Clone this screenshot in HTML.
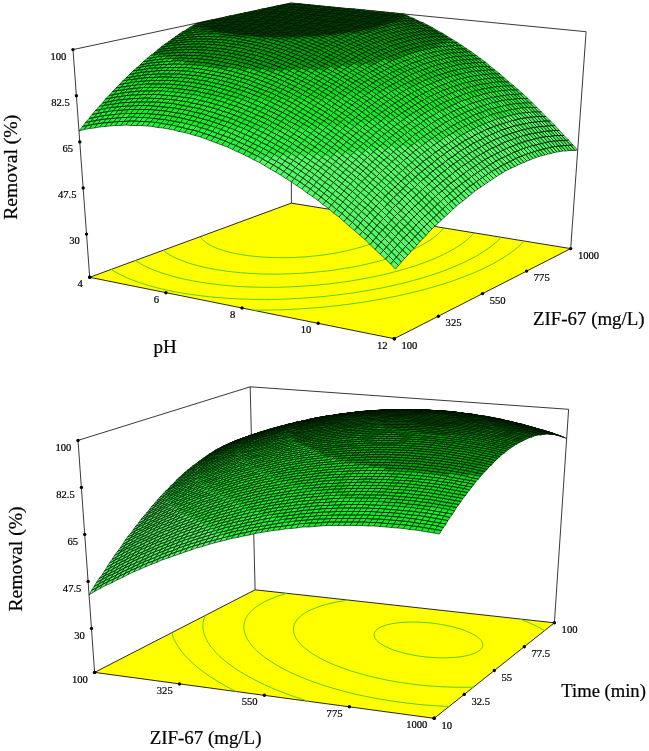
<!DOCTYPE html>
<html><head><meta charset="utf-8"><style>
html,body{margin:0;padding:0;background:#fff}
body{width:649px;height:751px;overflow:hidden;font-family:"Liberation Serif",serif}
svg{display:block}
text{font-family:"Liberation Serif",serif;fill:#000;stroke:#000;stroke-width:0.22px}
</style></head><body>
<svg width="649" height="751" viewBox="0 0 649 751">
<rect width="649" height="751" fill="#fff"/>
<path d="M89.7,277.3 L394.3,338.7 L570.7,248.6 L291.4,203.1 Z" fill="#ff0" stroke="#111" stroke-width="0.9"/>
<path d="M90.8,277.5L90.1,277.1M252.4,310.1L259.3,310.1L264.9,310.1L270.9,310L277.6,309.9L284.1,309.7L290.4,309.4L296.5,309.1L302.3,308.7L308,308.4L313.6,307.9L320,307.4L326.7,306.8L331.9,306.2L337.1,305.7L344.1,304.8L348.8,304.2L355.4,303.3L360.1,302.6L366.7,301.6L371,300.9L377.2,299.8L383.3,298.7L387.8,297.9L393.1,296.8L398.8,295.6L404.4,294.4L409.8,293.1L415.1,291.8L420.3,290.5L425.3,289.2L430.2,287.8L435,286.5L440.2,284.9L445.8,283.2L450.2,281.7L455.5,279.9L460.1,278.2L465.5,276.2L469.4,274.6L474.4,272.5L479.3,270.4L484,268.2L488.5,266L492.8,263.8L496.9,261.5L500.9,259.2L503.7,257.5L507.3,255.1L510.1,253.2L513.2,250.9L515.5,249.1L518,247L520.5,244.8L522.4,242.9L524.2,241L524.2,241M111,269.4L114.3,271.4L116.6,272.7L120.2,274.6L123.4,276.1L126.7,277.7L130.8,279.4L135.2,281L139.7,282.6L144.3,284.2L149.3,285.7L155.9,287.5L161.2,288.8L168.5,290.5L176.1,292L184,293.4L190.1,294.3L198.1,295.4L205.2,296.3L211.9,297L218.8,297.6L225.9,298.2L232.2,298.6L238.2,298.9L245.8,299.1L251.1,299.3L258.9,299.4L264.5,299.4L270.2,299.4L277.2,299.3L283.8,299.1L290.2,298.8L296.3,298.5L302.2,298.2L308,297.8L313.5,297.4L318.9,296.9L325.6,296.3L331.6,295.6L336.5,295.1L343.4,294.2L348.3,293.6L354.7,292.6L359.3,291.9L365.7,290.9L370.9,290L375.9,289L381.8,287.9L387.5,286.7L393.1,285.5L398.5,284.2L403.8,283L408.9,281.7L413.8,280.3L418.7,279L423.4,277.6L428.8,275.9L433.9,274.3L438.2,272.8L443.8,270.8L447.8,269.3L452.9,267.2L457.9,265.1L462.7,263L467.2,260.8L471.5,258.6L475.7,256.4L479.6,254.1L482.4,252.4L486,250.1L488.5,248.3L491.2,246.3L493.9,244.1L496.1,242.2L498.1,240.4L499.9,238.5L501.1,237.3M135.4,260.5L137.4,261.8L140.7,263.8L143,265.1L146.6,266.9L150.2,268.5L153.4,269.9L157.4,271.4L161.8,273L167.3,274.7L172.9,276.4L178,277.7L185.1,279.3L192.6,280.8L200.4,282.2L206.4,283.1L214.9,284.2L221.4,285L228.2,285.6L235.1,286.2L242.3,286.6L248.1,286.9L254.8,287.1L261.3,287.2L268,287.3L273.5,287.3L280,287.2L286.7,287L293.1,286.7L299.2,286.4L305,286L310.6,285.6L316,285.2L322.6,284.5L328.8,283.9L333.6,283.3L340.5,282.4L345.1,281.8L351.7,280.8L356.2,280L362.1,279L368.1,277.9L373.8,276.7L378.6,275.7L383.7,274.6L389,273.3L394.7,271.8L400.1,270.4L404.8,269L409.4,267.6L415.3,265.8L419.6,264.3L425.1,262.3L429,260.8L434,258.8L438.8,256.7L443.4,254.5L447.7,252.3L451.8,250.1L454.7,248.4L458.4,246.1L461,244.4L463.9,242.3L466.5,240.3L468.6,238.4L470.6,236.6L472.4,234.7L474.1,232.9L474.1,232.9M163,250.3L164.8,251.7L167.2,253.3L169.9,255L172.6,256.5L175.8,258L179.7,259.7L183.8,261.3L188.2,262.9L192.8,264.3L197.6,265.6L204.5,267.3L211.7,268.8L219.4,270.1L227.5,271.3L233.8,272L240.4,272.7L247.3,273.2L254.4,273.6L260.5,273.9L267,274L273.2,274.1L280.3,274.1L286,273.9L291.7,273.7L297.7,273.5L303.9,273.1L310.3,272.6L316.7,272L321.8,271.5L327.5,270.9L333.7,270.1L338.8,269.3L344.7,268.4L350.9,267.4L355.7,266.5L360.6,265.5L366.1,264.3L371.4,263L376.5,261.8L382.8,260.1L387.7,258.6L392.2,257.3L397.9,255.3L401.9,253.9L407.1,251.9L412,249.8L416.6,247.7L420.9,245.6L423.9,243.9L427.7,241.7L430.3,240L433.6,237.6L435.8,235.9L437.9,234.1L439.8,232.3L441.5,230.4L443,228.5L443.5,227.9M200.2,236.7L201.3,238.2L202.7,239.8L204.4,241.3L206.9,243.2L209,244.5L212.4,246.3L215.1,247.5L218.9,249L223.2,250.4L229.5,252.2L234.6,253.4L241.9,254.7L247.8,255.6L256.1,256.5L262.8,257.1L269,257.4L274.7,257.6L282.3,257.7L287.9,257.6L293.6,257.5L299.5,257.2L305.7,256.8L312.3,256.2L318,255.6L323.1,255L329.4,254L335.3,253.1L339.8,252.2L345.2,251.1L350.5,249.9L356.5,248.4L361.8,246.9L366.2,245.5L371.7,243.6L376.8,241.6L381.4,239.5L385.6,237.4L388.6,235.8L392.1,233.5L394.4,231.8L396.5,230L398.4,228.2L400,226.4L401.3,224.5L402.2,222.7L402.7,221.2L402.7,221.2" fill="none" stroke="#5fcc10" stroke-width="1"/>
<path d="M73,49.6L291,3" stroke="#222" stroke-width="0.9" fill="none"/>
<path d="M291,3L586.1,31.7" stroke="#222" stroke-width="0.9" fill="none"/>
<path d="M291.4,203.1L291,3" stroke="#222" stroke-width="0.9" fill="none"/>
<path d="M570.7,248.6L586.1,31.7" stroke="#222" stroke-width="0.9" fill="none"/>
<path d="M89.7,277.3L73,49.6" stroke="#222" stroke-width="0.9" fill="none"/>
<g stroke="#001000" stroke-width="1.2" stroke-linejoin="round" transform="scale(0.5)"><path fill="#008a02" d="M575,8l10,1 7-2 -10-1zM567,9l10,1 8-1 -10-1zM560,11l10,1 7-2 -10-1zM553,12l10,1 7-1 -10-1zM546,14l10,1 7-2 -10-1zM538,15l10,1 8-1 -10-1zM531,17l10,1 7-2 -10-1zM524,18l10,1 7-1 -10-1zM517,20l10,1 7-2 -10-1zM509,22l10,1 8-2 -10-1zM502,23l10,1 7-1 -10-1zM495,25l10,1 7-2 -10-1zM488,26l10,1 7-1 -10-1zM480,28l10,1 8-2 -10-1zM473,29l10,1 7-1 -10-1zM466,31l10,1 7-2 -10-1zM458,32l11,2 7-2 -10-1zM451,34l10,1 8-1 -11-2zM444,36l10,1 7-2 -10-1zM437,37l10,1 7-1 -10-1zM429,39l11,1 7-2 -10-1zM422,40l10,1 8-1 -11-1zM415,42l10,1 7-2 -10-1zM408,43l10,1 7-1 -10-1zM400,45l11,1 7-2 -10-1zM393,47l10,1 8-2 -11-1zM386,51l10-1 7-2 -10-1zM379,55l10-1 7-4 -10,1z"/><path fill="#00a406" d="M372,60l10-2 7-4 -10,1zM364,64l11-1 7-5 -10,2zM357,69l11-2 7-4 -11,1zM350,74l10-2 8-5 -11,2zM343,79l10-2 7-5 -10,2zM336,84l10-2 7-5 -10,2zM329,89l10-2 7-5 -10,2zM322,94l10-1 7-6 -10,2zM315,100l10-2 7-5 -10,1zM308,106l10-2 7-6 -10,2zM301,111l10-1 7-6 -10,2z"/><path fill="#0ce01e" d="M294,117l10-1 7-6 -10,1zM287,123l10-1 7-6 -10,1zM280,130l10-2 7-6 -10,1zM273,136l10-2 7-6 -10,2zM266,142l10-2 7-6 -10,2zM259,149l10-2 7-7 -10,2zM252,156l11-2 6-7 -10,2zM245,162l11-2 7-6 -11,2z"/><path fill="#14ec28" d="M239,169l10-2 7-7 -11,2zM232,176l10-2 7-7 -10,2zM225,183l10-2 7-7 -10,2zM218,191l10-2 7-8 -10,2zM211,198l11-2 6-7 -10,2zM205,206l10-2 7-8 -11,2zM198,213l10-2 7-7 -10,2z"/><path fill="#26f43c" d="M191,221l10-2 7-8 -10,2zM184,229l11-2 6-8 -10,2zM178,237l10-2 7-8 -11,2zM171,245l10-2 7-8 -10,2zM165,253l10-2 6-8 -10,2zM158,262l10-3 7-8 -10,2z"/><path fill="#008a02" d="M585,9l9,0 8-1 -10-1zM577,10l10,1 7-2 -9,0zM570,12l10,1 7-2 -10-1zM563,13l10,1 7-1 -10-1zM556,15l10,1 7-2 -10-1zM548,16l10,1 8-1 -10-1zM541,18l10,1 7-2 -10-1zM534,19l10,1 7-1 -10-1zM527,21l10,1 7-2 -10-1zM519,23l10,1 8-2 -10-1zM512,24l10,1 7-1 -10-1zM505,26l10,1 7-2 -10-1zM498,27l10,1 7-1 -10-1zM490,29l10,1 8-2 -10-1zM483,30l10,1 7-1 -10-1zM476,32l10,1 7-2 -10-1zM469,34l10,1 7-2 -10-1zM461,35l10,1 8-1 -10-1zM454,37l10,1 7-2 -10-1zM447,38l10,1 7-1 -10-1zM440,40l10,1 7-2 -10-1zM432,41l11,1 7-1 -10-1zM425,43l10,1 8-2 -11-1zM418,44l10,2 7-2 -10-1zM411,46l10,1 7-1 -10-2zM403,48l11,1 7-2 -10-1zM396,50l10,0 8-1 -11-1zM389,54l10-1 7-3 -10,0zM382,58l10-1 7-4 -10,1z"/><path fill="#00a406" d="M375,63l10-2 7-4 -10,1zM368,67l10-1 7-5 -10,2zM360,72l11-1 7-5 -10,1zM353,77l11-1 7-5 -11,1zM346,82l11-1 7-5 -11,1zM339,87l11-1 7-5 -11,1zM332,93l10-2 8-5 -11,1zM325,98l10-1 7-6 -10,2zM318,104l10-2 7-5 -10,1zM311,110l10-2 7-6 -10,2z"/><path fill="#0ce01e" d="M304,116l10-2 7-6 -10,2zM297,122l11-2 6-6 -10,2zM290,128l11-2 7-6 -11,2zM283,134l11-2 7-6 -11,2zM276,140l11-1 7-7 -11,2zM269,147l11-2 7-6 -11,1zM263,154l10-2 7-7 -11,2zM256,160l10-1 7-7 -10,2z"/><path fill="#14ec28" d="M249,167l10-1 7-7 -10,1zM242,174l10-1 7-7 -10,1zM235,181l11-1 6-7 -10,1zM228,189l11-2 7-7 -11,1zM222,196l10-2 7-7 -11,2zM215,204l10-2 7-8 -10,2zM208,211l11-2 6-7 -10,2zM201,219l11-2 7-8 -11,2z"/><path fill="#26f43c" d="M195,227l10-2 7-8 -11,2zM188,235l10-2 7-8 -10,2zM181,243l11-2 6-8 -10,2zM175,251l10-2 7-8 -11,2zM168,259l11-2 6-8 -10,2z"/><path fill="#008a02" d="M594,9l10,1 8-1 -10-1zM587,11l10,1 7-2 -10-1zM580,13l10,1 7-2 -10-1zM573,14l10,1 7-1 -10-1zM566,16l9,1 8-2 -10-1zM558,17l10,1 7-1 -9-1zM551,19l10,1 7-2 -10-1zM544,20l10,2 7-2 -10-1zM537,22l10,1 7-1 -10-2zM529,24l10,1 8-2 -10-1zM522,25l10,1 7-1 -10-1zM515,27l10,1 7-2 -10-1zM508,28l10,1 7-1 -10-1zM500,30l10,1 8-2 -10-1zM493,31l10,2 7-2 -10-1zM486,33l10,1 7-1 -10-2zM479,35l10,1 7-2 -10-1zM471,36l11,1 7-1 -10-1zM464,38l10,1 8-2 -11-1zM457,39l10,1 7-1 -10-1zM450,41l10,1 7-2 -10-1zM443,42l10,2 7-2 -10-1zM435,44l11,1 7-1 -10-2zM428,46l10,1 8-2 -11-1zM421,47l10,1 7-1 -10-1zM414,49l10,1 7-2 -10-1zM406,50l11,2 7-2 -10-1zM399,53l10,0 8-1 -11-2zM392,57l10-1 7-3 -10,0z"/><path fill="#00a406" d="M385,61l10-1 7-4 -10,1zM378,66l10-1 7-5 -10,1zM371,71l10-1 7-5 -10,1zM364,76l10-1 7-5 -10,1zM357,81l10-1 7-5 -10,1zM350,86l10-1 7-5 -10,1zM342,91l11-1 7-5 -10,1zM335,97l11-1 7-6 -11,1zM328,102l11-1 7-5 -11,1zM321,108l11-1 7-6 -11,1zM314,114l11-1 7-6 -11,1z"/><path fill="#0ce01e" d="M308,120l10-1 7-6 -11,1zM301,126l10-1 7-6 -10,1zM294,132l10-1 7-6 -10,1zM287,139l10-2 7-6 -10,1zM280,145l10-1 7-7 -10,2zM273,152l10-1 7-7 -10,1zM266,159l10-2 7-6 -10,1zM259,166l11-2 6-7 -10,2z"/><path fill="#14ec28" d="M252,173l11-2 7-7 -11,2zM246,180l10-2 7-7 -11,2zM239,187l10-2 7-7 -10,2zM232,194l10-1 7-8 -10,2zM225,202l11-2 6-7 -10,1zM219,209l10-1 7-8 -11,2zM212,217l10-2 7-7 -10,1z"/><path fill="#26f43c" d="M205,225l11-2 6-8 -10,2zM198,233l11-2 7-8 -11,2zM192,241l10-2 7-8 -11,2zM185,249l11-2 6-8 -10,2zM179,257l10-1 7-9 -11,2z"/><path fill="#008a02" d="M604,10l10,1 7-1 -9-1zM597,12l10,1 7-2 -10-1zM590,14l10,1 7-2 -10-1zM583,15l10,1 7-1 -10-1zM575,17l10,1 8-2 -10-1zM568,18l10,1 7-1 -10-1zM561,20l10,1 7-2 -10-1zM554,22l10,1 7-2 -10-1zM547,23l10,1 7-1 -10-1zM539,25l10,1 8-2 -10-1zM532,26l10,1 7-1 -10-1zM525,28l10,1 7-2 -10-1zM518,29l10,1 7-1 -10-1zM510,31l11,1 7-2 -10-1zM503,33l10,1 8-2 -11-1zM496,34l10,1 7-1 -10-1zM489,36l10,1 7-2 -10-1zM482,37l10,1 7-1 -10-1zM474,39l11,1 7-2 -10-1zM467,40l10,2 8-2 -11-1zM460,42l10,1 7-1 -10-2zM453,44l10,1 7-2 -10-1zM446,45l10,1 7-1 -10-1zM438,47l11,1 7-2 -10-1zM431,48l10,2 8-2 -11-1zM424,50l10,1 7-1 -10-2zM417,52l10,1 7-2 -10-1zM409,53l11,1 7-1 -10-1zM402,56l11,0 7-2 -11-1zM395,60l10,0 8-4 -11,0z"/><path fill="#00a406" d="M388,65l10-1 7-4 -10,0zM381,70l10-1 7-5 -10,1zM374,75l10-1 7-5 -10,1zM367,80l10-1 7-5 -10,1zM360,85l10-1 7-5 -10,1zM353,90l10-1 7-5 -10,1zM346,96l10-1 7-6 -10,1zM339,101l10-1 7-5 -10,1zM332,107l10-1 7-6 -10,1zM325,113l10-1 7-6 -10,1z"/><path fill="#0ce01e" d="M318,119l10-1 7-6 -10,1zM311,125l10-1 7-6 -10,1zM304,131l10-1 7-6 -10,1zM297,137l10-1 7-6 -10,1zM290,144l11-1 6-7 -10,1zM283,151l11-2 7-6 -11,1zM276,157l11-1 7-7 -11,2zM270,164l10-1 7-7 -11,1z"/><path fill="#14ec28" d="M263,171l10-1 7-7 -10,1zM256,178l10-1 7-7 -10,1zM249,185l11-1 6-7 -10,1zM242,193l11-2 7-7 -11,1zM236,200l10-1 7-8 -11,2zM229,208l10-2 7-7 -10,1zM222,215l11-1 6-8 -10,2zM216,223l10-1 7-8 -11,1z"/><path fill="#26f43c" d="M209,231l10-1 7-8 -10,1zM202,239l11-1 6-8 -10,1zM196,247l10-1 7-8 -11,1zM189,256l10-2 7-8 -10,1z"/><path fill="#008a02" d="M614,11l10,1 7-1 -10-1zM607,13l10,1 7-2 -10-1zM600,15l10,1 7-2 -10-1zM593,16l9,1 8-1 -10-1zM585,18l10,1 7-2 -9-1zM578,19l10,1 7-1 -10-1zM571,21l10,1 7-2 -10-1zM564,23l10,1 7-2 -10-1zM557,24l10,1 7-1 -10-1zM549,26l10,1 8-2 -10-1zM542,27l10,1 7-1 -10-1zM535,29l10,1 7-2 -10-1zM528,30l10,2 7-2 -10-1zM521,32l10,1 7-1 -10-2zM513,34l10,1 8-2 -10-1zM506,35l10,1 7-1 -10-1zM499,37l10,1 7-2 -10-1zM492,38l10,2 7-2 -10-1zM485,40l10,1 7-1 -10-2zM477,42l11,1 7-2 -10-1zM470,43l10,1 8-1 -11-1zM463,45l10,1 7-2 -10-1zM456,46l10,1 7-1 -10-1zM449,48l10,1 7-2 -10-1zM441,50l11,1 7-2 -10-1zM434,51l10,1 8-1 -11-1zM427,53l10,1 7-2 -10-1zM420,54l10,1 7-1 -10-1zM413,56l10,1 7-2 -10-1zM405,60l11-1 7-2 -10-1zM398,64l11,0 7-5 -11,1z"/><path fill="#00a406" d="M391,69l11-1 7-4 -11,0zM384,74l11-1 7-5 -11,1zM377,79l11-1 7-5 -11,1zM370,84l10-1 8-5 -11,1zM363,89l10,0 7-6 -10,1zM356,95l10-1 7-5 -10,0zM349,100l10,0 7-6 -10,1zM342,106l11-1 6-5 -10,0zM335,112l11-1 7-6 -11,1zM328,118l11-1 7-6 -11,1z"/><path fill="#0ce01e" d="M321,124l11-1 7-6 -11,1zM314,130l11-1 7-6 -11,1zM307,136l11,0 7-7 -11,1zM301,143l10-1 7-6 -11,0zM294,149l10,0 7-7 -10,1zM287,156l10-1 7-6 -10,0zM280,163l10-1 7-7 -10,1zM273,170l11-1 6-7 -10,1z"/><path fill="#14ec28" d="M266,177l11-1 7-7 -11,1zM260,184l10-1 7-7 -11,1zM253,191l10-1 7-7 -10,1zM246,199l11-1 6-8 -10,1zM239,206l11-1 7-7 -11,1zM233,214l10-1 7-8 -11,1zM226,222l10-1 7-8 -10,1z"/><path fill="#26f43c" d="M219,230l11-1 6-8 -10,1zM213,238l10-1 7-8 -11,1zM206,246l10-1 7-8 -10,1zM199,254l11-1 6-8 -10,1z"/><path fill="#008a02" d="M624,12l10,1 7-1 -10-1zM617,14l10,1 7-2 -10-1zM610,16l10,1 7-2 -10-1zM602,17l10,1 8-1 -10-1zM595,19l10,1 7-2 -10-1zM588,20l10,1 7-1 -10-1zM581,22l10,1 7-2 -10-1zM574,24l10,1 7-2 -10-1zM567,25l10,1 7-1 -10-1zM559,27l10,1 8-2 -10-1zM552,28l10,1 7-1 -10-1zM545,30l10,1 7-2 -10-1zM538,32l10,1 7-2 -10-1zM531,33l10,1 7-1 -10-1zM523,35l11,1 7-2 -10-1zM516,36l10,1 8-1 -11-1zM509,38l10,1 7-2 -10-1zM502,40l10,1 7-2 -10-1zM495,41l10,1 7-1 -10-1zM488,43l10,1 7-2 -10-1zM480,44l11,1 7-1 -10-1zM473,46l10,1 8-2 -11-1zM466,47l10,2 7-2 -10-1zM459,49l10,1 7-1 -10-2zM452,51l10,1 7-2 -10-1zM444,52l11,1 7-1 -10-1zM437,54l11,1 7-2 -11-1zM430,55l10,2 8-2 -11-1zM423,57l10,1 7-1 -10-2zM416,59l10,1 7-2 -10-1zM409,64l10,0 7-4 -10-1z"/><path fill="#00a406" d="M402,68l10,0 7-4 -10,0zM395,73l10,0 7-5 -10,0zM388,78l10,0 7-5 -10,0zM380,83l11,0 7-5 -10,0zM373,89l11-1 7-5 -11,0zM366,94l11,0 7-6 -11,1zM359,100l11-1 7-5 -11,0zM353,105l10,0 7-6 -11,1zM346,111l10,0 7-6 -10,0zM339,117l10,0 7-6 -10,0z"/><path fill="#0ce01e" d="M332,123l10,0 7-6 -10,0zM325,129l10,0 7-6 -10,0zM318,136l10-1 7-6 -10,0zM311,142l10-1 7-6 -10,1zM304,149l11-1 6-7 -10,1zM297,155l11,0 7-7 -11,1zM290,162l11-1 7-6 -11,0zM284,169l10-1 7-7 -11,1z"/><path fill="#14ec28" d="M277,176l10-1 7-7 -10,1zM270,183l10-1 7-7 -10,1zM263,190l11,0 6-8 -10,1zM257,198l10-1 7-7 -11,0zM250,205l10,0 7-8 -10,1zM243,213l11-1 6-7 -10,0zM236,221l11-1 7-8 -11,1zM230,229l10-1 7-8 -11,1z"/><path fill="#26f43c" d="M223,237l11-1 6-8 -10,1zM216,245l11-1 7-8 -11,1zM210,253l10-1 7-8 -11,1z"/><path fill="#008a02" d="M634,13l10,1 7-1 -10-1zM627,15l10,1 7-2 -10-1zM620,17l9,1 8-2 -10-1zM612,18l10,1 7-1 -9-1zM605,20l10,1 7-2 -10-1zM598,21l10,1 7-1 -10-1zM591,23l10,1 7-2 -10-1zM584,25l10,1 7-2 -10-1zM577,26l10,1 7-1 -10-1zM569,28l10,1 8-2 -10-1zM562,29l10,1 7-1 -10-1zM555,31l10,1 7-2 -10-1zM548,33l10,1 7-2 -10-1zM541,34l10,1 7-1 -10-1zM534,36l10,1 7-2 -10-1zM526,37l11,2 7-2 -10-1zM519,39l10,1 8-1 -11-2zM512,41l10,1 7-2 -10-1zM505,42l10,1 7-1 -10-1zM498,44l10,1 7-2 -10-1zM491,45l10,2 7-2 -10-1zM483,47l11,1 7-1 -10-2zM476,49l10,1 8-2 -11-1zM469,50l10,1 7-1 -10-1zM462,52l10,1 7-2 -10-1zM455,53l10,2 7-2 -10-1zM448,55l10,1 7-1 -10-2zM440,57l11,1 7-2 -10-1zM433,58l11,1 7-1 -11-1zM426,60l10,1 8-2 -11-1zM419,64l10-1 7-2 -10-1zM412,68l10,0 7-5 -10,1z"/><path fill="#00a406" d="M405,73l10,0 7-5 -10,0zM398,78l10,0 7-5 -10,0zM391,83l10,0 7-5 -10,0zM384,88l10,0 7-5 -10,0zM377,94l10,0 7-6 -10,0zM370,99l10,0 7-5 -10,0zM363,105l10,0 7-6 -10,0zM356,111l10-1 7-5 -10,0zM349,117l10-1 7-6 -10,1zM342,123l10-1 7-6 -10,1z"/><path fill="#0ce01e" d="M335,129l11-1 6-6 -10,1zM328,135l11,0 7-7 -11,1zM321,141l11,0 7-6 -11,0zM315,148l10,0 7-7 -11,0zM308,155l10-1 7-6 -10,0zM301,161l10,0 7-7 -10,1zM294,168l11,0 6-7 -10,0zM287,175l11,0 7-7 -11,0z"/><path fill="#14ec28" d="M280,182l11,0 7-7 -11,0zM274,190l10-1 7-7 -11,0zM267,197l10,0 7-8 -10,1zM260,205l11-1 6-7 -10,0zM254,212l10,0 7-8 -11,1zM247,220l10-1 7-7 -10,0zM240,228l11-1 6-8 -10,1z"/><path fill="#26f43c" d="M234,236l10-1 7-8 -11,1zM227,244l10-1 7-8 -10,1zM220,252l11-1 6-8 -10,1z"/><path fill="#008a02" d="M644,14l10,1 7-1 -10-1zM637,16l9,1 8-2 -10-1zM629,18l10,1 7-2 -9-1zM622,19l10,1 7-1 -10-1zM615,21l10,1 7-2 -10-1zM608,22l10,1 7-1 -10-1zM601,24l10,1 7-2 -10-1zM594,26l10,1 7-2 -10-1zM587,27l10,1 7-1 -10-1zM579,29l10,1 8-2 -10-1zM572,30l10,1 7-1 -10-1zM565,32l10,1 7-2 -10-1zM558,34l10,1 7-2 -10-1zM551,35l10,1 7-1 -10-1zM544,37l10,1 7-2 -10-1zM537,39l10,1 7-2 -10-1zM529,40l10,1 8-1 -10-1zM522,42l10,1 7-2 -10-1zM515,43l10,1 7-1 -10-1zM508,45l10,1 7-2 -10-1zM501,47l10,1 7-2 -10-1zM494,48l10,1 7-1 -10-1zM486,50l11,1 7-2 -10-1zM479,51l11,2 7-2 -11-1zM472,53l10,1 8-1 -11-2zM465,55l10,1 7-2 -10-1zM458,56l10,1 7-1 -10-1zM451,58l10,1 7-2 -10-1zM444,59l10,2 7-2 -10-1zM436,61l11,1 7-1 -10-2zM429,63l11,1 7-2 -11-1zM422,68l11,0 7-4 -11-1z"/><path fill="#00a406" d="M415,73l11,0 7-5 -11,0zM408,78l11,0 7-5 -11,0zM401,83l11,0 7-5 -11,0zM394,88l11,0 7-5 -11,0zM387,94l11,0 7-6 -11,0zM380,99l11,0 7-5 -11,0zM373,105l11,0 7-6 -11,0zM366,110l11,1 7-6 -11,0zM359,116l11,0 7-5 -11-1zM352,122l11,0 7-6 -11,0z"/><path fill="#0ce01e" d="M346,128l10,0 7-6 -11,0zM339,135l10,0 7-7 -10,0zM332,141l10,0 7-6 -10,0zM325,148l10,0 7-7 -10,0zM318,154l11,0 6-6 -10,0zM311,161l11,0 7-7 -11,0zM305,168l10,0 7-7 -11,0zM298,175l10,0 7-7 -10,0z"/><path fill="#14ec28" d="M291,182l10,0 7-7 -10,0zM284,189l11,0 6-7 -10,0zM277,197l11-1 7-7 -11,0zM271,204l10,0 7-8 -11,1zM264,212l11-1 6-7 -10,0zM257,219l11,0 7-8 -11,1zM251,227l10,0 7-8 -11,0z"/><path fill="#26f43c" d="M244,235l11,0 6-8 -10,0zM237,243l11,0 7-8 -11,0zM231,251l10,0 7-8 -11,0z"/><path fill="#008a02" d="M654,15l9,1 8-1 -10-1zM646,17l10,1 7-2 -9-1zM639,19l10,1 7-2 -10-1zM632,20l10,1 7-1 -10-1zM625,22l10,1 7-2 -10-1zM618,23l10,1 7-1 -10-1zM611,25l10,1 7-2 -10-1zM604,27l10,1 7-2 -10-1zM597,28l10,1 7-1 -10-1zM589,30l10,1 8-2 -10-1zM582,31l10,2 7-2 -10-1zM575,33l10,1 7-1 -10-2zM568,35l10,1 7-2 -10-1zM561,36l10,1 7-1 -10-1zM554,38l10,1 7-2 -10-1zM547,40l10,1 7-2 -10-1zM539,41l11,1 7-1 -10-1zM532,43l11,1 7-2 -11-1zM525,44l10,2 8-2 -11-1zM518,46l10,1 7-1 -10-2zM511,48l10,1 7-2 -10-1zM504,49l10,1 7-1 -10-1zM497,51l10,1 7-2 -10-1zM490,53l10,1 7-2 -10-1zM482,54l11,1 7-1 -10-1zM475,56l11,1 7-2 -11-1zM468,57l10,2 8-2 -11-1zM461,59l10,1 7-1 -10-2zM454,61l10,1 7-2 -10-1zM447,62l10,2 7-2 -10-1zM440,64l10,1 7-1 -10-2zM433,68l10,1 7-4 -10-1z"/><path fill="#00a406" d="M426,73l10,1 7-5 -10-1zM419,78l10,1 7-5 -10-1zM412,83l10,1 7-5 -10-1zM405,88l10,1 7-5 -10-1zM398,94l10,0 7-5 -10-1zM391,99l10,1 7-6 -10,0zM384,105l10,0 7-5 -10-1zM377,111l10,0 7-6 -10,0zM370,116l10,1 7-6 -10,0zM363,122l10,1 7-6 -10-1z"/><path fill="#0ce01e" d="M356,128l10,1 7-6 -10-1zM349,135l11,0 6-6 -10-1zM342,141l11,0 7-6 -11,0zM335,148l11,0 7-7 -11,0zM329,154l10,0 7-6 -11,0zM322,161l10,0 7-7 -10,0zM315,168l10,0 7-7 -10,0zM308,175l11,0 6-7 -10,0z"/><path fill="#14ec28" d="M301,182l11,0 7-7 -11,0zM295,189l10,0 7-7 -11,0zM288,196l10,0 7-7 -10,0zM281,204l11,0 6-8 -10,0zM275,211l10,0 7-7 -11,0zM268,219l10,0 7-8 -10,0zM261,227l11,0 6-8 -10,0zM255,235l10-1 7-7 -11,0z"/><path fill="#26f43c" d="M248,243l10-1 7-8 -10,1zM241,251l11-1 6-8 -10,1z"/><path fill="#008a02" d="M663,16l10,1 7-1 -9-1zM656,18l10,1 7-2 -10-1zM649,20l10,0 7-1 -10-1zM642,21l10,1 7-2 -10,0zM635,23l10,1 7-2 -10-1zM628,24l10,1 7-1 -10-1zM621,26l10,1 7-2 -10-1zM614,28l10,1 7-2 -10-1zM607,29l10,1 7-1 -10-1zM599,31l10,1 8-2 -10-1zM592,33l10,1 7-2 -10-1zM585,34l10,1 7-1 -10-1zM578,36l10,1 7-2 -10-1zM571,37l10,2 7-2 -10-1zM564,39l10,1 7-1 -10-2zM557,41l10,1 7-2 -10-1zM550,42l10,1 7-1 -10-1zM543,44l10,1 7-2 -10-1zM535,46l11,1 7-2 -10-1zM528,47l10,1 8-1 -11-1zM521,49l10,1 7-2 -10-1zM514,50l10,2 7-2 -10-1zM507,52l10,1 7-1 -10-2zM500,54l10,1 7-2 -10-1zM493,55l10,2 7-2 -10-1zM486,57l10,1 7-1 -10-2zM478,59l11,1 7-2 -10-1zM471,60l11,1 7-1 -11-1zM464,62l11,1 7-2 -11-1zM457,64l11,1 7-2 -11-1zM450,65l10,1 8-1 -11-1zM443,69l10,1 7-4 -10-1zM436,74l10,0 7-4 -10-1z"/><path fill="#00a406" d="M429,79l10,0 7-5 -10,0zM422,84l10,0 7-5 -10,0zM415,89l10,0 7-5 -10,0zM408,94l10,1 7-6 -10,0zM401,100l10,0 7-5 -10-1zM394,105l11,1 6-6 -10,0zM387,111l11,0 7-5 -11-1zM380,117l11,0 7-6 -11,0zM373,123l11,0 7-6 -11,0zM366,129l11,0 7-6 -11,0z"/><path fill="#0ce01e" d="M360,135l10,0 7-6 -11,0zM353,141l10,1 7-7 -10,0zM346,148l10,0 7-6 -10-1zM339,154l11,1 6-7 -10,0zM332,161l11,0 7-6 -11-1zM325,168l11,0 7-7 -11,0zM319,175l10,0 7-7 -11,0zM312,182l10,0 7-7 -10,0z"/><path fill="#14ec28" d="M305,189l11,0 6-7 -10,0zM298,196l11,1 7-8 -11,0zM292,204l10,0 7-7 -11-1zM285,211l11,0 6-7 -10,0zM278,219l11,0 7-8 -11,0zM272,227l10,0 7-8 -11,0zM265,234l11,1 6-8 -10,0z"/><path fill="#26f43c" d="M258,242l11,0 7-7 -11-1zM252,250l10,1 7-9 -11,0z"/><path fill="#008a02" d="M673,17l10,1 7-1 -10-1zM666,19l10,1 7-2 -10-1zM659,20l10,1 7-1 -10-1zM652,22l10,1 7-2 -10-1zM645,24l10,1 7-2 -10-1zM638,25l10,1 7-1 -10-1zM631,27l10,1 7-2 -10-1zM624,29l10,1 7-2 -10-1zM617,30l9,1 8-1 -10-1zM609,32l10,1 7-2 -9-1zM602,34l10,1 7-2 -10-1zM595,35l10,1 7-1 -10-1zM588,37l10,1 7-2 -10-1zM581,39l10,1 7-2 -10-1zM574,40l10,1 7-1 -10-1zM567,42l10,1 7-2 -10-1zM560,43l10,2 7-2 -10-1zM553,45l10,1 7-1 -10-2zM546,47l10,1 7-2 -10-1zM538,48l11,1 7-1 -10-1zM531,50l11,1 7-2 -11-1zM524,52l10,1 8-2 -11-1zM517,53l10,1 7-1 -10-1zM510,55l10,1 7-2 -10-1zM503,57l10,1 7-2 -10-1zM496,58l10,1 7-1 -10-1zM489,60l10,1 7-2 -10-1zM482,61l10,2 7-2 -10-1zM475,63l10,1 7-1 -10-2zM468,65l10,1 7-2 -10-1zM460,66l11,2 7-2 -10-1zM453,70l11,1 7-3 -11-2zM446,74l11,1 7-4 -11-1z"/><path fill="#00a406" d="M439,79l11,1 7-5 -11-1zM432,84l11,1 7-5 -11-1zM425,89l11,1 7-5 -11-1zM418,95l11,1 7-6 -11-1zM411,100l11,1 7-5 -11-1zM405,106l10,1 7-6 -11-1zM398,111l10,1 7-5 -10-1zM391,117l10,1 7-6 -10-1zM384,123l10,1 7-6 -10-1zM377,129l10,1 7-6 -10-1z"/><path fill="#0ce01e" d="M370,135l11,1 6-6 -10-1zM363,142l11,0 7-6 -11-1zM356,148l11,1 7-7 -11,0zM350,155l10,0 7-6 -11-1zM343,161l10,1 7-7 -10,0zM336,168l11,1 6-7 -10-1zM329,175l11,1 7-7 -11-1zM322,182l11,1 7-7 -11-1z"/><path fill="#14ec28" d="M316,189l10,1 7-7 -11-1zM309,197l11,0 6-7 -10-1zM302,204l11,0 7-7 -11,0zM296,211l10,1 7-8 -11,0zM289,219l11,0 6-7 -10-1zM282,227l11,0 7-8 -11,0zM276,235l10,0 7-8 -11,0z"/><path fill="#26f43c" d="M269,242l11,1 6-8 -10,0zM262,251l11,0 7-8 -11-1z"/><path fill="#008a02" d="M683,18l10,1 7-2 -10,0zM676,20l10,1 7-2 -10-1zM669,21l10,1 7-1 -10-1zM662,23l10,1 7-2 -10-1zM655,25l10,1 7-2 -10-1zM648,26l10,1 7-1 -10-1zM641,28l10,1 7-2 -10-1zM634,30l10,1 7-2 -10-1zM626,31l10,1 8-1 -10-1zM619,33l10,1 7-2 -10-1zM612,35l10,1 7-2 -10-1zM605,36l10,1 7-1 -10-1zM598,38l10,1 7-2 -10-1zM591,40l10,1 7-2 -10-1zM584,41l10,1 7-1 -10-1zM577,43l10,1 7-2 -10-1zM570,45l10,1 7-2 -10-1zM563,46l10,1 7-1 -10-1zM556,48l10,1 7-2 -10-1zM549,49l10,2 7-2 -10-1zM542,51l10,1 7-1 -10-2zM534,53l11,1 7-2 -10-1zM527,54l11,2 7-2 -11-1zM520,56l11,1 7-1 -11-2zM513,58l11,1 7-2 -11-1zM506,59l10,2 8-2 -11-1zM499,61l10,1 7-1 -10-2zM492,63l10,1 7-2 -10-1zM485,64l10,2 7-2 -10-1zM478,66l10,1 7-1 -10-2zM471,68l10,1 7-2 -10-1zM464,71l10,1 7-3 -10-1zM457,75l10,1 7-4 -10-1z"/><path fill="#00a406" d="M450,80l10,1 7-5 -10-1zM443,85l10,1 7-5 -10-1zM436,90l10,1 7-5 -10-1zM429,96l10,1 7-6 -10-1zM422,101l10,1 7-5 -10-1zM415,107l10,1 7-6 -10-1zM408,112l11,1 6-5 -10-1zM401,118l11,1 7-6 -11-1zM394,124l11,1 7-6 -11-1zM387,130l11,1 7-6 -11-1z"/><path fill="#0ce01e" d="M381,136l10,1 7-6 -11-1zM374,142l10,1 7-6 -10-1zM367,149l10,1 7-7 -10-1zM360,155l11,1 6-6 -10-1zM353,162l11,1 7-7 -11-1zM347,169l10,1 7-7 -11-1zM340,176l10,1 7-7 -10-1zM333,183l11,1 6-7 -10-1z"/><path fill="#14ec28" d="M326,190l11,1 7-7 -11-1zM320,197l10,1 7-7 -11-1zM313,204l10,1 7-7 -10-1zM306,212l11,1 6-8 -10-1zM300,219l10,1 7-7 -11-1zM293,227l10,1 7-8 -10-1zM286,235l11,1 6-8 -10-1z"/><path fill="#26f43c" d="M280,243l10,0 7-7 -11-1zM273,251l11,0 6-8 -10,0z"/><path fill="#008a02" d="M693,19l10,1 7-2 -10-1zM686,21l10,1 7-2 -10-1zM679,22l10,1 7-1 -10-1zM672,24l10,1 7-2 -10-1zM665,26l10,1 7-2 -10-1zM658,27l10,1 7-1 -10-1zM651,29l10,1 7-2 -10-1zM644,31l10,1 7-2 -10-1zM636,32l10,1 8-1 -10-1zM629,34l10,1 7-2 -10-1zM622,36l10,1 7-2 -10-1zM615,37l10,1 7-1 -10-1zM608,39l10,1 7-2 -10-1zM601,41l10,1 7-2 -10-1zM594,42l10,1 7-1 -10-1zM587,44l10,1 7-2 -10-1zM580,46l10,1 7-2 -10-1zM573,47l10,1 7-1 -10-1zM566,49l10,1 7-2 -10-1zM559,51l10,1 7-2 -10-1zM552,52l10,1 7-1 -10-1zM545,54l10,1 7-2 -10-1zM538,56l10,1 7-2 -10-1zM531,57l10,1 7-1 -10-1zM524,59l10,1 7-2 -10-1zM516,61l11,1 7-2 -10-1zM509,62l11,1 7-1 -11-1zM502,64l11,1 7-2 -11-1zM495,66l11,1 7-2 -11-1zM488,67l11,1 7-1 -11-1zM481,69l11,1 7-2 -11-1zM474,72l10,1 8-3 -11-1zM467,76l11,2 6-5 -10-1z"/><path fill="#00a406" d="M460,81l11,2 7-5 -11-2zM453,86l11,2 7-5 -11-2zM446,91l11,2 7-5 -11-2zM439,97l11,1 7-5 -11-2zM432,102l11,1 7-5 -11-1zM425,108l11,1 7-6 -11-1zM419,113l10,2 7-6 -11-1zM412,119l10,1 7-5 -10-2zM405,125l10,1 7-6 -10-1zM398,131l10,1 7-6 -10-1z"/><path fill="#0ce01e" d="M391,137l11,1 6-6 -10-1zM384,143l11,2 7-7 -11-1zM377,150l11,1 7-6 -11-2zM371,156l10,1 7-6 -11-1zM364,163l10,1 7-7 -10-1zM357,170l11,1 6-7 -10-1zM350,177l11,1 7-7 -11-1zM344,184l10,1 7-7 -11-1z"/><path fill="#14ec28" d="M337,191l10,1 7-7 -10-1zM330,198l11,1 6-7 -10-1zM323,205l11,1 7-7 -11-1zM317,213l10,1 7-8 -11-1zM310,220l11,1 6-7 -10-1zM303,228l11,1 7-8 -11-1zM297,236l10,1 7-8 -11-1z"/><path fill="#26f43c" d="M290,243l11,1 6-7 -10-1zM284,251l10,1 7-8 -11-1z"/><path fill="#008a02" d="M703,20l10,1 7-2 -10-1zM696,22l10,1 7-2 -10-1zM689,23l10,1 7-1 -10-1zM682,25l10,1 7-2 -10-1zM675,27l10,1 7-2 -10-1zM668,28l10,1 7-1 -10-1zM661,30l10,1 7-2 -10-1zM654,32l9,1 8-2 -10-1zM646,33l10,1 7-1 -9-1zM639,35l10,1 7-2 -10-1zM632,37l10,1 7-2 -10-1zM625,38l10,1 7-1 -10-1zM618,40l10,1 7-2 -10-1zM611,42l10,1 7-2 -10-1zM604,43l10,1 7-1 -10-1zM597,45l10,1 7-2 -10-1zM590,47l10,1 7-2 -10-1zM583,48l10,2 7-2 -10-1zM576,50l10,1 7-1 -10-2zM569,52l10,1 7-2 -10-1zM562,53l10,2 7-2 -10-1zM555,55l10,1 7-1 -10-2zM548,57l10,1 7-2 -10-1zM541,58l10,2 7-2 -10-1zM534,60l10,1 7-1 -10-2zM527,62l10,1 7-2 -10-1zM520,63l10,2 7-2 -10-1zM513,65l10,1 7-1 -10-2zM506,67l10,1 7-2 -10-1zM499,68l10,2 7-2 -10-1zM492,70l10,1 7-1 -10-2zM484,73l11,2 7-4 -10-1zM478,78l10,2 7-5 -11-2z"/><path fill="#00a406" d="M471,83l10,1 7-4 -10-2zM464,88l10,1 7-5 -10-1zM457,93l10,1 7-5 -10-1zM450,98l10,2 7-6 -10-1zM443,103l10,2 7-5 -10-2zM436,109l10,2 7-6 -10-2zM429,115l11,1 6-5 -10-2zM422,120l11,2 7-6 -11-1zM415,126l11,2 7-6 -11-2zM408,132l11,2 7-6 -11-2z"/><path fill="#0ce01e" d="M402,138l10,2 7-6 -11-2zM395,145l10,1 7-6 -10-2zM388,151l11,1 6-6 -10-1zM381,157l11,2 7-7 -11-1zM374,164l11,1 7-6 -11-2zM368,171l10,1 7-7 -11-1zM361,178l10,1 7-7 -10-1zM354,185l11,1 6-7 -10-1z"/><path fill="#14ec28" d="M347,192l11,1 7-7 -11-1zM341,199l10,1 7-7 -11-1zM334,206l11,1 6-7 -10-1zM327,214l11,1 7-8 -11-1zM321,221l10,1 7-7 -11-1zM314,229l11,1 6-8 -10-1zM307,237l11,1 7-8 -11-1zM301,244l10,1 7-7 -11-1z"/><path fill="#26f43c" d="M294,252l11,1 6-8 -10-1z"/><path fill="#008a02" d="M713,21l10,1 7-2 -10-1zM706,23l10,1 7-2 -10-1zM699,24l10,1 7-1 -10-1zM692,26l10,1 7-2 -10-1zM685,28l9,1 8-2 -10-1zM678,29l9,1 7-1 -9-1zM671,31l9,1 7-2 -9-1zM663,33l10,1 7-2 -9-1zM656,34l10,1 7-1 -10-1zM649,36l10,1 7-2 -10-1zM642,38l10,1 7-2 -10-1zM635,39l10,2 7-2 -10-1zM628,41l10,1 7-1 -10-2zM621,43l10,1 7-2 -10-1zM614,44l10,2 7-2 -10-1zM607,46l10,1 7-1 -10-2zM600,48l10,1 7-2 -10-1zM593,50l10,1 7-2 -10-1zM586,51l10,1 7-1 -10-1zM579,53l10,1 7-2 -10-1zM572,55l10,1 7-2 -10-1zM565,56l10,1 7-1 -10-1zM558,58l10,1 7-2 -10-1zM551,60l10,1 7-2 -10-1zM544,61l10,1 7-1 -10-1zM537,63l10,1 7-2 -10-1zM530,65l10,1 7-2 -10-1zM523,66l10,1 7-1 -10-1zM516,68l10,1 7-2 -10-1zM509,70l10,1 7-2 -10-1zM502,71l10,1 7-1 -10-1zM495,75l10,2 7-5 -10-1z"/><path fill="#00a406" d="M488,80l10,2 7-5 -10-2zM481,84l10,2 7-4 -10-2zM474,89l10,2 7-5 -10-2zM467,94l11,2 6-5 -10-2zM460,100l11,2 7-6 -11-2zM453,105l11,2 7-5 -11-2zM446,111l11,1 7-5 -11-2zM440,116l10,2 7-6 -11-1zM433,122l10,2 7-6 -10-2zM426,128l10,2 7-6 -10-2zM419,134l10,1 7-5 -10-2z"/><path fill="#0ce01e" d="M412,140l11,2 6-7 -10-1zM405,146l11,2 7-6 -11-2zM399,152l10,2 7-6 -11-2zM392,159l10,2 7-7 -10-2zM385,165l11,2 6-6 -10-2zM378,172l11,2 7-7 -11-2zM371,179l11,2 7-7 -11-2zM365,186l10,2 7-7 -11-2z"/><path fill="#14ec28" d="M358,193l11,2 6-7 -10-2zM351,200l11,2 7-7 -11-2zM345,207l10,2 7-7 -11-2zM338,215l11,1 6-7 -10-2zM331,222l11,2 7-8 -11-1zM325,230l10,1 7-7 -11-2zM318,238l11,1 6-8 -10-1zM311,245l11,2 7-8 -11-1z"/><path fill="#26f43c" d="M305,253l10,2 7-8 -11-2z"/><path fill="#008a02" d="M723,22l9,1 7-2 -9-1zM716,24l9,1 7-2 -9-1zM709,25l9,1 7-1 -9-1zM702,27l9,1 7-2 -9-1zM694,29l10,1 7-2 -9-1zM687,30l10,1 7-1 -10-1zM680,32l10,1 7-2 -10-1zM673,34l10,1 7-2 -10-1zM666,35l10,2 7-2 -10-1zM659,37l10,1 7-1 -10-2zM652,39l10,1 7-2 -10-1zM645,41l10,1 7-2 -10-1zM638,42l10,1 7-1 -10-1zM631,44l10,1 7-2 -10-1zM624,46l10,1 7-2 -10-1zM617,47l11,1 6-1 -10-1zM610,49l11,1 7-2 -11-1zM603,51l11,1 7-2 -11-1zM596,52l11,1 7-1 -11-1zM589,54l11,1 7-2 -11-1zM582,56l11,1 7-2 -11-1zM575,57l11,1 7-1 -11-1zM568,59l11,1 7-2 -11-1zM561,61l11,1 7-2 -11-1zM554,62l11,2 7-2 -11-1zM547,64l11,1 7-1 -11-2zM540,66l11,1 7-2 -11-1zM533,67l11,2 7-2 -11-1zM526,69l11,1 7-1 -11-2zM519,71l11,1 7-2 -11-1zM512,72l11,2 7-2 -11-1zM505,77l11,2 7-5 -11-2z"/><path fill="#00a406" d="M498,82l11,2 7-5 -11-2zM491,86l11,2 7-4 -11-2zM484,91l11,2 7-5 -11-2zM478,96l10,2 7-5 -11-2zM471,102l10,2 7-6 -10-2zM464,107l10,2 7-5 -10-2zM457,112l10,2 7-5 -10-2zM450,118l11,2 6-6 -10-2zM443,124l11,2 7-6 -11-2zM436,130l11,2 7-6 -11-2zM429,135l11,2 7-5 -11-2z"/><path fill="#0ce01e" d="M423,142l10,2 7-7 -11-2zM416,148l10,2 7-6 -10-2zM409,154l11,2 6-6 -10-2zM402,161l11,1 7-6 -11-2zM396,167l10,2 7-7 -11-1zM389,174l10,2 7-7 -10-2zM382,181l11,1 6-6 -10-2zM375,188l11,1 7-7 -11-1z"/><path fill="#14ec28" d="M369,195l10,1 7-7 -11-1zM362,202l11,1 6-7 -10-1zM355,209l11,2 7-8 -11-1zM349,216l10,2 7-7 -11-2zM342,224l11,2 6-8 -10-2zM335,231l11,2 7-7 -11-2zM329,239l10,2 7-8 -11-2zM322,247l11,2 6-8 -10-2z"/><path fill="#26f43c" d="M315,255l11,1 7-7 -11-2z"/><path fill="#008a02" d="M732,23l10,1 7-2 -10-1zM725,25l10,1 7-2 -10-1zM718,26l10,1 7-1 -10-1zM711,28l10,1 7-2 -10-1zM704,30l10,1 7-2 -10-1zM697,31l10,1 7-1 -10-1zM690,33l10,1 7-2 -10-1zM683,35l10,1 7-2 -10-1zM676,37l10,1 7-2 -10-1zM669,38l10,1 7-1 -10-1zM662,40l10,1 7-2 -10-1zM655,42l11,1 6-2 -10-1zM648,43l11,1 7-1 -11-1zM641,45l11,1 7-2 -11-1zM634,47l11,1 7-2 -11-1zM628,48l10,1 7-1 -11-1zM621,50l10,1 7-2 -10-1zM614,52l10,1 7-2 -10-1zM607,53l10,2 7-2 -10-1zM600,55l10,1 7-1 -10-2zM593,57l10,1 7-2 -10-1zM586,58l10,2 7-2 -10-1zM579,60l10,1 7-1 -10-2zM572,62l10,1 7-2 -10-1zM565,64l10,1 7-2 -10-1zM558,65l10,1 7-1 -10-1zM551,67l10,1 7-2 -10-1zM544,69l10,1 7-2 -10-1zM537,70l10,2 7-2 -10-1zM530,72l10,1 7-1 -10-2zM523,74l10,3 7-4 -10-1zM516,79l10,2 7-4 -10-3z"/><path fill="#00a406" d="M509,84l10,2 7-5 -10-2zM502,88l10,3 7-5 -10-2zM495,93l10,3 7-5 -10-3zM488,98l10,3 7-5 -10-3zM481,104l11,2 6-5 -10-3zM474,109l11,2 7-5 -11-2zM467,114l11,3 7-6 -11-2zM461,120l10,2 7-5 -11-3zM454,126l10,2 7-6 -10-2zM447,132l10,2 7-6 -10-2zM440,137l11,3 6-6 -10-2z"/><path fill="#0ce01e" d="M433,144l11,2 7-6 -11-3zM426,150l11,2 7-6 -11-2zM420,156l10,2 7-6 -11-2zM413,162l10,3 7-7 -10-2zM406,169l11,2 6-6 -10-3zM399,176l11,2 7-7 -11-2zM393,182l10,3 7-7 -11-2zM386,189l11,2 6-6 -10-3z"/><path fill="#14ec28" d="M379,196l11,2 7-7 -11-2zM373,203l10,3 7-8 -11-2zM366,211l10,2 7-7 -10-3zM359,218l11,2 6-7 -10-2zM353,226l10,1 7-7 -11-2zM346,233l11,2 6-8 -10-1zM339,241l11,2 7-8 -11-2zM333,249l10,1 7-7 -11-2z"/><path fill="#26f43c" d="M326,256l11,2 6-8 -10-1z"/><path fill="#008a02" d="M742,24l10,1 7-2 -10-1zM735,26l10,1 7-2 -10-1zM728,27l10,1 7-1 -10-1zM721,29l10,1 7-2 -10-1zM714,31l10,1 7-2 -10-1zM707,32l10,1 7-1 -10-1zM700,34l10,1 7-2 -10-1zM693,36l10,1 7-2 -10-1zM686,38l10,1 7-2 -10-1zM679,39l10,1 7-1 -10-1zM672,41l11,1 6-2 -10-1zM666,43l10,1 7-2 -11-1zM659,44l10,1 7-1 -10-1zM652,46l10,1 7-2 -10-1zM645,48l10,1 7-2 -10-1zM638,49l10,2 7-2 -10-1zM631,51l10,1 7-1 -10-2zM624,53l10,1 7-2 -10-1zM617,55l10,1 7-2 -10-1zM610,56l10,1 7-1 -10-1zM603,58l10,1 7-2 -10-1zM596,60l10,1 7-2 -10-1zM589,61l10,1 7-1 -10-1zM582,63l10,1 7-2 -10-1zM575,65l10,1 7-2 -10-1zM568,66l10,2 7-2 -10-1zM561,68l10,1 7-1 -10-2zM554,70l10,1 7-2 -10-1zM547,72l10,1 7-2 -10-1zM540,73l10,2 7-2 -10-1zM533,77l10,3 7-5 -10-2z"/><path fill="#00a406" d="M526,81l10,3 7-4 -10-3zM519,86l11,3 6-5 -10-3zM512,91l11,2 7-4 -11-3zM505,96l11,2 7-5 -11-2zM498,101l11,2 7-5 -11-2zM492,106l10,3 7-6 -11-2zM485,111l10,3 7-5 -10-3zM478,117l10,2 7-5 -10-3zM471,122l11,3 6-6 -10-2zM464,128l11,2 7-5 -11-3zM457,134l11,2 7-6 -11-2z"/><path fill="#0ce01e" d="M451,140l10,2 7-6 -11-2zM444,146l10,2 7-6 -10-2zM437,152l11,2 6-6 -10-2zM430,158l11,3 7-7 -11-2zM423,165l11,2 7-6 -11-3zM417,171l10,2 7-6 -11-2zM410,178l11,2 6-7 -10-2zM403,185l11,2 7-7 -11-2zM397,191l10,3 7-7 -11-2z"/><path fill="#14ec28" d="M390,198l10,3 7-7 -10-3zM383,206l11,2 6-7 -10-3zM376,213l11,2 7-7 -11-2zM370,220l10,2 7-7 -11-2zM363,227l11,3 6-8 -10-2zM357,235l10,2 7-7 -11-3zM350,243l11,2 6-8 -10-2zM343,250l11,3 7-8 -11-2z"/><path fill="#26f43c" d="M337,258l11,2 6-7 -11-3z"/><path fill="#008a02" d="M752,25l10,1 7-2 -10-1zM745,27l10,1 7-2 -10-1zM738,28l10,1 7-1 -10-1zM731,30l10,1 7-2 -10-1zM724,32l10,1 7-2 -10-1zM717,33l10,1 7-1 -10-1zM710,35l10,1 7-2 -10-1zM703,37l10,1 7-2 -10-1zM696,39l10,1 7-2 -10-1zM689,40l10,1 7-1 -10-1zM683,42l10,1 6-2 -10-1zM676,44l10,1 7-2 -10-1zM669,45l10,1 7-1 -10-1zM662,47l10,1 7-2 -10-1zM655,49l10,1 7-2 -10-1zM648,51l10,1 7-2 -10-1zM641,52l10,1 7-1 -10-1zM634,54l10,1 7-2 -10-1zM627,56l10,1 7-2 -10-1zM620,57l10,1 7-1 -10-1zM613,59l10,1 7-2 -10-1zM606,61l10,1 7-2 -10-1zM599,62l10,2 7-2 -10-1zM592,64l10,1 7-1 -10-2zM585,66l10,1 7-2 -10-1zM578,68l10,1 7-2 -10-1zM571,69l10,2 7-2 -10-1zM564,71l11,1 6-1 -10-2zM557,73l11,1 7-2 -11-1zM550,75l11,3 7-4 -11-1zM543,80l11,2 7-4 -11-3z"/><path fill="#00a406" d="M536,84l11,3 7-5 -11-2zM530,89l10,2 7-4 -11-3zM523,93l10,3 7-5 -10-2zM516,98l10,3 7-5 -10-3zM509,103l10,3 7-5 -10-3zM502,109l11,2 6-5 -10-3zM495,114l11,3 7-6 -11-2zM488,119l11,3 7-5 -11-3zM482,125l10,2 7-5 -11-3zM475,130l10,3 7-6 -10-2zM468,136l10,3 7-6 -10-3z"/><path fill="#0ce01e" d="M461,142l11,3 6-6 -10-3zM454,148l11,3 7-6 -11-3zM448,154l10,3 7-6 -11-3zM441,161l10,2 7-6 -10-3zM434,167l11,3 6-7 -10-2zM427,173l11,3 7-6 -11-3zM421,180l10,3 7-7 -11-3zM414,187l10,2 7-6 -10-3zM407,194l11,2 6-7 -10-2z"/><path fill="#14ec28" d="M400,201l11,2 7-7 -11-2zM394,208l10,2 7-7 -11-2zM387,215l11,2 6-7 -10-2zM380,222l11,3 7-8 -11-2zM374,230l11,2 6-7 -11-3zM367,237l11,3 7-8 -11-2zM361,245l10,2 7-7 -11-3z"/><path fill="#26f43c" d="M354,253l11,2 6-8 -10-2zM348,260l10,3 7-8 -11-2z"/><path fill="#008a02" d="M762,26l10,1 7-2 -10-1zM755,28l10,1 7-2 -10-1zM748,29l10,1 7-1 -10-1zM741,31l10,1 7-2 -10-1zM734,33l10,1 7-2 -10-1zM727,34l10,1 7-1 -10-1zM720,36l10,1 7-2 -10-1zM713,38l10,1 7-2 -10-1zM706,40l10,1 7-2 -10-1zM699,41l10,1 7-1 -10-1zM693,43l10,1 6-2 -10-1zM686,45l10,1 7-2 -10-1zM679,46l10,2 7-2 -10-1zM672,48l10,1 7-1 -10-2zM665,50l10,1 7-2 -10-1zM658,52l10,1 7-2 -10-1zM651,53l10,1 7-1 -10-1zM644,55l10,1 7-2 -10-1zM637,57l10,1 7-2 -10-1zM630,58l10,2 7-2 -10-1zM623,60l10,1 7-1 -10-2zM616,62l10,1 7-2 -10-1zM609,64l10,1 7-2 -10-1zM602,65l11,2 6-2 -10-1zM595,67l11,1 7-1 -11-2zM588,69l11,1 7-2 -11-1zM581,71l11,1 7-2 -11-1zM575,72l10,1 7-1 -11-1zM568,74l10,3 7-4 -10-1zM561,78l10,3 7-4 -10-3z"/><path fill="#00a406" d="M554,82l10,3 7-4 -10-3zM547,87l10,3 7-5 -10-3zM540,91l10,4 7-5 -10-3zM533,96l11,3 6-4 -10-4zM526,101l11,3 7-5 -11-3zM519,106l11,3 7-5 -11-3zM513,111l10,3 7-5 -11-3zM506,117l10,3 7-6 -10-3zM499,122l10,3 7-5 -10-3zM492,127l11,3 6-5 -10-3zM485,133l11,3 7-6 -11-3zM478,139l11,3 7-6 -11-3z"/><path fill="#0ce01e" d="M472,145l10,3 7-6 -11-3zM465,151l10,3 7-6 -10-3zM458,157l11,3 6-6 -10-3zM451,163l11,3 7-6 -11-3zM445,170l10,2 7-6 -11-3zM438,176l10,3 7-7 -10-2zM431,183l11,3 6-7 -10-3zM424,189l11,3 7-6 -11-3zM418,196l10,3 7-7 -11-3z"/><path fill="#14ec28" d="M411,203l11,3 6-7 -10-3zM404,210l11,3 7-7 -11-3zM398,217l10,3 7-7 -11-3zM391,225l11,2 6-7 -10-3zM385,232l10,3 7-8 -11-2zM378,240l11,2 6-7 -10-3zM371,247l11,3 7-8 -11-2z"/><path fill="#26f43c" d="M365,255l10,3 7-8 -11-3zM358,263l11,2 6-7 -10-3z"/><path fill="#008a02" d="M772,27l10,1 7-2 -10-1zM765,29l10,1 7-2 -10-1zM758,30l10,1 7-1 -10-1zM751,32l10,1 7-2 -10-1zM744,34l10,1 7-2 -10-1zM737,35l10,1 7-1 -10-1zM730,37l10,1 7-2 -10-1zM723,39l10,1 7-2 -10-1zM716,41l10,1 7-2 -10-1zM709,42l10,1 7-1 -10-1zM703,44l10,1 6-2 -10-1zM696,46l10,1 7-2 -10-1zM689,48l10,1 7-2 -10-1zM682,49l10,1 7-1 -10-1zM675,51l10,1 7-2 -10-1zM668,53l10,1 7-2 -10-1zM661,54l10,2 7-2 -10-1zM654,56l10,1 7-1 -10-2zM647,58l10,1 7-2 -10-1zM640,60l10,1 7-2 -10-1zM633,61l11,1 6-1 -10-1zM626,63l11,1 7-2 -11-1zM619,65l11,1 7-2 -11-1zM613,67l10,1 7-2 -11-1zM606,68l10,1 7-1 -10-1zM599,70l10,1 7-2 -10-1zM592,72l10,1 7-2 -10-1zM585,73l10,3 7-3 -10-1zM578,77l10,3 7-4 -10-3z"/><path fill="#00a406" d="M571,81l10,3 7-4 -10-3zM564,85l11,4 6-5 -10-3zM557,90l11,3 7-4 -11-4zM550,95l11,3 7-5 -11-3zM544,99l10,4 7-5 -11-3zM537,104l10,3 7-4 -10-4zM530,109l10,3 7-5 -10-3zM523,114l10,4 7-6 -10-3zM516,120l11,3 6-5 -10-4zM509,125l11,3 7-5 -11-3zM503,130l10,4 7-6 -11-3zM496,136l10,3 7-5 -10-4z"/><path fill="#0ce01e" d="M489,142l10,3 7-6 -10-3zM482,148l11,3 6-6 -10-3zM475,154l11,3 7-6 -11-3zM469,160l10,3 7-6 -11-3zM462,166l10,3 7-6 -10-3zM455,172l11,4 6-7 -10-3zM448,179l11,3 7-6 -11-4zM442,186l10,3 7-7 -11-3zM435,192l11,3 6-6 -10-3z"/><path fill="#14ec28" d="M428,199l11,3 7-7 -11-3zM422,206l10,3 7-7 -11-3zM415,213l11,3 6-7 -10-3zM408,220l11,3 7-7 -11-3zM402,227l10,3 7-7 -11-3zM395,235l11,3 6-8 -10-3zM389,242l10,3 7-7 -11-3zM382,250l11,3 6-8 -10-3z"/><path fill="#26f43c" d="M375,258l11,2 7-7 -11-3zM369,265l11,3 6-8 -11-2z"/><path fill="#008a02" d="M782,28l10,1 6-2 -9-1zM775,30l10,1 7-2 -10-1zM768,31l10,1 7-1 -10-1zM761,33l10,1 7-2 -10-1zM754,35l10,1 7-2 -10-1zM747,36l10,1 7-1 -10-1zM740,38l10,1 7-2 -10-1zM733,40l10,1 7-2 -10-1zM726,42l10,1 7-2 -10-1zM719,43l11,1 6-1 -10-1zM713,45l10,1 7-2 -11-1zM706,47l10,1 7-2 -10-1zM699,49l10,1 7-2 -10-1zM692,50l10,1 7-1 -10-1zM685,52l10,1 7-2 -10-1zM678,54l10,1 7-2 -10-1zM671,56l10,1 7-2 -10-1zM664,57l10,1 7-1 -10-1zM657,59l10,1 7-2 -10-1zM650,61l11,1 6-2 -10-1zM644,62l10,2 7-2 -11-1zM637,64l10,1 7-1 -10-2zM630,66l10,1 7-2 -10-1zM623,68l10,1 7-2 -10-1zM616,69l10,2 7-2 -10-1zM609,71l10,1 7-1 -10-2zM602,73l10,3 7-4 -10-1zM595,76l11,4 6-4 -10-3z"/><path fill="#00a406" d="M588,80l11,4 7-4 -11-4zM581,84l11,4 7-4 -11-4zM575,89l10,3 7-4 -11-4zM568,93l10,4 7-5 -10-3zM561,98l10,3 7-4 -10-4zM554,103l10,3 7-5 -10-3zM547,107l11,4 6-5 -10-3zM540,112l11,4 7-5 -11-4zM533,118l11,3 7-5 -11-4zM527,123l10,3 7-5 -11-3zM520,128l10,4 7-6 -10-3zM513,134l11,3 6-5 -10-4zM506,139l11,4 7-6 -11-3z"/><path fill="#0ce01e" d="M499,145l11,3 7-5 -11-4zM493,151l10,3 7-6 -11-3zM486,157l11,3 6-6 -10-3zM479,163l11,3 7-6 -11-3zM472,169l11,4 7-7 -11-3zM466,176l10,3 7-6 -11-4zM459,182l11,3 6-6 -10-3zM452,189l11,3 7-7 -11-3zM446,195l10,4 7-7 -11-3z"/><path fill="#14ec28" d="M439,202l11,3 6-6 -10-4zM432,209l11,3 7-7 -11-3zM426,216l10,3 7-7 -11-3zM419,223l11,3 6-7 -10-3zM412,230l11,4 7-8 -11-3zM406,238l11,3 6-7 -11-4zM399,245l11,3 7-7 -11-3zM393,253l10,3 7-8 -11-3z"/><path fill="#26f43c" d="M386,260l11,3 6-7 -10-3zM380,268l10,3 7-8 -11-3z"/><path fill="#008a02" d="M792,29l9,1 7-2 -10-1zM785,31l9,1 7-2 -9-1zM778,32l10,1 6-1 -9-1zM771,34l10,1 7-2 -10-1zM764,36l10,1 7-2 -10-1zM757,37l10,2 7-2 -10-1zM750,39l10,1 7-1 -10-2zM743,41l10,1 7-2 -10-1zM736,43l10,1 7-2 -10-1zM730,44l10,2 6-2 -10-1zM723,46l10,1 7-1 -10-2zM716,48l10,1 7-2 -10-1zM709,50l10,1 7-2 -10-1zM702,51l10,2 7-2 -10-1zM695,53l10,1 7-1 -10-2zM688,55l10,1 7-2 -10-1zM681,57l10,1 7-2 -10-1zM674,58l11,2 6-2 -10-1zM667,60l11,1 7-1 -11-2zM661,62l10,1 7-2 -11-1zM654,64l10,1 7-2 -10-1zM647,65l10,2 7-2 -10-1zM640,67l10,1 7-1 -10-2zM633,69l10,1 7-2 -10-1zM626,71l10,1 7-2 -10-1zM619,72l11,4 6-4 -10-1zM612,76l11,4 7-4 -11-4z"/><path fill="#00a406" d="M606,80l10,4 7-4 -11-4zM599,84l10,4 7-4 -10-4zM592,88l10,4 7-4 -10-4zM585,92l10,4 7-4 -10-4zM578,97l10,4 7-5 -10-4zM571,101l11,4 6-4 -10-4zM564,106l11,4 7-5 -11-4zM558,111l10,4 7-5 -11-4zM551,116l10,4 7-5 -10-4zM544,121l10,4 7-5 -10-4zM537,126l11,4 6-5 -10-4zM530,132l11,3 7-5 -11-4zM524,137l10,4 7-6 -11-3z"/><path fill="#0ce01e" d="M517,143l10,3 7-5 -10-4zM510,148l11,4 6-6 -10-3zM503,154l11,4 7-6 -11-4zM497,160l10,4 7-6 -11-4zM490,166l10,4 7-6 -10-4zM483,173l11,3 6-6 -10-4zM476,179l11,3 7-6 -11-3zM470,185l10,4 7-7 -11-3zM463,192l11,3 6-6 -10-4zM456,199l11,3 7-7 -11-3z"/><path fill="#14ec28" d="M450,205l10,4 7-7 -11-3zM443,212l11,4 6-7 -10-4zM436,219l11,4 7-7 -11-4zM430,226l10,4 7-7 -11-4zM423,234l11,3 6-7 -10-4zM417,241l10,3 7-7 -11-3zM410,248l11,4 6-8 -10-3zM403,256l11,3 7-7 -11-4z"/><path fill="#26f43c" d="M397,263l11,4 6-8 -11-3zM390,271l11,3 7-7 -11-4z"/><path fill="#008a02" d="M801,30l10,2 7,1 -10-5zM794,32l10,1 7-1 -10-2zM788,33l10,1 6-1 -10-1zM781,35l10,1 7-2 -10-1zM774,37l10,1 7-2 -10-1zM767,39l10,1 7-2 -10-1zM760,40l10,1 7-1 -10-1zM753,42l10,1 7-2 -10-1zM746,44l10,1 7-2 -10-1zM740,46l10,1 6-2 -10-1zM733,47l10,1 7-1 -10-1zM726,49l10,1 7-2 -10-1zM719,51l10,1 7-2 -10-1zM712,53l10,1 7-2 -10-1zM705,54l10,1 7-1 -10-1zM698,56l10,1 7-2 -10-1zM691,58l11,1 6-2 -10-1zM685,60l10,1 7-2 -11-1zM678,61l10,1 7-1 -10-1zM671,63l10,1 7-2 -10-1zM664,65l10,1 7-2 -10-1zM657,67l10,1 7-2 -10-1zM650,68l10,1 7-1 -10-1zM643,70l11,3 6-4 -10-1zM636,72l11,4 7-3 -11-3zM630,76l10,4 7-4 -11-4z"/><path fill="#00a406" d="M623,80l10,4 7-4 -10-4zM616,84l10,4 7-4 -10-4zM609,88l10,4 7-4 -10-4zM602,92l10,4 7-4 -10-4zM595,96l11,4 6-4 -10-4zM588,101l11,3 7-4 -11-4zM582,105l10,4 7-5 -11-3zM575,110l10,4 7-5 -10-4zM568,115l10,4 7-5 -10-4zM561,120l11,4 6-5 -10-4zM554,125l11,4 7-5 -11-4zM548,130l10,4 7-5 -11-4zM541,135l10,4 7-5 -10-4zM534,141l11,4 6-6 -10-4z"/><path fill="#0ce01e" d="M527,146l11,4 7-5 -11-4zM521,152l10,4 7-6 -11-4zM514,158l10,4 7-6 -10-4zM507,164l11,4 6-6 -10-4zM500,170l11,4 7-6 -11-4zM494,176l10,4 7-6 -11-4zM487,182l11,4 6-6 -10-4zM480,189l11,4 7-7 -11-4zM474,195l10,4 7-6 -11-4z"/><path fill="#14ec28" d="M467,202l11,4 6-7 -10-4zM460,209l11,3 7-6 -11-4zM454,216l10,3 7-7 -11-3zM447,223l11,3 6-7 -10-3zM440,230l11,3 7-7 -11-3zM434,237l10,4 7-8 -11-3zM427,244l11,4 6-7 -10-4zM421,252l10,3 7-7 -11-4z"/><path fill="#26f43c" d="M414,259l11,4 6-8 -10-3zM408,267l10,3 7-7 -11-4zM401,274l11,4 6-8 -10-3z"/><path fill="#00a406" d="M811,32l10,5 7,0 -10-4z"/><path fill="#008a02" d="M804,33l10,4 7,0 -10-5zM798,34l9,3 7,0 -10-4zM791,36l10,2 6-1 -9-3zM784,38l10,1 7-1 -10-2zM777,40l10,1 7-2 -10-1zM770,41l10,1 7-1 -10-1zM763,43l10,1 7-2 -10-1zM756,45l10,1 7-2 -10-1zM750,47l10,1 6-2 -10-1zM743,48l10,1 7-1 -10-1zM736,50l10,1 7-2 -10-1zM729,52l10,1 7-2 -10-1zM722,54l10,1 7-2 -10-1zM715,55l10,1 7-1 -10-1zM708,57l10,1 7-2 -10-1zM702,59l10,1 6-2 -10-1zM695,61l10,1 7-2 -10-1zM688,62l10,1 7-1 -10-1zM681,64l10,1 7-2 -10-1zM674,66l10,1 7-2 -10-1zM667,68l10,3 7-4 -10-1zM660,69l11,5 6-3 -10-3zM654,73l10,4 7-3 -11-5z"/><path fill="#00a406" d="M647,76l10,5 7-4 -10-4zM640,80l10,4 7-3 -10-5zM633,84l10,4 7-4 -10-4zM626,88l10,4 7-4 -10-4zM619,92l11,4 6-4 -10-4zM612,96l11,4 7-4 -11-4zM606,100l10,4 7-4 -11-4zM599,104l10,5 7-5 -10-4zM592,109l10,4 7-4 -10-5zM585,114l11,4 6-5 -10-4zM578,119l11,4 7-5 -11-4zM572,124l10,4 7-5 -11-4zM565,129l10,4 7-5 -10-4zM558,134l11,4 6-5 -10-4zM551,139l11,4 7-5 -11-4z"/><path fill="#0ce01e" d="M545,145l10,4 7-6 -11-4zM538,150l10,4 7-5 -10-4zM531,156l11,4 6-6 -10-4zM524,162l11,4 7-6 -11-4zM518,168l10,4 7-6 -11-4zM511,174l10,4 7-6 -10-4zM504,180l11,4 6-6 -10-4zM498,186l10,4 7-6 -11-4zM491,193l10,4 7-7 -10-4zM484,199l11,4 6-6 -10-4z"/><path fill="#14ec28" d="M478,206l10,4 7-7 -11-4zM471,212l11,4 6-6 -10-4zM464,219l11,4 7-7 -11-4zM458,226l10,4 7-7 -11-4zM451,233l11,4 6-7 -10-4zM444,241l11,3 7-7 -11-4zM438,248l11,4 6-8 -11-3zM431,255l11,4 7-7 -11-4z"/><path fill="#26f43c" d="M425,263l10,4 7-8 -11-4zM418,270l11,4 6-7 -10-4zM412,278l10,4 7-8 -11-4z"/><path fill="#00a406" d="M821,37l10,4 6,1 -9-5zM814,37l10,5 7-1 -10-4zM807,37l10,5 7,0 -10-5z"/><path fill="#008a02" d="M801,38l9,4 7,0 -10-5zM794,39l10,4 6-1 -9-4zM787,41l10,2 7,0 -10-4zM780,42l10,2 7-1 -10-2zM773,44l10,1 7-1 -10-2zM766,46l10,1 7-2 -10-1zM760,48l10,1 6-2 -10-1zM753,49l10,1 7-1 -10-1zM746,51l10,1 7-2 -10-1zM739,53l10,1 7-2 -10-1zM732,55l10,1 7-2 -10-1zM725,56l10,2 7-2 -10-1zM718,58l11,1 6-1 -10-2zM712,60l10,1 7-2 -11-1zM705,62l10,2 7-3 -10-1zM698,63l10,3 7-2 -10-2zM691,65l10,4 7-3 -10-3zM684,67l10,5 7-3 -10-4zM677,71l11,4 6-3 -10-5z"/><path fill="#00a406" d="M671,74l10,4 7-3 -11-4zM664,77l10,5 7-4 -10-4zM657,81l10,4 7-3 -10-5zM650,84l10,5 7-4 -10-4zM643,88l11,4 6-3 -10-5zM636,92l11,4 7-4 -11-4zM630,96l10,4 7-4 -11-4zM623,100l10,4 7-4 -10-4zM616,104l10,5 7-5 -10-4zM609,109l11,4 6-4 -10-5zM602,113l11,5 7-5 -11-4zM596,118l10,4 7-4 -11-5zM589,123l10,4 7-5 -10-4zM582,128l10,4 7-5 -10-4zM575,133l11,4 6-5 -10-4zM569,138l10,4 7-5 -11-4z"/><path fill="#0ce01e" d="M562,143l10,5 7-6 -10-4zM555,149l11,4 6-5 -10-5zM548,154l11,5 7-6 -11-4zM542,160l10,4 7-5 -11-5zM535,166l10,4 7-6 -10-4zM528,172l11,4 6-6 -10-4zM521,178l11,4 7-6 -11-4zM515,184l10,4 7-6 -11-4zM508,190l11,4 6-6 -10-4zM501,197l11,4 7-7 -11-4z"/><path fill="#14ec28" d="M495,203l10,4 7-6 -11-4zM488,210l11,4 6-7 -10-4zM482,216l10,5 7-7 -11-4zM475,223l11,4 6-6 -10-5zM468,230l11,4 7-7 -11-4zM462,237l10,4 7-7 -11-4zM455,244l11,4 6-7 -10-4zM449,252l10,4 7-8 -11-4z"/><path fill="#26f43c" d="M442,259l11,4 6-7 -10-4zM435,267l11,4 7-8 -11-4zM429,274l11,4 6-7 -11-4zM422,282l11,4 7-8 -11-4z"/><path fill="#00a406" d="M831,41l9,5 7,0 -10-4zM824,42l10,4 6,0 -9-5zM817,42l10,5 7-1 -10-4zM810,42l10,5 7,0 -10-5zM804,43l9,5 7-1 -10-5zM797,43l10,5 6,0 -9-5z"/><path fill="#008a02" d="M790,44l10,5 7-1 -10-5zM783,45l10,5 7-1 -10-5zM776,47l10,4 7-1 -10-5zM770,49l9,4 7-2 -10-4zM763,50l10,4 6-1 -9-4zM756,52l10,4 7-2 -10-4zM749,54l10,3 7-1 -10-4zM742,56l10,3 7-2 -10-3zM735,58l10,3 7-2 -10-3zM729,59l10,5 6-3 -10-3zM722,61l10,5 7-2 -10-5zM715,64l10,4 7-2 -10-5zM708,66l10,5 7-3 -10-4z"/><path fill="#00a406" d="M701,69l10,5 7-3 -10-5zM694,72l11,5 6-3 -10-5zM688,75l10,5 7-3 -11-5zM681,78l10,5 7-3 -10-5zM674,82l10,4 7-3 -10-5zM667,85l10,5 7-4 -10-4zM660,89l11,4 6-3 -10-5zM654,92l10,5 7-4 -11-4zM647,96l10,5 7-4 -10-5zM640,100l10,5 7-4 -10-5zM633,104l10,5 7-4 -10-5zM626,109l11,4 6-4 -10-5zM620,113l10,5 7-5 -11-4zM613,118l10,4 7-4 -10-5zM606,122l10,5 7-5 -10-4zM599,127l11,5 6-5 -10-5zM592,132l11,5 7-5 -11-5zM586,137l10,5 7-5 -11-5z"/><path fill="#0ce01e" d="M579,142l10,5 7-5 -10-5zM572,148l11,4 6-5 -10-5zM566,153l10,5 7-6 -11-4zM559,159l10,4 7-5 -10-5zM552,164l11,5 6-6 -10-4zM545,170l11,5 7-6 -11-5zM539,176l10,4 7-5 -11-5zM532,182l11,4 6-6 -10-4zM525,188l11,5 7-7 -11-4zM519,194l10,5 7-6 -11-5z"/><path fill="#14ec28" d="M512,201l11,4 6-6 -10-5zM505,207l11,5 7-7 -11-4zM499,214l10,4 7-6 -11-5zM492,221l11,4 6-7 -10-4zM486,227l10,5 7-7 -11-4zM479,234l11,5 6-7 -10-5zM472,241l11,5 7-7 -11-5zM466,248l10,5 7-7 -11-5zM459,256l11,4 6-7 -10-5z"/><path fill="#26f43c" d="M453,263l10,4 7-7 -11-4zM446,271l11,4 6-8 -10-4zM440,278l10,4 7-7 -11-4zM433,286l11,4 6-8 -10-4z"/><path fill="#00a406" d="M840,46l10,5 7,0 -10-5zM834,46l9,5 7,0 -10-5zM827,47l10,5 6-1 -9-5zM820,47l10,5 7,0 -10-5zM813,48l10,4 7,0 -10-5zM807,48l9,5 7-1 -10-4zM800,49l10,5 6-1 -9-5zM793,50l10,5 7-1 -10-5zM786,51l10,5 7-1 -10-5zM779,53l10,5 7-2 -10-5zM773,54l10,5 6-1 -10-5zM766,56l10,5 7-2 -10-5zM759,57l10,5 7-1 -10-5zM752,59l10,5 7-2 -10-5zM745,61l11,5 6-2 -10-5zM739,64l10,4 7-2 -11-5zM732,66l10,5 7-3 -10-4zM725,68l10,5 7-2 -10-5zM718,71l10,5 7-3 -10-5zM711,74l11,5 6-3 -10-5zM705,77l10,5 7-3 -11-5zM698,80l10,5 7-3 -10-5zM691,83l10,5 7-3 -10-5zM684,86l10,5 7-3 -10-5zM677,90l11,5 6-4 -10-5zM671,93l10,5 7-3 -11-5zM664,97l10,5 7-4 -10-5zM657,101l10,5 7-4 -10-5zM650,105l11,5 6-4 -10-5zM643,109l11,5 7-4 -11-5zM637,113l10,5 7-4 -11-5zM630,118l10,5 7-5 -10-5zM623,122l11,5 6-4 -10-5zM616,127l11,5 7-5 -11-5zM610,132l10,4 7-4 -11-5zM603,137l10,4 7-5 -10-4z"/><path fill="#0ce01e" d="M596,142l11,4 6-5 -10-4zM589,147l11,5 7-6 -11-4zM583,152l10,5 7-5 -11-5zM576,158l10,4 7-5 -10-5zM569,163l11,5 6-6 -10-4zM563,169l10,4 7-5 -11-5zM556,175l10,4 7-6 -10-4zM549,180l11,5 6-6 -10-4zM543,186l10,5 7-6 -11-5zM536,193l10,4 7-6 -10-5zM529,199l11,4 6-6 -10-4z"/><path fill="#14ec28" d="M523,205l10,5 7-7 -11-4zM516,212l11,4 6-6 -10-5zM509,218l11,5 7-7 -11-4zM503,225l10,5 7-7 -11-5zM496,232l11,4 6-6 -10-5zM490,239l10,4 7-7 -11-4zM483,246l11,4 6-7 -10-4zM476,253l11,4 7-7 -11-4z"/><path fill="#26f43c" d="M470,260l11,5 6-8 -11-4zM463,267l11,5 7-7 -11-5zM457,275l11,4 6-7 -11-5zM450,282l11,5 7-8 -11-4zM444,290l11,4 6-7 -11-5z"/><path fill="#00a406" d="M850,51l10,5 6,0 -9-5zM843,51l10,5 7,0 -10-5zM837,52l9,5 7-1 -10-5zM830,52l10,5 6,0 -9-5zM823,52l10,6 7-1 -10-5zM816,53l10,5 7,0 -10-6zM810,54l10,5 6-1 -10-5zM803,55l10,5 7-1 -10-5zM796,56l10,5 7-1 -10-5zM789,58l10,5 7-2 -10-5zM783,59l10,5 6-1 -10-5zM776,61l10,5 7-2 -10-5zM769,62l10,5 7-1 -10-5zM762,64l10,5 7-2 -10-5zM756,66l10,5 6-2 -10-5zM749,68l10,6 7-3 -10-5zM742,71l10,5 7-2 -10-6zM735,73l10,5 7-2 -10-5zM728,76l10,5 7-3 -10-5zM722,79l10,5 6-3 -10-5zM715,82l10,5 7-3 -10-5zM708,85l10,5 7-3 -10-5zM701,88l10,5 7-3 -10-5zM694,91l11,5 6-3 -10-5zM688,95l10,5 7-4 -11-5zM681,98l10,5 7-3 -10-5zM674,102l10,5 7-4 -10-5zM667,106l11,5 6-4 -10-5zM661,110l10,5 7-4 -11-5zM654,114l10,5 7-4 -10-5zM647,118l10,5 7-4 -10-5zM640,123l11,5 6-5 -10-5zM634,127l10,5 7-4 -11-5zM627,132l10,5 7-5 -10-5zM620,136l10,5 7-4 -10-5z"/><path fill="#0ce01e" d="M613,141l11,5 6-5 -10-5zM607,146l10,5 7-5 -11-5zM600,152l10,5 7-6 -10-5zM593,157l11,5 6-5 -10-5zM586,162l11,5 7-5 -11-5zM580,168l10,5 7-6 -11-5zM573,173l11,5 6-5 -10-5zM566,179l11,5 7-6 -11-5zM560,185l10,5 7-6 -11-5zM553,191l11,5 6-6 -10-5zM546,197l11,5 7-6 -11-5z"/><path fill="#14ec28" d="M540,203l10,5 7-6 -11-5zM533,210l11,5 6-7 -10-5zM527,216l10,5 7-6 -11-5zM520,223l11,5 6-7 -10-5zM513,230l11,4 7-6 -11-5zM507,236l10,5 7-7 -11-4zM500,243l11,5 6-7 -10-5zM494,250l10,5 7-7 -11-5zM487,257l11,5 6-7 -10-5z"/><path fill="#26f43c" d="M481,265l10,4 7-7 -11-5zM474,272l11,5 6-8 -10-4zM468,279l10,5 7-7 -11-5zM461,287l11,4 6-7 -10-5zM455,294l10,5 7-8 -11-4z"/><path fill="#00a406" d="M860,56l9,6 7,0 -10-6zM853,56l10,6 6,0 -9-6zM846,57l10,5 7,0 -10-6zM840,57l9,5 7,0 -10-5zM833,58l10,5 6-1 -9-5zM826,58l10,6 7-1 -10-5zM820,59l9,6 7-1 -10-6zM813,60l10,6 6-1 -9-6zM806,61l10,6 7-1 -10-6zM799,63l10,5 7-1 -10-6zM793,64l9,5 7-1 -10-5zM786,66l10,5 6-2 -9-5zM779,67l10,6 7-2 -10-5zM772,69l10,6 7-2 -10-6zM766,71l10,6 6-2 -10-6zM759,74l10,5 7-2 -10-6zM752,76l10,5 7-2 -10-5zM745,78l10,6 7-3 -10-5zM738,81l11,5 6-2 -10-6zM732,84l10,5 7-3 -11-5zM725,87l10,5 7-3 -10-5zM718,90l10,5 7-3 -10-5zM711,93l11,5 6-3 -10-5zM705,96l10,5 7-3 -11-5zM698,100l10,5 7-4 -10-5zM691,103l10,5 7-3 -10-5zM684,107l11,5 6-4 -10-5zM678,111l10,5 7-4 -11-5zM671,115l10,5 7-4 -10-5zM664,119l10,5 7-4 -10-5zM657,123l11,5 6-4 -10-5zM651,128l10,5 7-5 -11-5zM644,132l10,5 7-4 -10-5zM637,137l11,5 6-5 -10-5z"/><path fill="#0ce01e" d="M630,141l11,6 7-5 -11-5zM624,146l10,6 7-5 -11-6zM617,151l10,6 7-5 -10-6zM610,157l11,5 6-5 -10-6zM604,162l10,5 7-5 -11-5zM597,167l10,5 7-5 -10-5zM590,173l11,5 6-6 -10-5zM584,178l10,5 7-5 -11-5zM577,184l10,5 7-6 -10-5zM570,190l11,5 6-6 -10-5zM564,196l10,5 7-6 -11-5z"/><path fill="#14ec28" d="M557,202l11,5 6-6 -10-5zM550,208l11,5 7-6 -11-5zM544,215l10,5 7-7 -11-5zM537,221l11,5 6-6 -10-5zM531,228l10,5 7-7 -11-5zM524,234l11,5 6-6 -10-5zM517,241l11,5 7-7 -11-5zM511,248l11,5 6-7 -11-5zM504,255l11,5 7-7 -11-5z"/><path fill="#26f43c" d="M498,262l10,5 7-7 -11-5zM491,269l11,5 6-7 -10-5zM485,277l10,4 7-7 -11-5zM478,284l11,5 6-8 -10-4zM472,291l10,5 7-7 -11-5zM465,299l11,5 6-8 -10-5z"/><path fill="#00a406" d="M869,62l10,5 7,0 -10-5zM863,62l9,5 7,0 -10-5zM856,62l10,6 6-1 -9-5zM849,62l10,6 7,0 -10-6zM843,63l10,6 6-1 -10-6zM836,64l10,5 7,0 -10-6zM829,65l10,5 7-1 -10-5zM823,66l9,5 7-1 -10-5zM816,67l10,5 6-1 -9-5zM809,68l10,6 7-2 -10-5zM802,69l10,6 7-1 -10-6zM796,71l10,6 6-2 -10-6zM789,73l10,5 7-1 -10-6zM782,75l10,5 7-2 -10-5zM776,77l9,5 7-2 -10-5zM769,79l10,5 6-2 -9-5zM762,81l10,6 7-3 -10-5zM755,84l10,5 7-2 -10-6zM749,86l10,6 6-3 -10-5zM742,89l10,6 7-3 -10-6zM735,92l10,5 7-2 -10-6zM728,95l10,5 7-3 -10-5zM722,98l10,6 6-4 -10-5zM715,101l10,6 7-3 -10-6zM708,105l10,5 7-3 -10-6zM701,108l11,6 6-4 -10-5zM695,112l10,6 7-4 -11-6zM688,116l10,6 7-4 -10-6zM681,120l10,5 7-3 -10-6zM674,124l11,6 6-5 -10-5zM668,128l10,6 7-4 -11-6zM661,133l10,5 7-4 -10-6z"/><path fill="#0ce01e" d="M654,137l11,6 6-5 -10-5zM648,142l10,5 7-4 -11-6zM641,147l10,5 7-5 -10-5zM634,152l11,5 6-5 -10-5zM627,157l11,5 7-5 -11-5zM621,162l10,5 7-5 -11-5zM614,167l11,5 6-5 -10-5zM607,172l11,6 7-6 -11-5zM601,178l10,5 7-5 -11-6zM594,183l11,6 6-6 -10-5zM587,189l11,6 7-6 -11-6zM581,195l10,5 7-5 -11-6z"/><path fill="#14ec28" d="M574,201l11,5 6-6 -10-5zM568,207l10,5 7-6 -11-5zM561,213l11,6 6-7 -10-5zM554,220l11,5 7-6 -11-6zM548,226l10,5 7-6 -11-5zM541,233l11,5 6-7 -10-5zM535,239l10,6 7-7 -11-5zM528,246l11,5 6-6 -10-6zM522,253l10,5 7-7 -11-5z"/><path fill="#26f43c" d="M515,260l11,5 6-7 -10-5zM508,267l11,5 7-7 -11-5zM502,274l11,5 6-7 -11-5zM495,281l11,6 7-8 -11-5zM489,289l11,5 6-7 -11-6zM482,296l11,5 7-7 -11-5zM476,304l11,5 6-8 -11-5z"/><path fill="#00a406" d="M879,67l10,6 6,0 -9-6zM872,67l10,6 7,0 -10-6zM866,68l10,5 6,0 -10-6zM859,68l10,6 7-1 -10-5zM853,69l9,5 7,0 -10-6zM846,69l10,6 6-1 -9-5zM839,70l10,6 7-1 -10-6zM832,71l10,6 7-1 -10-6zM826,72l10,6 6-1 -10-6zM819,74l10,5 7-1 -10-6zM812,75l10,6 7-2 -10-5zM806,77l10,5 6-1 -10-6zM799,78l10,6 7-2 -10-5zM792,80l10,6 7-2 -10-6zM785,82l10,6 7-2 -10-6zM779,84l10,6 6-2 -10-6zM772,87l10,5 7-2 -10-6zM765,89l10,6 7-3 -10-5zM759,92l10,6 6-3 -10-6zM752,95l10,5 7-2 -10-6zM745,97l10,6 7-3 -10-5zM738,100l11,6 6-3 -10-6zM732,104l10,5 7-3 -11-6zM725,107l10,6 7-4 -10-5zM718,110l10,6 7-3 -10-6zM712,114l10,6 6-4 -10-6zM705,118l10,5 7-3 -10-6zM698,122l10,5 7-4 -10-5zM691,125l11,6 6-4 -10-5zM685,130l10,5 7-4 -11-6z"/><path fill="#0ce01e" d="M678,134l10,5 7-4 -10-5zM671,138l11,6 6-5 -10-5zM665,143l10,5 7-4 -11-6zM658,147l10,6 7-5 -10-5zM651,152l11,6 6-5 -10-6zM645,157l10,6 7-5 -11-6zM638,162l10,6 7-5 -10-6zM631,167l11,6 6-5 -10-6zM625,172l10,6 7-5 -11-6zM618,178l10,5 7-5 -10-6zM611,183l11,6 6-6 -10-5zM605,189l10,5 7-5 -11-6zM598,195l10,5 7-6 -10-5z"/><path fill="#14ec28" d="M591,200l11,6 6-6 -10-5zM585,206l10,6 7-6 -11-6zM578,212l11,6 6-6 -10-6zM572,219l10,5 7-6 -11-6zM565,225l10,5 7-6 -10-5zM558,231l11,6 6-7 -10-5zM552,238l10,5 7-6 -11-6zM545,245l11,5 6-7 -10-5zM539,251l10,6 7-7 -11-5zM532,258l11,6 6-7 -10-6z"/><path fill="#26f43c" d="M526,265l10,5 7-6 -11-6zM519,272l11,6 6-8 -10-5zM513,279l10,6 7-7 -11-6zM506,287l11,5 6-7 -10-6zM500,294l10,5 7-7 -11-5zM493,301l11,6 6-8 -10-5zM487,309l10,5 7-7 -11-6z"/><path fill="#00a406" d="M889,73l9,6 7,0 -10-6zM882,73l10,6 6,0 -9-6zM876,73l9,6 7,0 -10-6zM869,74l10,6 6-1 -9-6zM862,74l10,6 7,0 -10-6zM856,75l9,6 7-1 -10-6zM849,76l10,6 6-1 -9-6zM842,77l10,6 7-1 -10-6zM836,78l9,6 7-1 -10-6zM829,79l10,6 6-1 -9-6zM822,81l10,6 7-2 -10-6zM816,82l9,6 7-1 -10-6zM809,84l10,6 6-2 -9-6zM802,86l10,6 7-2 -10-6zM795,88l10,6 7-2 -10-6zM789,90l10,6 6-2 -10-6zM782,92l10,6 7-2 -10-6zM775,95l10,6 7-3 -10-6zM769,98l10,5 6-2 -10-6zM762,100l10,6 7-3 -10-5zM755,103l10,6 7-3 -10-6zM749,106l10,6 6-3 -10-6zM742,109l10,6 7-3 -10-6zM735,113l10,6 7-4 -10-6zM728,116l11,6 6-3 -10-6zM722,120l10,6 7-4 -11-6zM715,123l10,6 7-3 -10-6zM708,127l11,6 6-4 -10-6z"/><path fill="#0ce01e" d="M702,131l10,6 7-4 -11-6zM695,135l10,6 7-4 -10-6zM688,139l11,6 6-4 -10-6zM682,144l10,6 7-5 -11-6zM675,148l10,6 7-4 -10-6zM668,153l11,6 6-5 -10-6zM662,158l10,6 7-5 -11-6zM655,163l10,5 7-4 -10-6zM648,168l11,5 6-5 -10-5zM642,173l10,5 7-5 -11-5zM635,178l10,6 7-6 -10-5zM628,183l11,6 6-5 -10-6zM622,189l10,6 7-6 -11-6zM615,194l11,6 6-5 -10-6z"/><path fill="#14ec28" d="M608,200l11,6 7-6 -11-6zM602,206l10,6 7-6 -11-6zM595,212l11,6 6-6 -10-6zM589,218l10,6 7-6 -11-6zM582,224l11,6 6-6 -10-6zM575,230l11,6 7-6 -11-6zM569,237l10,6 7-7 -11-6zM562,243l11,6 6-6 -10-6zM556,250l10,6 7-7 -11-6zM549,257l11,5 6-6 -10-6z"/><path fill="#26f43c" d="M543,264l10,5 7-7 -11-5zM536,270l11,6 6-7 -10-5zM530,278l10,5 7-7 -11-6zM523,285l11,5 6-7 -10-5zM517,292l10,5 7-7 -11-5zM510,299l11,6 6-8 -10-5zM504,307l11,5 6-7 -11-6zM497,314l11,6 7-8 -11-5z"/><path fill="#0ce01e" d="M898,79l10,6 7,0 -10-6zM892,79l9,6 7,0 -10-6z"/><path fill="#00a406" d="M885,79l10,6 6,0 -9-6zM879,80l9,6 7-1 -10-6zM872,80l10,6 6,0 -9-6zM865,81l10,6 7-1 -10-6zM859,82l9,6 7-1 -10-6zM852,83l10,6 6-1 -9-6zM845,84l10,6 7-1 -10-6zM839,85l10,6 6-1 -10-6zM832,87l10,6 7-2 -10-6zM825,88l10,6 7-1 -10-6zM819,90l10,6 6-2 -10-6zM812,92l10,6 7-2 -10-6zM805,94l10,6 7-2 -10-6zM799,96l10,6 6-2 -10-6zM792,98l10,6 7-2 -10-6zM785,101l10,6 7-3 -10-6zM779,103l10,7 6-3 -10-6zM772,106l10,6 7-2 -10-7zM765,109l10,6 7-3 -10-6zM759,112l10,6 6-3 -10-6zM752,115l10,6 7-3 -10-6zM745,119l10,6 7-4 -10-6zM739,122l10,6 6-3 -10-6zM732,126l10,6 7-4 -10-6z"/><path fill="#0ce01e" d="M725,129l10,6 7-3 -10-6zM719,133l10,6 6-4 -10-6zM712,137l10,6 7-4 -10-6zM705,141l10,6 7-4 -10-6zM699,145l10,6 6-4 -10-6zM692,150l10,6 7-5 -10-6zM685,154l10,6 7-4 -10-6zM679,159l10,6 6-5 -10-6zM672,164l10,6 7-5 -10-6zM665,168l11,6 6-4 -10-6zM659,173l10,6 7-5 -11-6zM652,178l10,6 7-5 -10-6zM645,184l11,6 6-6 -10-6zM639,189l10,6 7-5 -11-6zM632,195l11,5 6-5 -10-6z"/><path fill="#14ec28" d="M626,200l10,6 7-6 -11-5zM619,206l10,6 7-6 -10-6zM612,212l11,6 6-6 -10-6zM606,218l10,6 7-6 -11-6zM599,224l11,6 6-6 -10-6zM593,230l10,6 7-6 -11-6zM586,236l11,6 6-6 -10-6zM579,243l11,5 7-6 -11-6zM573,249l10,6 7-7 -11-5zM566,256l11,5 6-6 -10-6z"/><path fill="#26f43c" d="M560,262l10,6 7-7 -11-5zM553,269l11,6 6-7 -10-6zM547,276l10,6 7-7 -11-6zM540,283l11,6 6-7 -10-6zM534,290l11,6 6-7 -11-6zM527,297l11,6 7-7 -11-6zM521,305l11,6 6-8 -11-6zM515,312l10,6 7-7 -11-6z"/><path fill="#52fa66" d="M508,320l11,5 6-7 -10-6z"/><path fill="#0ce01e" d="M908,85l10,6 6,0 -9-6zM901,85l10,6 7,0 -10-6zM895,85l9,7 7-1 -10-6zM888,86l10,6 6,0 -9-7zM882,86l9,7 7-1 -10-6zM875,87l10,6 6,0 -9-7z"/><path fill="#00a406" d="M868,88l10,6 7-1 -10-6zM862,89l10,6 6-1 -10-6zM855,90l10,6 7-1 -10-6zM849,91l9,7 7-2 -10-6zM842,93l10,6 6-1 -9-7zM835,94l10,7 7-2 -10-6zM829,96l10,6 6-1 -10-7zM822,98l10,6 7-2 -10-6zM815,100l10,6 7-2 -10-6zM809,102l10,6 6-2 -10-6zM802,104l10,7 7-3 -10-6zM795,107l10,6 7-2 -10-7zM789,110l10,6 6-3 -10-6zM782,112l10,7 7-3 -10-6zM775,115l10,6 7-2 -10-7zM769,118l10,6 6-3 -10-6z"/><path fill="#0ce01e" d="M762,121l10,7 7-4 -10-6zM755,125l10,6 7-3 -10-7zM749,128l10,6 6-3 -10-6zM742,132l10,6 7-4 -10-6zM735,135l11,7 6-4 -10-6zM729,139l10,6 7-3 -11-7zM722,143l10,6 7-4 -10-6zM715,147l11,6 6-4 -10-6zM709,151l10,7 7-5 -11-6zM702,156l10,6 7-4 -10-7zM695,160l11,6 6-4 -10-6zM689,165l10,6 7-5 -11-6zM682,170l11,6 6-5 -10-6zM676,174l10,7 7-5 -11-6zM669,179l10,7 7-5 -10-7zM662,184l11,7 6-5 -10-7zM656,190l10,6 7-5 -11-7z"/><path fill="#14ec28" d="M649,195l11,6 6-5 -10-6zM643,200l10,7 7-6 -11-6zM636,206l10,6 7-5 -10-7zM629,212l11,6 6-6 -10-6zM623,218l10,6 7-6 -11-6zM616,224l11,6 6-6 -10-6zM610,230l10,6 7-6 -11-6zM603,236l11,6 6-6 -10-6zM597,242l10,6 7-6 -11-6zM590,248l11,6 6-6 -10-6zM583,255l11,6 7-7 -11-6z"/><path fill="#26f43c" d="M577,261l11,7 6-7 -11-6zM570,268l11,6 7-6 -11-7zM564,275l11,6 6-7 -11-6zM557,282l11,6 7-7 -11-6zM551,289l11,6 6-7 -11-6zM545,296l10,6 7-7 -11-6zM538,303l11,6 6-7 -10-6zM532,311l10,6 7-8 -11-6z"/><path fill="#52fa66" d="M525,318l11,6 6-7 -10-6zM519,325l10,6 7-7 -11-6z"/><path fill="#0ce01e" d="M918,91l9,7 7,0 -10-7zM911,91l10,7 6,0 -9-7zM904,92l10,6 7,0 -10-7zM898,92l10,7 6-1 -10-6zM891,93l10,6 7,0 -10-7zM885,93l9,7 7-1 -10-6zM878,94l10,7 6-1 -9-7zM872,95l9,7 7-1 -10-7zM865,96l10,7 6-1 -9-7zM858,98l10,6 7-1 -10-7zM852,99l10,7 6-2 -10-6zM845,101l10,6 7-1 -10-7zM839,102l9,7 7-2 -10-6zM832,104l10,7 6-2 -9-7zM825,106l10,7 7-2 -10-7zM819,108l10,7 6-2 -10-7zM812,111l10,6 7-2 -10-7zM805,113l10,7 7-3 -10-6zM799,116l10,6 6-2 -10-7zM792,119l10,6 7-3 -10-6zM785,121l10,7 7-3 -10-6zM779,124l10,7 6-3 -10-7zM772,128l10,6 7-3 -10-7zM765,131l11,6 6-3 -10-6zM759,134l10,7 7-4 -11-6zM752,138l10,6 7-3 -10-7zM746,142l10,6 6-4 -10-6zM739,145l10,7 7-4 -10-6zM732,149l10,7 7-4 -10-7zM726,153l10,7 6-4 -10-7zM719,158l10,6 7-4 -10-7zM712,162l11,6 6-4 -10-6zM706,166l10,7 7-5 -11-6zM699,171l10,6 7-4 -10-7zM693,176l10,6 6-5 -10-6zM686,181l10,6 7-5 -10-6zM679,186l11,6 6-5 -10-6zM673,191l10,6 7-5 -11-6z"/><path fill="#14ec28" d="M666,196l10,6 7-5 -10-6zM660,201l10,7 6-6 -10-6zM653,207l10,6 7-5 -10-7zM646,212l11,7 6-6 -10-6zM640,218l10,6 7-5 -11-7zM633,224l11,6 6-6 -10-6zM627,230l10,6 7-6 -11-6zM620,236l11,6 6-6 -10-6zM614,242l10,6 7-6 -11-6zM607,248l11,6 6-6 -10-6zM601,254l10,7 7-7 -11-6z"/><path fill="#26f43c" d="M594,261l11,6 6-6 -10-7zM588,268l10,6 7-7 -11-6zM581,274l11,6 6-6 -10-6zM575,281l10,6 7-7 -11-6zM568,288l11,6 6-7 -10-6zM562,295l10,6 7-7 -11-6zM555,302l11,6 6-7 -10-6zM549,309l10,6 7-7 -11-6z"/><path fill="#52fa66" d="M542,317l11,6 6-8 -10-6zM536,324l11,6 6-7 -11-6zM529,331l11,7 7-8 -11-6z"/><path fill="#0ce01e" d="M927,98l10,6 6,0 -9-6zM921,98l9,6 7,0 -10-6zM914,98l10,7 6-1 -9-6zM908,99l9,6 7,0 -10-7zM901,99l10,7 6-1 -9-6zM894,100l10,6 7,0 -10-7zM888,101l10,6 6-1 -10-6zM881,102l10,6 7-1 -10-6zM875,103l9,6 7-1 -10-6zM868,104l10,7 6-2 -9-6zM862,106l9,6 7-1 -10-7zM855,107l10,7 6-2 -9-6zM848,109l10,6 7-1 -10-7zM842,111l10,6 6-2 -10-6zM835,113l10,6 7-2 -10-6zM829,115l9,7 7-3 -10-6zM822,117l10,7 6-2 -9-7zM815,120l10,6 7-2 -10-7zM809,122l10,7 6-3 -10-6zM802,125l10,7 7-3 -10-7zM795,128l10,7 7-3 -10-7zM789,131l10,7 6-3 -10-7zM782,134l10,7 7-3 -10-7zM776,137l10,7 6-3 -10-7zM769,141l10,6 7-3 -10-7zM762,144l10,7 7-4 -10-6zM756,148l10,7 6-4 -10-7zM749,152l10,6 7-3 -10-7zM742,156l11,6 6-4 -10-6zM736,160l10,6 7-4 -11-6zM729,164l10,7 7-5 -10-6zM723,168l10,7 6-4 -10-7zM716,173l10,6 7-4 -10-7zM709,177l11,7 6-5 -10-6zM703,182l10,7 7-5 -11-7zM696,187l11,7 6-5 -10-7z"/><path fill="#14ec28" d="M690,192l10,7 7-5 -11-7zM683,197l10,7 7-5 -10-7zM676,202l11,7 6-5 -10-7zM670,208l10,6 7-5 -11-7zM663,213l11,7 6-6 -10-6zM657,219l10,6 7-5 -11-7zM650,224l11,7 6-6 -10-6zM644,230l10,7 7-6 -11-7zM637,236l11,6 6-5 -10-7zM631,242l10,6 7-6 -11-6zM624,248l11,7 6-7 -10-6zM618,254l10,7 7-6 -11-7z"/><path fill="#26f43c" d="M611,261l11,6 6-6 -10-7zM605,267l10,7 7-7 -11-6zM598,274l11,6 6-6 -10-7zM592,280l10,7 7-7 -11-6zM585,287l11,7 6-7 -10-7zM579,294l10,7 7-7 -11-7zM572,301l11,6 6-6 -10-7zM566,308l10,7 7-8 -11-6z"/><path fill="#52fa66" d="M559,315l11,7 6-7 -10-7zM553,323l11,6 6-7 -11-7zM547,330l10,6 7-7 -11-6zM540,338l11,6 6-8 -10-6z"/><path fill="#0ce01e" d="M937,104l9,7 7,0 -10-7zM930,104l10,7 6,0 -9-7zM924,105l9,7 7-1 -10-7zM917,105l10,7 6,0 -9-7zM911,106l9,7 7-1 -10-7zM904,106l10,7 6,0 -9-7zM898,107l9,7 7-1 -10-7zM891,108l10,7 6-1 -9-7zM884,109l10,7 7-1 -10-7zM878,111l10,7 6-2 -10-7zM871,112l10,7 7-1 -10-7zM865,114l10,7 6-2 -10-7zM858,115l10,7 7-1 -10-7zM852,117l9,7 7-2 -10-7zM845,119l10,7 6-2 -9-7zM838,122l10,6 7-2 -10-7zM832,124l10,7 6-3 -10-6zM825,126l10,7 7-2 -10-7zM819,129l10,7 6-3 -10-7zM812,132l10,6 7-2 -10-7zM805,135l10,6 7-3 -10-6zM799,138l10,6 6-3 -10-6zM792,141l10,6 7-3 -10-6zM786,144l10,7 6-4 -10-6zM779,147l10,7 7-3 -10-7zM772,151l11,7 6-4 -10-7zM766,155l10,6 7-3 -11-7zM759,158l10,7 7-4 -10-6zM753,162l10,7 6-4 -10-7zM746,166l10,7 7-4 -10-7zM739,171l11,6 6-4 -10-7zM733,175l10,7 7-5 -11-6zM726,179l11,7 6-4 -10-7zM720,184l10,7 7-5 -11-7z"/><path fill="#14ec28" d="M713,189l10,6 7-4 -10-7zM707,194l10,6 6-5 -10-6zM700,199l10,6 7-5 -10-6zM693,204l11,6 6-5 -10-6zM687,209l10,7 7-6 -11-6zM680,214l11,7 6-5 -10-7zM674,220l10,6 7-5 -11-7zM667,225l11,7 6-6 -10-6zM661,231l10,7 7-6 -11-7zM654,237l11,6 6-5 -10-7zM648,242l10,7 7-6 -11-6zM641,248l11,7 6-6 -10-7z"/><path fill="#26f43c" d="M635,255l10,6 7-6 -11-7zM628,261l11,7 6-7 -10-6zM622,267l10,7 7-6 -11-7zM615,274l11,6 6-6 -10-7zM609,280l10,7 7-7 -11-6zM602,287l11,7 6-7 -10-7zM596,294l10,6 7-6 -11-7zM589,301l11,6 6-7 -10-6zM583,307l10,7 7-7 -11-6z"/><path fill="#52fa66" d="M576,315l11,6 6-7 -10-7zM570,322l11,6 6-7 -11-6zM564,329l10,7 7-8 -11-6zM557,336l11,7 6-7 -10-7zM551,344l10,6 7-7 -11-7z"/><path fill="#0ce01e" d="M946,111l10,7 6,0 -9-7zM940,111l9,7 7,0 -10-7zM933,112l10,7 6-1 -9-7zM927,112l9,7 7,0 -10-7zM920,113l10,7 6-1 -9-7zM914,113l9,7 7,0 -10-7zM907,114l10,7 6-1 -9-7zM901,115l9,7 7-1 -10-7zM894,116l10,7 6-1 -9-7zM888,118l9,7 7-2 -10-7zM881,119l10,7 6-1 -9-7zM875,121l9,7 7-2 -10-7zM868,122l10,7 6-1 -9-7zM861,124l10,7 7-2 -10-7zM855,126l10,7 6-2 -10-7zM848,128l10,7 7-2 -10-7zM842,131l10,7 6-3 -10-7zM835,133l10,7 7-2 -10-7zM829,136l10,7 6-3 -10-7zM822,138l10,7 7-2 -10-7zM815,141l10,7 7-3 -10-7zM809,144l10,7 6-3 -10-7zM802,147l10,7 7-3 -10-7zM796,151l10,7 6-4 -10-7zM789,154l10,7 7-3 -10-7zM783,158l10,7 6-4 -10-7zM776,161l10,7 7-3 -10-7zM769,165l11,7 6-4 -10-7zM763,169l10,7 7-4 -11-7zM756,173l10,7 7-4 -10-7zM750,177l10,7 6-4 -10-7zM743,182l10,7 7-5 -10-7z"/><path fill="#14ec28" d="M737,186l10,7 6-4 -10-7zM730,191l10,7 7-5 -10-7zM723,195l11,7 6-4 -10-7zM717,200l10,7 7-5 -11-7zM710,205l11,7 6-5 -10-7zM704,210l10,7 7-5 -11-7zM697,216l11,6 6-5 -10-7zM691,221l10,7 7-6 -11-6zM684,226l10,7 7-5 -10-7zM678,232l10,7 6-6 -10-7zM671,238l10,6 7-5 -10-7zM665,243l10,7 6-6 -10-6zM658,249l10,7 7-6 -10-7z"/><path fill="#26f43c" d="M652,255l10,7 6-6 -10-7zM645,261l11,7 6-6 -10-7zM639,268l10,6 7-6 -11-7zM632,274l11,7 6-7 -10-6zM626,280l10,7 7-6 -11-7zM619,287l11,7 6-7 -10-7zM613,294l10,6 7-6 -11-7zM606,300l11,7 6-7 -10-6zM600,307l10,7 7-7 -11-7z"/><path fill="#52fa66" d="M593,314l11,7 6-7 -10-7zM587,321l11,7 6-7 -11-7zM581,328l10,7 7-7 -11-7zM574,336l11,6 6-7 -10-7zM568,343l10,7 7-8 -11-6zM561,350l11,7 6-7 -10-7z"/><path fill="#14ec28" d="M956,118l9,7 7,0 -10-7z"/><path fill="#0ce01e" d="M949,118l10,7 6,0 -9-7zM943,119l9,7 7-1 -10-7zM936,119l10,7 6,0 -9-7zM930,120l9,7 7-1 -10-7zM923,120l10,7 6,0 -9-7zM917,121l10,7 6-1 -10-7zM910,122l10,7 7-1 -10-7zM904,123l10,7 6-1 -10-7zM897,125l10,7 7-2 -10-7zM891,126l10,7 6-1 -10-7zM884,128l10,7 7-2 -10-7zM878,129l10,8 6-2 -10-7zM871,131l10,7 7-1 -10-8zM865,133l10,7 6-2 -10-7zM858,135l10,8 7-3 -10-7zM852,138l10,7 6-2 -10-8zM845,140l10,7 7-2 -10-7zM839,143l9,7 7-3 -10-7zM832,145l10,8 6-3 -9-7zM825,148l10,8 7-3 -10-8zM819,151l10,8 6-3 -10-8zM812,154l10,8 7-3 -10-8zM806,158l10,7 6-3 -10-8zM799,161l10,7 7-3 -10-7zM793,165l10,7 6-4 -10-7zM786,168l10,8 7-4 -10-7zM780,172l10,7 6-3 -10-8zM773,176l10,7 7-4 -10-7z"/><path fill="#14ec28" d="M766,180l11,7 6-4 -10-7zM760,184l10,8 7-5 -11-7zM753,189l10,7 7-4 -10-8zM747,193l10,7 6-4 -10-7zM740,198l10,7 7-5 -10-7zM734,202l10,8 6-5 -10-7zM727,207l10,7 7-4 -10-8zM721,212l10,7 6-5 -10-7zM714,217l10,7 7-5 -10-7zM708,222l10,8 6-6 -10-7zM701,228l10,7 7-5 -10-8zM694,233l11,7 6-5 -10-7zM688,239l10,7 7-6 -11-7zM681,244l11,8 6-6 -10-7zM675,250l10,7 7-5 -11-8z"/><path fill="#26f43c" d="M668,256l11,7 6-6 -10-7zM662,262l10,7 7-6 -11-7zM656,268l10,7 6-6 -10-7zM649,274l11,7 6-6 -10-7zM643,281l10,7 7-7 -11-7zM636,287l11,7 6-6 -10-7zM630,294l10,7 7-7 -11-7zM623,300l11,7 6-6 -10-7zM617,307l10,7 7-7 -11-7z"/><path fill="#52fa66" d="M610,314l11,7 6-7 -10-7zM604,321l11,7 6-7 -11-7zM598,328l10,7 7-7 -11-7zM591,335l11,7 6-7 -10-7zM585,342l10,7 7-7 -11-7zM578,350l11,7 6-8 -10-7zM572,357l11,7 6-7 -11-7z"/><path fill="#14ec28" d="M965,125l10,8 6,0 -9-8zM959,125l9,8 7,0 -10-8zM952,126l10,7 6,0 -9-8zM946,126l9,7 7,0 -10-7z"/><path fill="#0ce01e" d="M939,127l10,7 6-1 -9-7zM933,127l10,8 6-1 -10-7zM927,128l9,8 7-1 -10-8zM920,129l10,8 6-1 -9-8zM914,130l9,8 7-1 -10-8zM907,132l10,7 6-1 -9-8zM901,133l9,8 7-2 -10-7zM894,135l10,7 6-1 -9-8zM888,137l9,7 7-2 -10-7zM881,138l10,8 6-2 -9-7zM875,140l9,8 7-2 -10-8zM868,143l10,7 6-2 -9-8zM862,145l9,7 7-2 -10-7zM855,147l10,8 6-3 -9-7zM848,150l10,7 7-2 -10-8zM842,153l10,7 6-3 -10-7zM835,156l10,7 7-3 -10-7zM829,159l10,7 6-3 -10-7zM822,162l10,7 7-3 -10-7zM816,165l10,7 6-3 -10-7zM809,168l10,8 7-4 -10-7zM803,172l10,7 6-3 -10-8z"/><path fill="#14ec28" d="M796,176l10,7 7-4 -10-7zM790,179l10,8 6-4 -10-7zM783,183l10,8 7-4 -10-8zM777,187l10,8 6-4 -10-8zM770,192l10,7 7-4 -10-8zM763,196l11,7 6-4 -10-7zM757,200l10,8 7-5 -11-7zM750,205l11,7 6-4 -10-8zM744,210l10,7 7-5 -11-7zM737,214l11,8 6-5 -10-7zM731,219l10,8 7-5 -11-8zM724,224l11,8 6-5 -10-8zM718,230l10,7 7-5 -11-8zM711,235l11,7 6-5 -10-7zM705,240l10,8 7-6 -11-7zM698,246l11,7 6-5 -10-8z"/><path fill="#26f43c" d="M692,252l10,7 7-6 -11-7zM685,257l11,8 6-6 -10-7zM679,263l10,7 7-5 -11-8zM672,269l11,7 6-6 -10-7zM666,275l10,7 7-6 -11-7zM660,281l10,8 6-7 -10-7zM653,288l11,7 6-6 -10-8zM647,294l10,7 7-6 -11-7zM640,301l11,7 6-7 -10-7zM634,307l10,8 7-7 -11-7z"/><path fill="#52fa66" d="M627,314l11,7 6-6 -10-8zM621,321l10,7 7-7 -11-7zM615,328l10,7 6-7 -10-7zM608,335l11,7 6-7 -10-7zM602,342l10,7 7-7 -11-7zM595,349l11,7 6-7 -10-7zM589,357l11,7 6-8 -11-7zM583,364l10,7 7-7 -11-7z"/><path fill="#14ec28" d="M975,133l9,7 6,0 -9-7zM968,133l10,7 6,0 -9-7zM962,133l9,8 7-1 -10-7zM955,133l10,8 6,0 -9-8zM949,134l10,8 6-1 -10-8zM943,135l9,7 7,0 -10-8zM936,136l10,7 6-1 -9-7zM930,137l9,7 7-1 -10-7zM923,138l10,7 6-1 -9-7zM917,139l9,8 7-2 -10-7z"/><path fill="#0ce01e" d="M910,141l10,7 6-1 -9-8zM904,142l10,8 6-2 -10-7zM897,144l10,7 7-1 -10-8zM891,146l10,7 6-2 -10-7zM884,148l10,7 7-2 -10-7zM878,150l10,7 6-2 -10-7zM871,152l10,8 7-3 -10-7zM865,155l10,7 6-2 -10-8zM858,157l10,8 7-3 -10-7zM852,160l10,8 6-3 -10-8z"/><path fill="#14ec28" d="M845,163l10,7 7-2 -10-8zM839,166l10,7 6-3 -10-7zM832,169l10,8 7-4 -10-7zM826,172l10,8 6-3 -10-8zM819,176l10,7 7-3 -10-8zM813,179l10,8 6-4 -10-7zM806,183l10,7 7-3 -10-8zM800,187l10,7 6-4 -10-7zM793,191l10,7 7-4 -10-7zM787,195l10,7 6-4 -10-7zM780,199l10,7 7-4 -10-7zM774,203l10,8 6-5 -10-7zM767,208l10,7 7-4 -10-8zM761,212l10,8 6-5 -10-7zM754,217l10,7 7-4 -10-8zM748,222l10,7 6-5 -10-7zM741,227l10,7 7-5 -10-7zM735,232l10,7 6-5 -10-7zM728,237l10,7 7-5 -10-7zM722,242l10,8 6-6 -10-7z"/><path fill="#26f43c" d="M715,248l10,7 7-5 -10-8zM709,253l10,8 6-6 -10-7zM702,259l11,7 6-5 -10-8zM696,265l10,7 7-6 -11-7zM689,270l11,8 6-6 -10-7zM683,276l10,8 7-6 -11-8zM676,282l11,8 6-6 -10-8zM670,289l10,7 7-6 -11-8zM664,295l10,7 6-6 -10-7zM657,301l11,8 6-7 -10-7zM651,308l10,7 7-6 -11-8z"/><path fill="#52fa66" d="M644,315l11,7 6-7 -10-7zM638,321l10,8 7-7 -11-7zM631,328l11,7 6-6 -10-8zM625,335l11,7 6-7 -11-7zM619,342l10,7 7-7 -11-7zM612,349l11,7 6-7 -10-7zM606,356l11,8 6-8 -11-7zM600,364l10,7 7-7 -11-8zM593,371l11,7 6-7 -10-7z"/><path fill="#14ec28" d="M984,140l9,8 7,0 -10-8zM978,140l9,8 6,0 -9-8zM971,141l10,7 6,0 -9-8zM965,141l9,8 7-1 -10-7zM959,142l9,7 6,0 -9-8zM952,142l10,8 6-1 -9-7zM946,143l9,8 7-1 -10-8zM939,144l10,8 6-1 -9-8zM933,145l9,8 7-1 -10-8zM926,147l10,7 6-1 -9-8zM920,148l10,8 6-2 -10-7zM914,150l9,7 7-1 -10-8zM907,151l10,8 6-2 -9-7zM901,153l9,8 7-2 -10-8zM894,155l10,8 6-2 -9-8zM888,157l9,8 7-2 -10-8zM881,160l10,8 6-3 -9-8zM875,162l10,8 6-2 -10-8zM868,165l10,8 7-3 -10-8zM862,168l10,7 6-2 -10-8zM855,170l10,8 7-3 -10-7zM849,173l10,8 6-3 -10-8zM842,177l10,7 7-3 -10-8zM836,180l10,8 6-4 -10-7zM829,183l10,8 7-3 -10-8zM823,187l10,7 6-3 -10-8zM816,190l10,8 7-4 -10-7zM810,194l10,8 6-4 -10-8zM803,198l10,8 7-4 -10-8zM797,202l10,8 6-4 -10-8zM790,206l10,8 7-4 -10-8zM784,211l10,7 6-4 -10-8zM777,215l10,8 7-5 -10-7zM771,220l10,7 6-4 -10-8zM764,224l10,8 7-5 -10-7zM758,229l10,8 6-5 -10-8zM751,234l11,8 6-5 -10-8zM745,239l10,8 7-5 -11-8z"/><path fill="#26f43c" d="M738,244l11,8 6-5 -10-8zM732,250l10,7 7-5 -11-8zM725,255l11,8 6-6 -10-7zM719,261l10,7 7-5 -11-8zM713,266l10,8 6-6 -10-7zM706,272l10,8 7-6 -10-8zM700,278l10,7 6-5 -10-8zM693,284l11,7 6-6 -10-7zM687,290l10,8 7-7 -11-7zM680,296l11,8 6-6 -10-8zM674,302l10,8 7-6 -11-8z"/><path fill="#52fa66" d="M668,309l10,7 6-6 -10-8zM661,315l11,8 6-7 -10-7zM655,322l10,7 7-6 -11-8zM648,329l11,7 6-7 -10-7zM642,335l10,8 7-7 -11-7zM636,342l10,8 6-7 -10-8zM629,349l11,8 6-7 -10-8zM623,356l10,8 7-7 -11-8zM617,364l10,7 6-7 -10-8zM610,371l11,7 6-7 -10-7zM604,378l10,8 7-8 -11-7z"/><path fill="#14ec28" d="M993,148l10,8 6,0 -9-8zM987,148l10,8 6,0 -10-8zM981,148l9,8 7,0 -10-8zM974,149l10,7 6,0 -9-8zM968,149l10,8 6-1 -10-7zM962,150l9,8 7-1 -10-8zM955,151l10,8 6-1 -9-8zM949,152l9,8 7-1 -10-8zM942,153l10,8 6-1 -9-8zM936,154l10,8 6-1 -10-8zM930,156l9,8 7-2 -10-8zM923,157l10,8 6-1 -9-8zM917,159l9,8 7-2 -10-8zM910,161l10,8 6-2 -9-8zM904,163l10,8 6-2 -10-8zM897,165l10,8 7-2 -10-8zM891,168l10,7 6-2 -10-8zM885,170l9,8 7-3 -10-7zM878,173l10,7 6-2 -9-8zM872,175l9,8 7-3 -10-7zM865,178l10,8 6-3 -9-8zM859,181l10,8 6-3 -10-8zM852,184l10,8 7-3 -10-8zM846,188l10,7 6-3 -10-8zM839,191l10,8 7-4 -10-7zM833,194l10,8 6-3 -10-8zM826,198l10,8 7-4 -10-8zM820,202l10,8 6-4 -10-8zM813,206l10,8 7-4 -10-8zM807,210l10,8 6-4 -10-8zM800,214l10,8 7-4 -10-8zM794,218l10,8 6-4 -10-8zM787,223l11,8 6-5 -10-8zM781,227l10,8 7-4 -11-8zM774,232l11,8 6-5 -10-8zM768,237l10,8 7-5 -11-8z"/><path fill="#26f43c" d="M762,242l10,8 6-5 -10-8zM755,247l10,8 7-5 -10-8zM749,252l10,8 6-5 -10-8zM742,257l10,8 7-5 -10-8zM736,263l10,8 6-6 -10-8zM729,268l11,8 6-5 -10-8zM723,274l10,8 7-6 -11-8zM716,280l11,7 6-5 -10-8zM710,285l10,8 7-6 -11-7zM704,291l10,8 6-6 -10-8zM697,298l11,7 6-6 -10-8zM691,304l10,7 7-6 -11-7z"/><path fill="#52fa66" d="M684,310l11,8 6-7 -10-7zM678,316l10,8 7-6 -11-8zM672,323l10,8 6-7 -10-8zM665,329l11,8 6-6 -10-8zM659,336l10,8 7-7 -11-8zM652,343l11,8 6-7 -10-8zM646,350l11,8 6-7 -11-8zM640,357l10,8 7-7 -11-8zM633,364l11,8 6-7 -10-8zM627,371l11,8 6-7 -11-8zM621,378l10,8 7-7 -11-8zM614,386l11,7 6-7 -10-8z"/><path fill="#14ec28" d="M1003,156l9,8 6,0 -9-8zM997,156l9,8 6,0 -9-8zM990,156l10,8 6,0 -9-8zM984,156l9,8 7,0 -10-8zM978,157l9,8 6-1 -9-8zM971,158l10,8 6-1 -9-8zM965,159l9,8 7-1 -10-8zM958,160l10,8 6-1 -9-8zM952,161l10,8 6-1 -10-8zM946,162l9,8 7-1 -10-8zM939,164l10,8 6-2 -9-8zM933,165l10,8 6-1 -10-8zM926,167l10,8 7-2 -10-8zM920,169l10,8 6-2 -10-8zM914,171l9,8 7-2 -10-8zM907,173l10,8 6-2 -9-8zM901,175l10,8 6-2 -10-8zM894,178l10,8 7-3 -10-8zM888,180l10,8 6-2 -10-8zM881,183l10,8 7-3 -10-8zM875,186l10,8 6-3 -10-8zM869,189l9,8 7-3 -10-8zM862,192l10,8 6-3 -9-8zM856,195l10,8 6-3 -10-8zM849,199l10,8 7-4 -10-8zM843,202l10,8 6-3 -10-8zM836,206l10,8 7-4 -10-8zM830,210l10,8 6-4 -10-8zM823,214l10,8 7-4 -10-8zM817,218l10,8 6-4 -10-8zM810,222l11,8 6-4 -10-8zM804,226l10,8 7-4 -11-8zM798,231l10,8 6-5 -10-8z"/><path fill="#26f43c" d="M791,235l10,8 7-4 -10-8zM785,240l10,8 6-5 -10-8zM778,245l10,8 7-5 -10-8zM772,250l10,8 6-5 -10-8zM765,255l11,8 6-5 -10-8zM759,260l10,8 7-5 -11-8zM752,265l11,8 6-5 -10-8zM746,271l10,8 7-6 -11-8zM740,276l10,8 6-5 -10-8zM733,282l10,8 7-6 -10-8zM727,287l10,8 6-5 -10-8zM720,293l11,8 6-6 -10-8zM714,299l10,8 7-6 -11-8z"/><path fill="#52fa66" d="M708,305l10,8 6-6 -10-8zM701,311l11,8 6-6 -10-8zM695,318l10,8 7-7 -11-8zM688,324l11,8 6-6 -10-8zM682,331l10,8 7-7 -11-8zM676,337l10,8 6-6 -10-8zM669,344l11,8 6-7 -10-8zM663,351l10,8 7-7 -11-8zM657,358l10,7 6-6 -10-8zM650,365l11,7 6-7 -10-7zM644,372l10,8 7-8 -11-7zM638,379l10,8 6-7 -10-8zM631,386l11,8 6-7 -10-8zM625,393l11,8 6-7 -11-8z"/><path fill="#26f43c" d="M1012,164l10,8 6,0 -10-8z"/><path fill="#14ec28" d="M1006,164l9,8 7,0 -10-8zM1000,164l9,8 6,0 -9-8zM993,164l10,9 6-1 -9-8zM987,165l9,8 7,0 -10-9zM981,166l9,8 6-1 -9-8zM974,167l10,8 6-1 -9-8zM968,168l10,8 6-1 -10-8zM962,169l9,8 7-1 -10-8zM955,170l10,8 6-1 -9-8zM949,172l9,8 7-2 -10-8zM943,173l9,8 6-1 -9-8zM936,175l10,8 6-2 -9-8zM930,177l9,8 7-2 -10-8zM923,179l10,8 6-2 -9-8zM917,181l10,8 6-2 -10-8zM911,183l9,9 7-3 -10-8zM904,186l10,8 6-2 -9-9zM898,188l9,9 7-3 -10-8zM891,191l10,8 6-2 -9-9zM885,194l10,8 6-3 -10-8zM878,197l10,8 7-3 -10-8zM872,200l10,8 6-3 -10-8zM866,203l9,9 7-4 -10-8zM859,207l10,8 6-3 -9-9zM853,210l10,9 6-4 -10-8zM846,214l10,8 7-3 -10-9zM840,218l10,8 6-4 -10-8zM833,222l10,8 7-4 -10-8zM827,226l10,8 6-4 -10-8z"/><path fill="#26f43c" d="M821,230l10,8 6-4 -10-8zM814,234l10,9 7-5 -10-8zM808,239l10,8 6-4 -10-9zM801,243l10,9 7-5 -10-8zM795,248l10,8 6-4 -10-9zM788,253l10,8 7-5 -10-8zM782,258l10,8 6-5 -10-8zM776,263l10,8 6-5 -10-8zM769,268l10,8 7-5 -10-8zM763,273l10,8 6-5 -10-8zM756,279l10,8 7-6 -10-8zM750,284l10,8 6-5 -10-8zM743,290l11,8 6-6 -10-8zM737,295l10,9 7-6 -11-8z"/><path fill="#52fa66" d="M731,301l10,8 6-5 -10-9zM724,307l11,8 6-6 -10-8zM718,313l10,8 7-6 -11-8zM712,319l10,9 6-7 -10-8zM705,326l11,8 6-6 -10-9zM699,332l10,8 7-6 -11-8zM692,339l11,8 6-7 -10-8zM686,345l10,8 7-6 -11-8zM680,352l10,8 6-7 -10-8zM673,359l11,8 6-7 -10-8zM667,365l11,9 6-7 -11-8zM661,372l10,9 7-7 -11-9zM654,380l11,8 6-7 -10-9zM648,387l11,8 6-7 -11-8zM642,394l10,8 7-7 -11-8zM636,401l10,8 6-7 -10-8z"/><path fill="#26f43c" d="M1022,172l9,8 6,0 -9-8zM1015,172l10,8 6,0 -9-8zM1009,172l9,8 7,0 -10-8zM1003,173l9,8 6-1 -9-8zM996,173l10,8 6,0 -9-8zM990,174l10,8 6-1 -10-8z"/><path fill="#14ec28" d="M984,175l9,8 7-1 -10-8zM978,176l9,8 6-1 -9-8zM971,177l10,8 6-1 -9-8zM965,178l9,9 7-2 -10-8zM958,180l10,8 6-1 -9-9zM952,181l10,9 6-2 -10-8zM946,183l9,9 7-2 -10-9zM939,185l10,8 6-1 -9-9zM933,187l10,8 6-2 -10-8zM927,189l9,9 7-3 -10-8zM920,192l10,8 6-2 -9-9zM914,194l10,8 6-2 -10-8zM907,197l10,8 7-3 -10-8zM901,199l10,9 6-3 -10-8zM895,202l9,9 7-3 -10-9zM888,205l10,9 6-3 -9-9zM882,208l10,9 6-3 -10-9zM875,212l10,8 7-3 -10-9zM869,215l10,8 6-3 -10-8zM863,219l10,8 6-4 -10-8z"/><path fill="#26f43c" d="M856,222l10,9 7-4 -10-8zM850,226l10,8 6-3 -10-9zM843,230l10,8 7-4 -10-8zM837,234l10,8 6-4 -10-8zM831,238l10,9 6-5 -10-8zM824,243l10,8 7-4 -10-9zM818,247l10,8 6-4 -10-8zM811,252l10,8 7-5 -10-8zM805,256l10,9 6-5 -10-8zM798,261l11,8 6-4 -10-9zM792,266l10,8 7-5 -11-8zM786,271l10,8 6-5 -10-8zM779,276l10,8 7-5 -10-8zM773,281l10,9 6-6 -10-8zM766,287l11,8 6-5 -10-9zM760,292l10,9 7-6 -11-8z"/><path fill="#52fa66" d="M754,298l10,8 6-5 -10-9zM747,304l11,8 6-6 -10-8zM741,309l10,9 7-6 -11-8zM735,315l10,9 6-6 -10-9zM728,321l11,9 6-6 -10-9zM722,328l10,8 7-6 -11-9zM716,334l10,8 6-6 -10-8zM709,340l11,8 6-6 -10-8zM703,347l10,8 7-7 -11-8zM696,353l11,8 6-6 -10-8zM690,360l11,8 6-7 -11-8zM684,367l10,8 7-7 -11-8zM678,374l10,8 6-7 -10-8zM671,381l11,8 6-7 -10-8zM665,388l10,8 7-7 -11-8zM659,395l10,8 6-7 -10-8zM652,402l11,8 6-7 -10-8zM646,409l11,8 6-7 -11-8z"/><path fill="#26f43c" d="M1031,180l9,8 6,0 -9-8zM1025,180l9,9 6-1 -9-8zM1018,180l10,9 6,0 -9-9zM1012,181l9,8 7,0 -10-9zM1006,181l9,9 6-1 -9-8zM1000,182l9,9 6-1 -9-9zM993,183l10,9 6-1 -9-9zM987,184l9,9 7-1 -10-9zM981,185l9,9 6-1 -9-9zM974,187l10,8 6-1 -9-9zM968,188l10,9 6-2 -10-8zM962,190l9,8 7-1 -10-9zM955,192l10,8 6-2 -9-8zM949,193l10,9 6-2 -10-8z"/><path fill="#14ec28" d="M943,195l9,9 7-2 -10-9zM936,198l10,8 6-2 -9-9zM930,200l10,8 6-2 -10-8z"/><path fill="#26f43c" d="M924,202l9,9 7-3 -10-8zM917,205l10,9 6-3 -9-9zM911,208l10,8 6-2 -10-9zM904,211l10,8 7-3 -10-8zM898,214l10,8 6-3 -10-8zM892,217l10,8 6-3 -10-8zM885,220l10,9 7-4 -10-8zM879,223l10,9 6-3 -10-9zM873,227l9,9 7-4 -10-9zM866,231l10,8 6-3 -9-9zM860,234l10,9 6-4 -10-8zM853,238l10,9 7-4 -10-9zM847,242l10,9 6-4 -10-9zM841,247l10,8 6-4 -10-9zM834,251l10,8 7-4 -10-8zM828,255l10,9 6-5 -10-8zM821,260l10,8 7-4 -10-9zM815,265l10,8 6-5 -10-8zM809,269l10,9 6-5 -10-8zM802,274l10,9 7-5 -10-9zM796,279l10,9 6-5 -10-9zM789,284l11,9 6-5 -10-9zM783,290l10,8 7-5 -11-9z"/><path fill="#52fa66" d="M777,295l10,9 6-6 -10-8zM770,301l11,8 6-5 -10-9zM764,306l10,9 7-6 -11-8zM758,312l10,8 6-5 -10-9zM751,318l10,8 7-6 -10-8zM745,324l10,8 6-6 -10-8zM739,330l10,8 6-6 -10-8zM732,336l10,8 7-6 -10-8zM726,342l10,9 6-7 -10-8zM720,348l10,9 6-6 -10-9zM713,355l11,8 6-6 -10-9zM707,361l10,9 7-7 -11-8zM701,368l10,9 6-7 -10-9zM694,375l11,8 6-6 -10-9zM688,382l10,8 7-7 -11-8zM682,389l10,8 6-7 -10-8zM675,396l11,8 6-7 -10-8zM669,403l11,8 6-7 -11-8zM663,410l10,9 7-8 -11-8zM657,417l10,9 6-7 -10-9z"/><path fill="#26f43c" d="M1040,188l9,9 7,0 -10-9zM1034,189l9,8 6,0 -9-9zM1028,189l9,8 6,0 -9-8zM1021,189l10,9 6-1 -9-8zM1015,190l10,9 6-1 -10-9zM1009,191l9,8 7,0 -10-9zM1003,192l9,8 6-1 -9-8zM996,193l10,8 6-1 -9-8zM990,194l10,8 6-1 -10-8zM984,195l9,9 7-2 -10-8zM978,197l9,8 6-1 -9-9zM971,198l10,9 6-2 -9-8zM965,200l10,9 6-2 -10-9zM959,202l9,9 7-2 -10-9zM952,204l10,9 6-2 -9-9zM946,206l10,9 6-2 -10-9zM940,208l9,9 7-2 -10-9zM933,211l10,9 6-3 -9-9zM927,214l10,8 6-2 -10-9zM921,216l9,9 7-3 -10-8zM914,219l10,9 6-3 -9-9zM908,222l10,9 6-3 -10-9zM902,225l9,9 7-3 -10-9zM895,229l10,8 6-3 -9-9zM889,232l10,9 6-4 -10-8zM882,236l10,8 7-3 -10-9zM876,239l10,9 6-4 -10-8zM870,243l10,9 6-4 -10-9zM863,247l10,9 7-4 -10-9zM857,251l10,9 6-4 -10-9zM851,255l10,9 6-4 -10-9zM844,259l10,9 7-4 -10-9zM838,264l10,9 6-5 -10-9zM831,268l10,9 7-4 -10-9zM825,273l10,9 6-5 -10-9zM819,278l10,9 6-5 -10-9zM812,283l10,8 7-4 -10-9zM806,288l10,8 6-5 -10-8z"/><path fill="#52fa66" d="M800,293l10,9 6-6 -10-8zM793,298l10,9 7-5 -10-9zM787,304l10,8 6-5 -10-9zM781,309l10,9 6-6 -10-8zM774,315l10,8 7-5 -10-9zM768,320l10,9 6-6 -10-8zM761,326l11,9 6-6 -10-9zM755,332l10,9 7-6 -11-9zM749,338l10,9 6-6 -10-9zM742,344l11,9 6-6 -10-9zM736,351l10,8 7-6 -11-9zM730,357l10,9 6-7 -10-8zM724,363l10,9 6-6 -10-9zM717,370l11,9 6-7 -10-9zM711,377l10,8 7-6 -11-9zM705,383l10,9 6-7 -10-8zM698,390l11,9 6-7 -10-9zM692,397l11,9 6-7 -11-9zM686,404l10,9 7-7 -11-9zM680,411l10,9 6-7 -10-9zM673,419l11,8 6-7 -10-9zM667,426l11,8 6-7 -11-8z"/><path fill="#26f43c" d="M1049,197l10,9 6,0 -9-9zM1043,197l9,9 7,0 -10-9zM1037,197l9,9 6,0 -9-9zM1031,198l9,9 6-1 -9-9zM1025,199l9,8 6,0 -9-9zM1018,199l10,9 6-1 -9-8zM1012,200l10,9 6-1 -10-9zM1006,201l9,9 7-1 -10-9zM1000,202l9,9 6-1 -9-9zM993,204l10,9 6-2 -9-9zM987,205l10,9 6-1 -10-9zM981,207l9,9 7-2 -10-9zM975,209l9,8 6-1 -9-9zM968,211l10,8 6-2 -9-8zM962,213l10,8 6-2 -10-8zM956,215l9,9 7-3 -10-8zM949,217l10,9 6-2 -9-9zM943,220l10,8 6-2 -10-9zM937,222l9,9 7-3 -10-8zM930,225l10,9 6-3 -9-9zM924,228l10,9 6-3 -10-9zM918,231l9,9 7-3 -10-9zM911,234l10,9 6-3 -9-9zM905,237l10,9 6-3 -10-9zM899,241l9,9 7-4 -10-9zM892,244l10,9 6-3 -9-9zM886,248l10,9 6-4 -10-9zM880,252l9,9 7-4 -10-9zM873,256l10,8 6-3 -9-9zM867,260l10,8 6-4 -10-8zM861,264l9,9 7-5 -10-8zM854,268l10,9 6-4 -9-9zM848,273l10,8 6-4 -10-9zM841,277l10,9 7-5 -10-8zM835,282l10,9 6-5 -10-9z"/><path fill="#52fa66" d="M829,287l10,8 6-4 -10-9zM822,291l10,9 7-5 -10-8zM816,296l10,9 6-5 -10-9zM810,302l10,8 6-5 -10-9zM803,307l11,9 6-6 -10-8zM797,312l10,9 7-5 -11-9zM791,318l10,9 6-6 -10-9zM784,323l11,9 6-5 -10-9zM778,329l10,9 7-6 -11-9zM772,335l10,9 6-6 -10-9zM765,341l11,9 6-6 -10-9zM759,347l10,9 7-6 -11-9zM753,353l10,9 6-6 -10-9zM746,359l11,9 6-6 -10-9zM740,366l10,8 7-6 -11-9zM734,372l10,9 6-7 -10-8zM728,379l10,8 6-6 -10-9zM721,385l11,9 6-7 -10-8zM715,392l10,9 7-7 -11-9zM709,399l10,9 6-7 -10-9zM703,406l10,8 6-6 -10-9zM696,413l11,8 6-7 -10-8zM690,420l10,9 7-8 -11-8zM684,427l10,9 6-7 -10-9zM678,434l10,9 6-7 -10-9zM1059,206l9,9 6,0 -9-9zM1052,206l10,9 6,0 -9-9z"/><path fill="#26f43c" d="M1046,206l10,9 6,0 -10-9zM1040,207l9,9 7-1 -10-9zM1034,207l9,9 6,0 -9-9zM1028,208l9,9 6-1 -9-9zM1022,209l9,9 6-1 -9-9zM1015,210l10,9 6-1 -9-9zM1009,211l10,9 6-1 -10-9zM1003,213l9,9 7-2 -10-9zM997,214l9,9 6-1 -9-9zM990,216l10,9 6-2 -9-9zM984,217l10,9 6-1 -10-9zM978,219l9,9 7-2 -10-9zM972,221l9,9 6-2 -9-9zM965,224l10,9 6-3 -9-9zM959,226l10,9 6-2 -10-9zM953,228l9,9 7-2 -10-9zM946,231l10,9 6-3 -9-9zM940,234l10,9 6-3 -10-9zM934,237l9,9 7-3 -10-9zM927,240l10,9 6-3 -9-9zM921,243l10,9 6-3 -10-9zM915,246l10,9 6-3 -10-9zM908,250l10,8 7-3 -10-9zM902,253l10,9 6-4 -10-8zM896,257l10,9 6-4 -10-9zM889,261l10,9 7-4 -10-9zM883,264l10,9 6-3 -10-9zM877,268l10,9 6-4 -10-9zM870,273l10,9 7-5 -10-9zM864,277l10,9 6-4 -10-9z"/><path fill="#52fa66" d="M858,281l10,9 6-4 -10-9zM851,286l10,9 7-5 -10-9zM845,291l10,9 6-5 -10-9zM839,295l10,9 6-4 -10-9zM832,300l11,9 6-5 -10-9zM826,305l10,9 7-5 -11-9zM820,310l10,9 6-5 -10-9zM814,316l10,9 6-6 -10-9zM807,321l10,9 7-5 -10-9zM801,327l10,9 6-6 -10-9zM795,332l10,9 6-5 -10-9zM788,338l10,9 7-6 -10-9zM782,344l10,9 6-6 -10-9zM776,350l10,9 6-6 -10-9zM769,356l11,9 6-6 -10-9zM763,362l10,9 7-6 -11-9zM757,368l10,9 6-6 -10-9zM750,374l11,9 6-6 -10-9zM744,381l10,9 7-7 -11-9zM738,387l10,9 6-6 -10-9zM732,394l10,9 6-7 -10-9zM725,401l11,9 6-7 -10-9zM719,408l11,8 6-6 -11-9zM713,414l10,9 7-7 -11-8zM707,421l10,9 6-7 -10-9zM700,429l11,8 6-7 -10-9zM694,436l11,9 6-8 -11-8zM688,443l10,9 7-7 -11-9zM1068,215l9,9 6,0 -9-9zM1062,215l9,9 6,0 -9-9zM1056,215l9,9 6,0 -9-9zM1049,216l10,9 6-1 -9-9zM1043,216l10,9 6,0 -10-9zM1037,217l9,9 7-1 -10-9z"/><path fill="#26f43c" d="M1031,218l9,9 6-1 -9-9zM1025,219l9,9 6-1 -9-9zM1019,220l9,9 6-1 -9-9zM1012,222l10,9 6-2 -9-9zM1006,223l10,9 6-1 -10-9zM1000,225l9,9 7-2 -10-9zM994,226l9,10 6-2 -9-9zM987,228l10,9 6-1 -9-10zM981,230l10,9 6-2 -10-9zM975,233l9,9 7-3 -10-9zM969,235l9,9 6-2 -9-9zM962,237l10,10 6-3 -9-9zM956,240l10,9 6-2 -10-10zM950,243l9,9 7-3 -10-9zM943,246l10,9 6-3 -9-9zM937,249l10,9 6-3 -10-9zM931,252l10,9 6-3 -10-9zM925,255l9,9 7-3 -10-9zM918,258l10,10 6-4 -9-9zM912,262l10,9 6-3 -10-10zM906,266l9,9 7-4 -10-9z"/><path fill="#52fa66" d="M899,270l10,9 6-4 -9-9zM893,273l10,10 6-4 -10-9zM887,277l10,10 6-4 -10-10zM880,282l10,9 7-4 -10-10zM874,286l10,9 6-4 -10-9zM868,290l10,10 6-5 -10-9zM861,295l10,9 7-4 -10-10zM855,300l10,9 6-5 -10-9zM849,304l10,10 6-5 -10-9zM843,309l10,9 6-4 -10-10zM836,314l10,9 7-5 -10-9zM830,319l10,10 6-6 -10-9zM824,325l10,9 6-5 -10-10zM817,330l10,9 7-5 -10-9zM811,336l10,9 6-6 -10-9zM805,341l10,9 6-5 -10-9zM798,347l11,9 6-6 -10-9zM792,353l10,9 7-6 -11-9zM786,359l10,9 6-6 -10-9zM780,365l10,9 6-6 -10-9zM773,371l11,9 6-6 -10-9zM767,377l10,9 7-6 -11-9zM761,383l10,9 6-6 -10-9zM754,390l11,9 6-7 -10-9zM748,396l11,9 6-6 -11-9zM742,403l10,9 7-7 -11-9zM736,410l10,9 6-7 -10-9zM730,416l10,9 6-6 -10-9zM723,423l11,9 6-7 -10-9zM717,430l10,9 7-7 -11-9zM711,437l10,9 6-7 -10-9zM705,445l10,9 6-8 -10-9zM698,452l11,9 6-7 -10-9zM1077,224l9,9 6,0 -9-9zM1071,224l9,9 6,0 -9-9zM1065,224l9,9 6,0 -9-9zM1059,225l9,9 6-1 -9-9zM1053,225l9,9 6,0 -9-9zM1046,226l10,9 6-1 -9-9zM1040,227l10,9 6-1 -10-9zM1034,228l9,9 7-1 -10-9zM1028,229l9,9 6-1 -9-9zM1022,231l9,9 6-2 -9-9zM1016,232l9,9 6-1 -9-9zM1009,234l10,9 6-2 -9-9zM1003,236l10,9 6-2 -10-9zM997,237l9,10 7-2 -10-9zM991,239l9,10 6-2 -9-10zM984,242l10,9 6-2 -9-10zM978,244l10,9 6-2 -10-9zM972,247l9,9 7-3 -10-9zM966,249l9,9 6-2 -9-9zM959,252l10,9 6-3 -9-9zM953,255l10,9 6-3 -10-9zM947,258l10,9 6-3 -10-9zM941,261l9,9 7-3 -10-9zM934,264l10,10 6-4 -9-9zM928,268l10,9 6-3 -10-10zM922,271l9,9 7-3 -10-9zM915,275l10,9 6-4 -9-9zM909,279l10,9 6-4 -10-9zM903,283l10,9 6-4 -10-9zM897,287l9,9 7-4 -10-9zM890,291l10,9 6-4 -9-9zM884,295l10,9 6-4 -10-9zM878,300l10,9 6-5 -10-9zM871,304l10,9 7-4 -10-9zM865,309l10,9 6-5 -10-9zM859,314l10,9 6-5 -10-9zM853,318l10,10 6-5 -10-9zM846,323l10,10 7-5 -10-10zM840,329l10,9 6-5 -10-10zM834,334l10,9 6-5 -10-9zM827,339l10,9 7-5 -10-9zM821,345l10,9 6-6 -10-9zM815,350l10,10 6-6 -10-9zM809,356l10,9 6-5 -10-10zM802,362l10,9 7-6 -10-9zM796,368l10,9 6-6 -10-9zM790,374l10,9 6-6 -10-9zM784,380l10,9 6-6 -10-9zM777,386l10,9 7-6 -10-9zM771,392l10,10 6-7 -10-9zM765,399l10,9 6-6 -10-10zM759,405l10,10 6-7 -10-9zM752,412l11,9 6-6 -10-10zM746,419l10,9 7-7 -11-9zM740,425l10,10 6-7 -10-9zM734,432l10,10 6-7 -10-10zM727,439l11,10 6-7 -10-10zM721,446l11,10 6-7 -11-10zM715,454l10,9 7-7 -11-10zM709,461l10,9 6-7 -10-9zM1086,233l9,9 6,0 -9-9zM1080,233l9,9 6,0 -9-9zM1074,233l9,10 6-1 -9-9zM1068,234l9,9 6,0 -9-10zM1062,234l9,10 6-1 -9-9zM1056,235l9,10 6-1 -9-10zM1050,236l9,9 6,0 -9-10zM1043,237l10,10 6-2 -9-9zM1037,238l10,10 6-1 -10-10zM1031,240l9,9 7-1 -10-10zM1025,241l9,10 6-2 -9-9zM1019,243l9,9 6-1 -9-10zM1013,245l9,9 6-2 -9-9zM1006,247l10,9 6-2 -9-9zM1000,249l10,9 6-2 -10-9zM994,251l9,9 7-2 -10-9zM988,253l9,10 6-3 -9-9zM981,256l10,9 6-2 -9-10zM975,258l10,10 6-3 -10-9zM969,261l10,10 6-3 -10-10zM963,264l9,9 7-2 -10-10zM957,267l9,10 6-4 -9-9zM950,270l10,10 6-3 -9-10zM944,274l10,9 6-3 -10-10zM938,277l9,9 7-3 -10-9zM931,280l10,10 6-4 -9-9zM925,284l10,10 6-4 -10-10zM919,288l10,9 6-3 -10-10zM913,292l9,9 7-4 -10-9zM906,296l10,9 6-4 -9-9zM900,300l10,10 6-5 -10-9zM894,304l10,10 6-4 -10-10zM888,309l9,9 7-4 -10-10zM881,313l10,10 6-5 -9-9zM875,318l10,10 6-5 -10-10zM869,323l10,9 6-4 -10-10zM863,328l9,9 7-5 -10-9zM856,333l10,9 6-5 -9-9zM850,338l10,9 6-5 -10-9zM844,343l10,10 6-6 -10-9zM837,348l10,10 7-5 -10-10zM831,354l10,9 6-5 -10-10zM825,360l10,9 6-6 -10-9zM819,365l10,10 6-6 -10-9zM812,371l11,9 6-5 -10-10zM806,377l10,9 7-6 -11-9zM800,383l10,9 6-6 -10-9zM794,389l10,9 6-6 -10-9zM787,395l11,10 6-7 -10-9zM781,402l10,9 7-6 -11-10zM775,408l10,9 6-6 -10-9zM769,415l10,9 6-7 -10-9zM763,421l10,10 6-7 -10-9zM756,428l11,9 6-6 -10-10zM750,435l10,9 7-7 -11-9zM744,442l10,9 6-7 -10-9zM738,449l10,9 6-7 -10-9zM732,456l10,9 6-7 -10-9zM725,463l11,9 6-7 -10-9zM719,470l11,9 6-7 -11-9zM1095,242l9,9 6,0 -9-9zM1089,242l9,10 6-1 -9-9zM1083,243l9,9 6,0 -9-10zM1077,243l9,10 6-1 -9-9zM1071,244l9,9 6,0 -9-10zM1065,245l9,9 6-1 -9-9zM1059,245l9,10 6-1 -9-9zM1053,247l9,9 6-1 -9-10zM1047,248l9,9 6-1 -9-9zM1040,249l10,10 6-2 -9-9zM1034,251l10,9 6-1 -10-10zM1028,252l10,10 6-2 -10-9zM1022,254l9,10 7-2 -10-10zM1016,256l9,10 6-2 -9-10zM1010,258l9,10 6-2 -9-10zM1003,260l10,10 6-2 -9-10zM997,263l10,9 6-2 -10-10zM991,265l10,10 6-3 -10-9zM985,268l9,9 7-2 -10-10zM979,271l9,9 6-3 -9-9zM972,273l10,10 6-3 -9-9zM966,277l10,9 6-3 -10-10zM960,280l10,9 6-3 -10-9zM954,283l9,10 7-4 -10-9zM947,286l10,10 6-3 -9-10zM941,290l10,10 6-4 -10-10zM935,294l10,9 6-3 -10-10zM929,297l9,10 7-4 -10-9zM922,301l10,10 6-4 -9-10zM916,305l10,10 6-4 -10-10zM910,310l10,9 6-4 -10-10zM904,314l10,9 6-4 -10-9zM897,318l10,10 7-5 -10-9zM891,323l10,9 6-4 -10-10zM885,328l10,9 6-5 -10-9zM879,332l10,10 6-5 -10-9zM872,337l10,10 7-5 -10-10zM866,342l10,10 6-5 -10-10zM860,347l10,10 6-5 -10-10zM854,353l10,9 6-5 -10-10zM847,358l11,10 6-6 -10-9zM841,363l10,10 7-5 -11-10zM835,369l10,10 6-6 -10-10zM829,375l10,9 6-5 -10-10zM823,380l10,10 6-6 -10-9zM816,386l10,10 7-6 -10-10zM810,392l10,10 6-6 -10-10zM804,398l10,10 6-6 -10-10zM798,405l10,9 6-6 -10-10zM791,411l11,10 6-7 -10-9zM785,417l10,10 7-6 -11-10zM779,424l10,9 6-6 -10-10zM773,431l10,9 6-7 -10-9zM767,437l10,10 6-7 -10-9zM760,444l11,10 6-7 -10-10zM754,451l11,9 6-6 -11-10zM748,458l10,9 7-7 -11-9zM742,465l10,10 6-8 -10-9zM736,472l10,10 6-7 -10-10zM730,479l10,10 6-7 -10-10zM1104,251l9,10 6,0 -9-10zM1098,252l9,9 6,0 -9-10zM1092,252l9,10 6-1 -9-9zM1086,253l9,9 6,0 -9-10zM1080,253l9,10 6-1 -9-9zM1074,254l9,10 6-1 -9-10zM1068,255l9,10 6-1 -9-10zM1062,256l9,10 6-1 -9-10zM1056,257l9,10 6-1 -9-10zM1050,259l9,9 6-1 -9-10zM1044,260l9,10 6-2 -9-9zM1038,262l9,9 6-1 -9-10zM1031,264l10,9 6-2 -9-9zM1025,266l10,9 6-2 -10-9zM1019,268l10,9 6-2 -10-9zM1013,270l9,10 7-3 -10-9zM1007,272l9,10 6-2 -9-10zM1001,275l9,9 6-2 -9-10zM994,277l10,10 6-3 -9-9zM988,280l10,10 6-3 -10-10zM982,283l10,10 6-3 -10-10zM976,286l9,10 7-3 -10-10zM970,289l9,10 6-3 -9-10zM963,293l10,9 6-3 -9-10zM957,296l10,10 6-4 -10-9zM951,300l10,9 6-3 -10-10zM945,303l9,10 7-4 -10-9zM938,307l10,10 6-4 -9-10zM932,311l10,10 6-4 -10-10zM926,315l10,10 6-4 -10-10zM920,319l10,10 6-4 -10-10zM914,323l9,10 7-4 -10-10zM907,328l10,10 6-5 -9-10zM901,332l10,10 6-4 -10-10zM895,337l10,10 6-5 -10-10zM889,342l10,10 6-5 -10-10zM882,347l10,10 7-5 -10-10zM876,352l10,10 6-5 -10-10zM870,357l10,10 6-5 -10-10zM864,362l10,10 6-5 -10-10zM858,368l10,9 6-5 -10-10zM851,373l10,10 7-6 -10-9zM845,379l10,9 6-5 -10-10zM839,384l10,10 6-6 -10-9zM833,390l10,10 6-6 -10-10zM826,396l11,10 6-6 -10-10zM820,402l10,10 7-6 -11-10zM814,408l10,10 6-6 -10-10zM808,414l10,10 6-6 -10-10zM802,421l10,9 6-6 -10-10zM795,427l11,10 6-7 -10-9zM789,433l10,10 7-6 -11-10zM783,440l10,10 6-7 -10-10zM777,447l10,9 6-6 -10-10zM771,454l10,9 6-7 -10-9zM765,460l10,10 6-7 -10-9zM758,467l11,10 6-7 -10-10zM752,475l10,9 7-7 -11-10zM746,482l10,9 6-7 -10-9zM740,489l10,10 6-8 -10-9zM1113,261l10,10 5,0 -9-10zM1107,261l10,10 6,0 -10-10zM1101,262l10,9 6,0 -10-10zM1095,262l10,10 6-1 -10-9zM1089,263l10,10 6-1 -10-10zM1083,264l10,9 6,0 -10-10zM1077,265l10,9 6-1 -10-9zM1071,266l9,9 7-1 -10-9zM1065,267l9,10 6-2 -9-9zM1059,268l9,10 6-1 -9-10zM1053,270l9,10 6-2 -9-10zM1047,271l9,10 6-1 -9-10zM1041,273l9,10 6-2 -9-10zM1035,275l9,10 6-2 -9-10zM1029,277l9,10 6-2 -9-10zM1022,280l10,9 6-2 -9-10zM1016,282l10,10 6-3 -10-9zM1010,284l10,10 6-2 -10-10zM1004,287l9,10 7-3 -10-10zM998,290l9,10 6-3 -9-10zM992,293l9,10 6-3 -9-10zM985,296l10,10 6-3 -9-10zM979,299l10,10 6-3 -10-10zM973,302l10,10 6-3 -10-10zM967,306l9,10 7-4 -10-10zM961,309l9,10 6-3 -9-10zM954,313l10,10 6-4 -9-10zM948,317l10,10 6-4 -10-10zM942,321l10,10 6-4 -10-10zM936,325l10,10 6-4 -10-10zM930,329l9,10 7-4 -10-10zM923,333l10,10 6-4 -9-10zM917,338l10,10 6-5 -10-10zM911,342l10,10 6-4 -10-10zM905,347l10,10 6-5 -10-10zM899,352l9,10 7-5 -10-10zM892,357l10,9 6-4 -9-10zM886,362l10,9 6-5 -10-9zM880,367l10,10 6-6 -10-9zM874,372l10,10 6-5 -10-10zM868,377l9,10 7-5 -10-10zM861,383l10,10 6-6 -9-10zM855,388l10,10 6-5 -10-10zM849,394l10,10 6-6 -10-10zM843,400l10,10 6-6 -10-10zM837,406l10,10 6-6 -10-10zM830,412l10,10 7-6 -10-10zM824,418l10,10 6-6 -10-10zM818,424l10,10 6-6 -10-10zM812,430l10,10 6-6 -10-10zM806,437l10,10 6-7 -10-10zM799,443l11,10 6-6 -10-10zM793,450l10,10 7-7 -11-10zM787,456l10,10 6-6 -10-10zM781,463l10,10 6-7 -10-10zM775,470l10,10 6-7 -10-10zM769,477l10,10 6-7 -10-10zM762,484l11,10 6-7 -10-10zM756,491l11,10 6-7 -11-10zM750,499l10,9 7-7 -11-10zM1123,271l9,10 5-1 -9-9zM1117,271l9,10 6,0 -9-10zM1111,271l9,10 6,0 -9-10zM1105,272l9,10 6-1 -9-10zM1099,273l9,9 6,0 -9-10zM1093,273l9,10 6-1 -9-9zM1087,274l9,10 6-1 -9-10zM1080,275l10,10 6-1 -9-10zM1074,277l10,10 6-2 -10-10zM1068,278l10,10 6-1 -10-10zM1062,280l10,10 6-2 -10-10zM1056,281l10,10 6-1 -10-10zM1050,283l9,10 7-2 -10-10zM1044,285l9,10 6-2 -9-10zM1038,287l9,10 6-2 -9-10zM1032,289l9,10 6-2 -9-10zM1026,292l9,10 6-3 -9-10zM1020,294l9,10 6-2 -9-10zM1013,297l10,10 6-3 -9-10zM1007,300l10,10 6-3 -10-10zM1001,303l10,10 6-3 -10-10zM995,306l9,10 7-3 -10-10zM989,309l9,10 6-3 -9-10zM983,312l9,10 6-3 -9-10zM976,316l10,10 6-4 -9-10zM970,319l10,10 6-3 -10-10zM964,323l10,10 6-4 -10-10zM958,327l10,10 6-4 -10-10zM952,331l9,10 7-4 -10-10zM946,335l9,10 6-4 -9-10zM939,339l10,10 6-4 -9-10zM933,343l10,10 6-4 -10-10zM927,348l10,10 6-5 -10-10zM921,352l10,10 6-4 -10-10zM915,357l9,10 7-5 -10-10zM908,362l10,10 6-5 -9-10zM902,366l10,10 6-4 -10-10zM896,371l10,10 6-5 -10-10zM890,377l10,10 6-6 -10-10zM884,382l10,10 6-5 -10-10zM877,387l10,10 7-5 -10-10zM871,393l10,10 6-6 -10-10zM865,398l10,10 6-5 -10-10zM859,404l10,10 6-6 -10-10zM853,410l10,10 6-6 -10-10zM847,416l10,10 6-6 -10-10zM840,422l10,10 7-6 -10-10zM834,428l10,10 6-6 -10-10zM828,434l10,10 6-6 -10-10zM822,440l10,10 6-6 -10-10zM816,447l10,10 6-7 -10-10zM810,453l10,10 6-6 -10-10zM803,460l11,10 6-7 -10-10zM797,466l10,10 7-6 -11-10zM791,473l10,10 6-7 -10-10zM785,480l10,10 6-7 -10-10zM779,487l10,10 6-7 -10-10zM773,494l10,10 6-7 -10-10zM767,501l10,10 6-7 -10-10zM760,508l11,10 6-7 -10-10zM1132,281l9,9 5,0 -9-10zM1126,281l9,10 6-1 -9-9zM1120,281l9,10 6,0 -9-10zM1114,282l9,10 6-1 -9-10zM1108,282l9,10 6,0 -9-10zM1102,283l9,10 6-1 -9-10zM1096,284l9,10 6-1 -9-10zM1090,285l9,10 6-1 -9-10zM1084,287l9,10 6-2 -9-10zM1078,288l9,10 6-1 -9-10zM1072,290l9,10 6-2 -9-10zM1066,291l9,10 6-1 -9-10zM1059,293l10,10 6-2 -9-10zM1053,295l10,10 6-2 -10-10zM1047,297l10,10 6-2 -10-10zM1041,299l10,10 6-2 -10-10zM1035,302l9,10 7-3 -10-10zM1029,304l9,10 6-2 -9-10zM1023,307l9,10 6-3 -9-10zM1017,310l9,10 6-3 -9-10zM1011,313l9,10 6-3 -9-10zM1004,316l10,10 6-3 -9-10zM998,319l10,10 6-3 -10-10zM992,322l10,10 6-3 -10-10zM986,326l10,10 6-4 -10-10zM980,329l10,10 6-3 -10-10zM974,333l9,10 7-4 -10-10zM968,337l9,10 6-4 -9-10zM961,341l10,10 6-4 -9-10zM955,345l10,10 6-4 -10-10zM949,349l10,10 6-4 -10-10zM943,353l10,10 6-4 -10-10zM937,358l10,10 6-5 -10-10zM931,362l9,10 7-4 -10-10zM924,367l10,10 6-5 -9-10zM918,372l10,10 6-5 -10-10zM912,376l10,11 6-5 -10-10zM906,381l10,11 6-5 -10-11zM900,387l10,10 6-5 -10-11zM894,392l9,10 7-5 -10-10zM887,397l10,10 6-5 -9-10zM881,403l10,10 6-6 -10-10zM875,408l10,10 6-5 -10-10zM869,414l10,10 6-6 -10-10zM863,420l10,10 6-6 -10-10zM857,426l10,10 6-6 -10-10zM850,432l10,10 7-6 -10-10zM844,438l10,10 6-6 -10-10zM838,444l10,10 6-6 -10-10zM832,450l10,10 6-6 -10-10zM826,457l10,10 6-7 -10-10zM820,463l10,10 6-6 -10-10zM814,470l10,10 6-7 -10-10zM807,476l11,10 6-6 -10-10zM801,483l10,10 7-7 -11-10zM795,490l10,10 6-7 -10-10zM789,497l10,10 6-7 -10-10zM783,504l10,10 6-7 -10-10zM777,511l10,10 6-7 -10-10zM771,518l10,10 6-7 -10-10zM1141,290l9,11 5-1 -9-10zM1135,291l9,10 6,0 -9-11zM1129,291l9,10 6,0 -9-10zM1123,292l9,10 6-1 -9-10zM1117,292l9,10 6,0 -9-10zM1111,293l9,10 6-1 -9-10zM1105,294l9,10 6-1 -9-10zM1099,295l9,10 6-1 -9-10zM1093,297l9,10 6-2 -9-10zM1087,298l9,10 6-1 -9-10zM1081,300l9,10 6-2 -9-10zM1075,301l9,10 6-1 -9-10zM1069,303l9,10 6-2 -9-10zM1063,305l9,10 6-2 -9-10zM1057,307l9,10 6-2 -9-10zM1051,309l9,11 6-3 -9-10zM1044,312l10,10 6-2 -9-11zM1038,314l10,11 6-3 -10-10zM1032,317l10,10 6-2 -10-11zM1026,320l10,10 6-3 -10-10zM1020,323l10,10 6-3 -10-10zM1014,326l9,10 7-3 -10-10zM1008,329l9,10 6-3 -9-10zM1002,332l9,10 6-3 -9-10zM996,336l9,10 6-4 -9-10zM990,339l9,10 6-3 -9-10zM983,343l10,10 6-4 -9-10zM977,347l10,10 6-4 -10-10zM971,351l10,10 6-4 -10-10zM965,355l10,10 6-4 -10-10zM959,359l10,10 6-4 -10-10zM953,363l9,11 7-5 -10-10zM947,368l9,10 6-4 -9-11zM940,372l10,10 6-4 -9-10zM934,377l10,10 6-5 -10-10zM928,382l10,10 6-5 -10-10zM922,387l10,10 6-5 -10-10zM916,392l10,10 6-5 -10-10zM910,397l9,10 7-5 -10-10zM903,402l10,10 6-5 -9-10zM897,407l10,11 6-6 -10-10zM891,413l10,10 6-5 -10-11zM885,418l10,11 6-6 -10-10zM879,424l10,10 6-5 -10-11zM873,430l10,10 6-6 -10-10zM867,436l10,10 6-6 -10-10zM860,442l10,10 7-6 -10-10zM854,448l10,10 6-6 -10-10zM848,454l10,10 6-6 -10-10zM842,460l10,11 6-7 -10-10zM836,467l10,10 6-6 -10-11zM830,473l10,10 6-6 -10-10zM824,480l10,10 6-7 -10-10zM818,486l10,11 6-7 -10-10zM811,493l11,10 6-6 -10-11zM805,500l11,10 6-7 -11-10zM799,507l10,10 7-7 -11-10zM793,514l10,10 6-7 -10-10zM787,521l10,10 6-7 -10-10zM781,528l10,10 6-7 -10-10z"/></g>
<path d="M94.6,672.4 L434.2,718.3 L554.4,622.8 L255.1,589.8 Z" fill="#ff0" stroke="#111" stroke-width="0.9"/>
<path d="M171.9,632.6L172.2,634L172.8,636L173.3,637.3L174.1,639.2L174.8,640.7L175.7,642.4L176.7,644.2L177.5,645.6L178.7,647.4L179.9,649.1L181,650.6L182.3,652.3L183.9,654.1L185.2,655.7L186.6,657.2L188.1,658.8L190,660.6L191.9,662.3L193.7,664L195.5,665.5L197.3,667.1L199.3,668.7L201.3,670.2L203.5,671.8L205.7,673.5L208,675.1L210.4,676.7L213,678.4L215.6,680.1L218.4,681.8L221.3,683.5L224.2,685.2L226.9,686.7L229.6,688.1L232.6,689.7L236.2,691.5L236.2,691.5M205.2,615.5L204.5,617.1L203.9,618.7L203.5,620.5L203.1,622.4L202.9,624.2L202.9,625.6L202.9,627.5L203.1,629.2L203.4,630.8L203.8,632.7L204.2,634.1L204.9,636.1L205.5,637.5L206.3,639.3L207.2,640.9L208,642.4L209.3,644.4L210.4,645.9L211.4,647.3L213,649.2L214.5,650.9L215.8,652.4L217.3,653.9L219,655.6L220.9,657.4L222.9,659.1L224.9,660.8L226.8,662.4L228.9,663.9L231.1,665.5L233.4,667.2L235.8,668.8L238.3,670.5L240.9,672.1L243.4,673.6L246,675.1L248.6,676.6L251.5,678.2L254.9,680L258.2,681.6L261,683L264.3,684.6L268.3,686.4L271.3,687.7L275.3,689.4L279,690.9L282.9,692.4L287,694L291.5,695.6L295.2,696.9L300.3,698.6L305,700.2L308.9,701.4M286.9,593.3L282.2,594.7L277.9,596.1L274,597.6L269.1,599.6L264.8,601.6L261,603.7L257.6,605.9L254.6,608.1L252.6,609.7L250.9,611.5L248.8,613.8L247.5,615.5L246.4,617.3L245.5,619.1L244.8,621L244.4,622.6L244.1,624.1L243.9,626L243.9,628L244,629.3L244.4,631.8L244.8,633.2L245.5,635.2L246.1,636.6L247,638.5L248,640.1L248.9,641.5L250.3,643.5L251.5,645.1L252.8,646.6L254.3,648.2L256.1,650L258,651.8L259.8,653.4L261.7,655L263.7,656.5L265.8,658.1L268.1,659.7L270.6,661.4L273.2,663L275.9,664.7L278.4,666.1L281,667.6L283.8,669.1L287.3,670.8L291.1,672.7L294.9,674.4L297.9,675.7L302,677.4L305.4,678.8L309.6,680.5L313.3,681.8L318.2,683.5L321.8,684.8L326.5,686.3L331.6,687.8L336.9,689.3L342.2,690.8L347.6,692.2L353.1,693.6L358.7,694.9L364.4,696.1L370.2,697.3L378.1,698.8L384.3,699.8L392.3,701.1L400.6,702.3L409,703.3L417.6,704.3L424.2,704.9L432.7,705.6L439.9,706L446.7,706.4L449,706.5M244.2,630.6L244.2,630.6M289.2,671.8L289.2,671.8M348.6,600.1L342.7,601L336.8,602L330.9,603.3L325.6,604.6L320.8,606L316.6,607.5L312.8,609L308.4,611L304.7,613.2L301.5,615.4L299.5,617.1L297.5,619.2L296,621.2L294.9,623L294.1,624.9L293.7,626.8L293.5,628.3L293.4,630L293.7,632L294,633.5L294.7,635.4L295.4,636.9L296.5,638.9L297.4,640.3L299.1,642.5L300.4,644L302.2,645.7L304.1,647.5L306.1,649.2L308.3,650.8L310.5,652.4L312.8,653.9L315.3,655.4L317.8,656.9L320.5,658.4L324,660.2L327.2,661.7L330,663L334.2,664.8L337.4,666.1L341.9,667.8L345.1,668.9L350,670.6L354.9,672.1L358.9,673.3L363.4,674.6L368.7,676L374.2,677.3L381.4,678.9L387.1,680.1L392.8,681.2L400.7,682.5L408.7,683.6L416.9,684.7L425.4,685.6L432.1,686.1L440.6,686.7L447.4,687L454.3,687.2L461.3,687.3L468.2,687.3L473.3,687.2L473.3,687.2M519.8,619L523.3,620.4L526.9,621.8L530.3,623.3L533,624.5L536.7,626.3L539.5,627.8L542.1,629.2L544.6,630.6L544.6,630.6M332.8,602.9L332.7,602.9M298,641L298,641M375.9,630.4L378.6,628.3L381.9,626.6L386.8,624.9L391.3,623.8L396.6,623L401.9,622.4L409.2,622L415.9,622L422.2,622.3L428.2,622.7L435.8,623.6L441.3,624.5L447.4,625.6L453.1,626.9L457.4,628.1L461.1,629.2L465.5,630.8L468.6,632.1L472.3,633.8L474.9,635.3L477.2,636.8L479.3,638.6L480.9,640.2L481.9,641.7L482.8,643.8L482.8,645.9L482,647.8L480.5,649.7L477.2,652L473.6,653.6L469,655.1L464.8,656.1L459,657L453.7,657.5L446.5,657.8L441.1,657.9L432.9,657.5L426.6,657L418.7,656L413.1,655.1L406,653.6L401,652.3L397.2,651.2L392.9,649.7L389,648.1L385.8,646.6L383.2,645.3L380.8,643.8L378.6,642.2L376.7,640.4L375.2,638.5L374.5,637.1L374,635L374.3,633.1L375.2,631.2L375.9,630.4" fill="none" stroke="#5fcc10" stroke-width="1"/>
<path d="M78,440.4L250.2,386.8" stroke="#222" stroke-width="0.9" fill="none"/>
<path d="M250.2,386.8L568.6,409.3" stroke="#222" stroke-width="0.9" fill="none"/>
<path d="M255.1,589.8L250.2,386.8" stroke="#222" stroke-width="0.9" fill="none"/>
<path d="M554.4,622.8L568.6,409.3" stroke="#222" stroke-width="0.9" fill="none"/>
<path d="M94.6,672.4L78,440.4" stroke="#222" stroke-width="0.9" fill="none"/>
<g stroke="#001000" stroke-width="1.2" stroke-linejoin="round" transform="scale(0.5)"><path fill="#14ec28" d="M497,874l11-4 5-1 -10,4zM491,875l11-3 6-2 -11,4zM486,877l10-4 6-1 -11,3zM480,878l11-3 5-2 -10,4zM474,880l11-3 6-2 -11,3zM469,882l10-3 6-2 -11,3zM463,885l11-4 5-2 -10,3zM458,887l10-4 6-2 -11,4zM452,890l10-4 6-3 -10,4zM446,892l11-4 5-2 -10,4zM441,895l10-4 6-3 -11,4zM435,898l11-4 5-3 -10,4zM429,901l11-4 6-3 -11,4zM424,905l11-5 5-3 -11,4zM418,908l11-4 6-4 -11,5zM413,912l10-5 6-3 -11,4zM407,916l11-5 5-4 -10,5zM402,920l10-5 6-4 -11,5zM396,924l11-5 5-4 -10,5zM391,928l10-5 6-4 -11,5z"/><path fill="#26f43c" d="M385,932l11-4 5-5 -10,5zM379,937l11-5 6-4 -11,4zM374,941l11-4 5-5 -11,5zM368,946l11-5 6-4 -11,4zM363,951l11-5 5-5 -11,5zM357,956l11-5 6-5 -11,5zM352,961l11-5 5-5 -11,5zM347,967l10-5 6-6 -11,5zM341,972l11-5 5-5 -10,5zM336,978l10-5 6-6 -11,5zM330,983l11-5 5-5 -10,5zM325,989l11-5 5-6 -11,5z"/><path fill="#52fa66" d="M319,995l11-5 6-6 -11,5zM314,1001l11-5 5-6 -11,5zM309,1007l10-5 6-6 -11,5zM303,1013l11-5 5-6 -10,5zM298,1020l11-6 5-6 -11,5zM293,1026l10-5 6-7 -11,6zM287,1033l11-6 5-6 -10,5zM282,1039l11-5 5-7 -11,6zM277,1046l11-5 5-7 -11,5zM271,1053l11-5 6-7 -11,5zM266,1060l11-6 5-6 -11,5zM261,1067l11-6 5-7 -11,6zM255,1074l11-5 6-8 -11,6zM250,1081l11-5 5-7 -11,5zM245,1089l11-6 5-7 -11,5zM240,1096l11-6 5-7 -11,6zM235,1103l11-5 5-8 -11,6zM229,1111l11-6 6-7 -11,5zM224,1119l11-6 5-8 -11,6zM219,1126l11-6 5-7 -11,6zM214,1134l11-6 5-8 -11,6zM209,1142l11-6 5-8 -11,6zM204,1150l11-6 5-8 -11,6zM198,1157l12-6 5-7 -11,6zM193,1165l11-6 6-8 -12,6zM188,1173l11-6 5-8 -11,6zM183,1181l11-6 5-8 -11,6zM178,1190l11-7 5-8 -11,6z"/><path fill="#14ec28" d="M508,870l10-3 6-1 -11,3zM502,872l10-4 6-1 -10,3zM496,873l11-4 5-1 -10,4zM491,875l10-4 6-2 -11,4zM485,877l10-4 6-2 -10,4zM479,879l11-4 5-2 -10,4zM474,881l10-4 6-2 -11,4zM468,883l11-4 5-2 -10,4zM462,886l11-4 6-3 -11,4zM457,888l10-4 6-2 -11,4zM451,891l11-4 5-3 -10,4zM446,894l10-4 6-3 -11,4zM440,897l11-4 5-3 -10,4zM435,900l10-4 6-3 -11,4zM429,904l11-4 5-4 -10,4zM423,907l11-4 6-3 -11,4zM418,911l10-4 6-4 -11,4zM412,915l11-4 5-4 -10,4zM407,919l10-4 6-4 -11,4zM401,923l11-4 5-4 -10,4zM396,928l10-5 6-4 -11,4zM390,932l11-4 5-5 -10,5z"/><path fill="#26f43c" d="M385,937l10-5 6-4 -11,4zM379,941l11-4 5-5 -10,5zM374,946l10-4 6-5 -11,4zM368,951l11-4 5-5 -10,4zM363,956l11-4 5-5 -11,4zM357,962l11-5 6-5 -11,4zM352,967l11-5 5-5 -11,5zM346,973l11-5 6-6 -11,5zM341,978l11-5 5-5 -11,5zM336,984l11-5 5-6 -11,5zM330,990l11-5 6-6 -11,5zM325,996l11-5 5-6 -11,5z"/><path fill="#52fa66" d="M319,1002l11-5 6-6 -11,5zM314,1008l11-5 5-6 -11,5zM309,1014l11-5 5-6 -11,5zM303,1021l11-5 6-7 -11,5zM298,1027l11-5 5-6 -11,5zM293,1034l11-5 5-7 -11,5zM288,1041l10-6 6-6 -11,5zM282,1048l11-6 5-7 -10,6zM277,1054l11-5 5-7 -11,6zM272,1061l11-5 5-7 -11,5zM266,1069l11-6 6-7 -11,5zM261,1076l11-6 5-7 -11,6zM256,1083l11-6 5-7 -11,6zM251,1090l11-5 5-8 -11,6zM246,1098l11-6 5-7 -11,5zM240,1105l11-6 6-7 -11,6zM235,1113l11-6 5-8 -11,6zM230,1120l11-5 5-8 -11,6zM225,1128l11-6 5-7 -11,5zM220,1136l11-6 5-8 -11,6zM215,1144l11-6 5-8 -11,6zM210,1151l11-5 5-8 -11,6zM204,1159l11-6 6-7 -11,5zM199,1167l11-6 5-8 -11,6zM194,1175l11-6 5-8 -11,6zM189,1183l11-6 5-8 -11,6z"/><path fill="#14ec28" d="M518,867l10-4 6-1 -10,4zM512,868l11-3 5-2 -10,4zM507,869l10-3 6-1 -11,3zM501,871l11-3 5-2 -10,3zM495,873l11-4 6-1 -11,3zM490,875l10-4 6-2 -11,4zM484,877l11-4 5-2 -10,4zM479,879l10-4 6-2 -11,4zM473,882l11-4 5-3 -10,4zM467,884l11-4 6-2 -11,4zM462,887l10-4 6-3 -11,4zM456,890l11-4 5-3 -10,4zM451,893l10-4 6-3 -11,4zM445,896l11-4 5-3 -10,4zM440,900l10-4 6-4 -11,4zM434,903l11-4 5-3 -10,4zM428,907l11-4 6-4 -11,4zM423,911l11-4 5-4 -11,4zM417,915l11-5 6-3 -11,4zM412,919l11-4 5-5 -11,5zM406,923l11-4 6-4 -11,4zM401,928l11-5 5-4 -11,4zM395,932l11-4 6-5 -11,5zM390,937l11-5 5-4 -11,4z"/><path fill="#26f43c" d="M384,942l11-5 6-5 -11,5zM379,947l11-5 5-5 -11,5zM374,952l10-5 6-5 -11,5zM368,957l11-5 5-5 -10,5zM363,962l11-4 5-6 -11,5zM357,968l11-5 6-5 -11,4zM352,973l11-5 5-5 -11,5zM347,979l10-5 6-6 -11,5zM341,985l11-5 5-6 -10,5zM336,991l11-5 5-6 -11,5zM330,997l11-5 6-6 -11,5z"/><path fill="#52fa66" d="M325,1003l11-5 5-6 -11,5zM320,1009l11-5 5-6 -11,5zM314,1016l11-5 6-7 -11,5zM309,1022l11-5 5-6 -11,5zM304,1029l11-6 5-6 -11,5zM298,1035l11-5 6-7 -11,6zM293,1042l11-5 5-7 -11,5zM288,1049l11-5 5-7 -11,5zM283,1056l11-5 5-7 -11,5zM277,1063l11-5 6-7 -11,5zM272,1070l11-5 5-7 -11,5zM267,1077l11-5 5-7 -11,5zM262,1085l11-6 5-7 -11,5zM257,1092l11-6 5-7 -11,6zM251,1099l11-5 6-8 -11,6zM246,1107l11-6 5-7 -11,5zM241,1115l11-6 5-8 -11,6zM236,1122l11-5 5-8 -11,6zM231,1130l11-6 5-7 -11,5zM226,1138l11-6 5-8 -11,6zM221,1146l11-6 5-8 -11,6zM215,1153l12-5 5-8 -11,6zM210,1161l11-5 6-8 -12,5zM205,1169l11-6 5-7 -11,5zM200,1177l11-6 5-8 -11,6z"/><path fill="#14ec28" d="M528,863l11-3 5-1 -10,3zM523,865l10-4 6-1 -11,3zM517,866l11-3 5-2 -10,4zM512,868l10-4 6-1 -11,3zM506,869l10-3 6-2 -10,4zM500,871l11-3 5-2 -10,3zM495,873l10-3 6-2 -11,3zM489,875l11-3 5-2 -10,3zM484,878l10-4 6-2 -11,3zM478,880l11-3 5-3 -10,4zM472,883l11-4 6-2 -11,3zM467,886l11-4 5-3 -11,4zM461,889l11-4 6-3 -11,4zM456,892l10-4 6-3 -11,4zM450,896l11-4 5-4 -10,4zM445,899l10-4 6-3 -11,4zM439,903l11-4 5-4 -10,4zM434,907l10-5 6-3 -11,4zM428,910l11-4 5-4 -10,5zM423,915l10-5 6-4 -11,4zM417,919l11-4 5-5 -10,5zM412,923l10-4 6-4 -11,4zM406,928l11-5 5-4 -10,4zM401,932l11-4 5-5 -11,5zM395,937l11-4 6-5 -11,4zM390,942l11-4 5-5 -11,4z"/><path fill="#26f43c" d="M384,947l11-4 6-5 -11,4zM379,952l11-4 5-5 -11,4zM374,958l10-5 6-5 -11,4zM368,963l11-5 5-5 -10,5zM363,968l11-4 5-6 -11,5zM357,974l11-5 6-5 -11,4zM352,980l11-5 5-6 -11,5zM347,986l11-5 5-6 -11,5zM341,992l11-5 6-6 -11,5zM336,998l11-5 5-6 -11,5zM331,1004l11-5 5-6 -11,5z"/><path fill="#52fa66" d="M325,1011l11-5 6-7 -11,5zM320,1017l11-5 5-6 -11,5zM315,1023l11-5 5-6 -11,5zM309,1030l11-5 6-7 -11,5zM304,1037l11-5 5-7 -11,5zM299,1044l11-5 5-7 -11,5zM294,1051l11-6 5-6 -11,5zM288,1058l12-6 5-7 -11,6zM283,1065l11-6 6-7 -12,6zM278,1072l11-5 5-8 -11,6zM273,1079l11-5 5-7 -11,5zM268,1086l11-5 5-7 -11,5zM262,1094l12-6 5-7 -11,5zM257,1101l11-5 6-8 -12,6zM252,1109l11-6 5-7 -11,5zM247,1117l11-6 5-8 -11,6zM242,1124l11-5 5-8 -11,6zM237,1132l11-6 5-7 -11,5zM232,1140l11-6 5-8 -11,6zM227,1148l11-6 5-8 -11,6zM221,1156l12-6 5-8 -11,6zM216,1163l12-5 5-8 -12,6zM211,1171l12-5 5-8 -12,5z"/><path fill="#14ec28" d="M539,860l10-3 6-1 -11,3zM533,861l11-3 5-1 -10,3zM528,863l10-3 6-2 -11,3zM522,864l11-3 5-1 -10,3zM516,866l11-3 6-2 -11,3zM511,868l10-4 6-1 -11,3zM505,870l11-4 5-2 -10,4zM500,872l10-4 6-2 -11,4zM494,874l11-3 5-3 -10,4zM489,877l10-4 6-2 -11,3zM483,879l11-3 5-3 -10,4zM478,882l10-3 6-3 -11,3zM472,885l11-4 5-2 -10,3zM466,888l11-3 6-4 -11,4zM461,892l11-4 5-3 -11,3zM455,895l11-4 6-3 -11,4zM450,899l11-4 5-4 -11,4zM444,902l11-4 6-3 -11,4zM439,906l11-4 5-4 -11,4zM433,910l11-4 6-4 -11,4zM428,915l11-5 5-4 -11,4zM422,919l11-4 6-5 -11,5zM417,923l11-4 5-4 -11,4zM412,928l10-4 6-5 -11,4zM406,933l11-5 5-4 -10,4zM401,938l11-5 5-5 -11,5zM395,943l11-5 6-5 -11,5zM390,948l11-5 5-5 -11,5z"/><path fill="#26f43c" d="M384,953l11-5 6-5 -11,5zM379,958l11-4 5-6 -11,5zM374,964l11-5 5-5 -11,4zM368,969l11-4 6-6 -11,5zM363,975l11-5 5-5 -11,4zM358,981l11-5 5-6 -11,5zM352,987l11-5 6-6 -11,5zM347,993l11-5 5-6 -11,5zM342,999l11-5 5-6 -11,5zM336,1006l11-5 6-7 -11,5z"/><path fill="#52fa66" d="M331,1012l11-5 5-6 -11,5zM326,1018l11-5 5-6 -11,5zM320,1025l12-5 5-7 -11,5zM315,1032l11-5 6-7 -12,5zM310,1039l11-6 5-6 -11,5zM305,1045l11-5 5-7 -11,6zM300,1052l11-5 5-7 -11,5zM294,1059l11-5 6-7 -11,5zM289,1067l11-6 5-7 -11,5zM284,1074l11-5 5-8 -11,6zM279,1081l11-5 5-7 -11,5zM274,1088l11-5 5-7 -11,5zM268,1096l12-5 5-8 -11,5zM263,1103l11-5 6-7 -12,5zM258,1111l11-5 5-8 -11,5zM253,1119l11-6 5-7 -11,5zM248,1126l11-5 5-8 -11,6zM243,1134l11-5 5-8 -11,5zM238,1142l11-6 5-7 -11,5zM233,1150l11-6 5-8 -11,6zM228,1158l11-6 5-8 -11,6zM223,1166l11-6 5-8 -11,6z"/><path fill="#14ec28" d="M549,857l11-3 5-1 -10,3zM544,858l10-3 6-1 -11,3zM538,860l11-4 5-1 -10,3zM533,861l10-3 6-2 -11,4z"/><path fill="#0ce01e" d="M527,863l10-4 6-1 -10,3zM521,864l11-3 5-2 -10,4zM516,866l10-3 6-2 -11,3zM510,868l11-3 5-2 -10,3zM505,871l10-4 6-2 -11,3zM499,873l11-3 5-3 -10,4z"/><path fill="#14ec28" d="M494,876l10-4 6-2 -11,3zM488,879l11-4 5-3 -10,4zM483,881l10-3 6-3 -11,4zM477,885l11-4 5-3 -10,3zM472,888l10-4 6-3 -11,4zM466,891l11-4 5-3 -10,4zM461,895l10-4 6-4 -11,4zM455,898l11-3 5-4 -10,4zM450,902l10-4 6-3 -11,3zM444,906l11-4 5-4 -10,4zM439,910l11-4 5-4 -11,4zM433,915l11-4 6-5 -11,4zM428,919l11-4 5-4 -11,4zM422,924l11-4 6-5 -11,4zM417,928l11-4 5-4 -11,4zM412,933l10-4 6-5 -11,4zM406,938l11-4 5-5 -10,4zM401,943l11-4 5-5 -11,4zM395,948l11-4 6-5 -11,4zM390,954l11-5 5-5 -11,4z"/><path fill="#26f43c" d="M385,959l11-4 5-6 -11,5zM379,965l11-5 6-5 -11,4zM374,970l11-4 5-6 -11,5zM369,976l11-4 5-6 -11,4zM363,982l11-4 6-6 -11,4zM358,988l11-4 5-6 -11,4zM353,994l11-4 5-6 -11,4zM347,1001l11-5 6-6 -11,4zM342,1007l11-5 5-6 -11,5zM337,1013l11-4 5-7 -11,5z"/><path fill="#52fa66" d="M332,1020l11-5 5-6 -11,4zM326,1027l11-5 6-7 -11,5zM321,1033l11-4 5-7 -11,5zM316,1040l11-5 5-6 -11,4zM311,1047l11-5 5-7 -11,5zM305,1054l11-5 6-7 -11,5zM300,1061l11-5 5-7 -11,5zM295,1069l11-6 5-7 -11,5zM290,1076l11-5 5-8 -11,6zM285,1083l11-5 5-7 -11,5zM280,1091l11-6 5-7 -11,5zM274,1098l12-5 5-8 -11,6zM269,1106l11-6 6-7 -12,5zM264,1113l11-5 5-8 -11,6zM259,1121l11-5 5-8 -11,5zM254,1129l11-6 5-7 -11,5zM249,1136l11-5 5-8 -11,6zM244,1144l11-5 5-8 -11,5zM239,1152l11-5 5-8 -11,5zM234,1160l11-5 5-8 -11,5z"/><path fill="#0ce01e" d="M560,854l10-3 6,0 -11,2zM554,855l11-3 5-1 -10,3zM549,856l10-2 6-2 -11,3zM543,858l11-3 5-1 -10,2zM537,859l11-3 6-1 -11,3zM532,861l11-3 5-2 -11,3zM526,863l11-3 6-2 -11,3zM521,865l11-3 5-2 -11,3zM515,867l11-3 6-2 -11,3zM510,870l11-4 5-2 -11,3zM504,872l11-3 6-3 -11,4zM499,875l11-3 5-3 -11,3zM493,878l11-4 6-2 -11,3zM488,881l11-4 5-3 -11,4zM482,884l11-3 6-4 -11,4z"/><path fill="#14ec28" d="M477,887l11-3 5-3 -11,3zM471,891l11-4 6-3 -11,3zM466,895l11-4 5-4 -11,4zM460,898l11-3 6-4 -11,4zM455,902l11-3 5-4 -11,3zM450,906l10-3 6-4 -11,3zM444,911l11-4 5-4 -10,3zM439,915l11-4 5-4 -11,4zM433,920l11-4 6-5 -11,4zM428,924l11-4 5-4 -11,4zM422,929l11-4 6-5 -11,4zM417,934l11-4 5-5 -11,4zM412,939l11-4 5-5 -11,4zM406,944l11-4 6-5 -11,4zM401,949l11-4 5-5 -11,4zM396,955l11-5 5-5 -11,4zM390,960l11-4 6-6 -11,5z"/><path fill="#26f43c" d="M385,966l11-4 5-6 -11,4zM380,972l11-5 5-5 -11,4zM374,978l11-5 6-6 -11,5zM369,984l11-5 5-6 -11,5zM364,990l11-5 5-6 -11,5zM358,996l11-5 6-6 -11,5zM353,1002l11-4 5-7 -11,5zM348,1009l11-5 5-6 -11,4zM343,1015l11-5 5-6 -11,5z"/><path fill="#52fa66" d="M337,1022l11-5 6-7 -11,5zM332,1029l11-5 5-7 -11,5zM327,1035l11-4 5-7 -11,5zM322,1042l11-5 5-6 -11,4zM316,1049l12-5 5-7 -11,5zM311,1056l11-5 6-7 -12,5zM306,1063l11-5 5-7 -11,5zM301,1071l11-5 5-8 -11,5zM296,1078l11-5 5-7 -11,5zM291,1085l11-5 5-7 -11,5zM286,1093l11-5 5-8 -11,5zM280,1100l12-5 5-7 -11,5zM275,1108l12-5 5-8 -12,5zM270,1116l11-6 6-7 -12,5zM265,1123l11-5 5-8 -11,6zM260,1131l11-5 5-8 -11,5zM255,1139l11-5 5-8 -11,5zM250,1147l11-6 5-7 -11,5zM245,1155l11-6 5-8 -11,6z"/><path fill="#0ce01e" d="M570,851l11-2 5-1 -10,3zM565,852l10-2 6-1 -11,2zM559,854l11-3 5-1 -10,2zM554,855l10-3 6-1 -11,3zM548,856l11-3 5-1 -10,3zM543,858l10-3 6-2 -11,3zM537,860l11-3 5-2 -10,3zM532,862l10-3 6-2 -11,3zM526,864l11-3 5-2 -10,3zM521,866l10-3 6-2 -11,3zM515,869l11-3 5-3 -10,3zM510,872l10-4 6-2 -11,3zM504,874l11-3 5-3 -10,4zM499,877l10-3 6-3 -11,3zM493,881l11-4 5-3 -10,3zM488,884l10-4 6-3 -11,4zM482,887l11-3 5-4 -10,4zM477,891l11-4 5-3 -11,3z"/><path fill="#14ec28" d="M471,895l11-4 6-4 -11,4zM466,899l11-4 5-4 -11,4zM460,903l11-4 6-4 -11,4zM455,907l11-4 5-4 -11,4zM450,911l10-4 6-4 -11,4zM444,916l11-4 5-5 -10,4zM439,920l11-4 5-4 -11,4zM433,925l11-4 6-5 -11,4zM428,930l11-4 5-5 -11,4zM423,935l11-4 5-5 -11,4zM417,940l11-4 6-5 -11,4zM412,945l11-4 5-5 -11,4zM407,950l11-4 5-5 -11,4zM401,956l11-4 6-6 -11,4zM396,962l11-5 5-5 -11,4z"/><path fill="#26f43c" d="M391,967l11-4 5-6 -11,5zM385,973l11-4 6-6 -11,4zM380,979l11-4 5-6 -11,4zM375,985l11-4 5-6 -11,4zM369,991l12-4 5-6 -11,4zM364,998l11-5 6-6 -12,4zM359,1004l11-5 5-6 -11,5zM354,1010l11-4 5-7 -11,5zM348,1017l12-5 5-6 -11,4z"/><path fill="#52fa66" d="M343,1024l11-5 6-7 -12,5zM338,1031l11-5 5-7 -11,5zM333,1037l11-4 5-7 -11,5zM328,1044l11-4 5-7 -11,4zM322,1051l12-4 5-7 -11,4zM317,1058l11-4 6-7 -12,4zM312,1066l11-5 5-7 -11,4zM307,1073l11-5 5-7 -11,5zM302,1080l11-5 5-7 -11,5zM297,1088l11-5 5-8 -11,5zM292,1095l11-5 5-7 -11,5zM287,1103l11-5 5-8 -11,5zM281,1110l12-5 5-7 -11,5zM276,1118l12-5 5-8 -12,5zM271,1126l12-5 5-8 -12,5zM266,1134l12-6 5-7 -12,5zM261,1141l12-5 5-8 -12,6zM256,1149l11-5 6-8 -12,5z"/><path fill="#0ce01e" d="M581,849l10-3 6-1 -11,3zM575,850l11-3 5-1 -10,3zM570,851l10-3 6-1 -11,3zM564,852l11-3 5-1 -10,3zM559,853l10-2 6-2 -11,3zM553,855l11-3 5-1 -10,2zM548,857l10-3 6-2 -11,3zM542,859l11-3 5-2 -10,3zM537,861l10-3 6-2 -11,3zM531,863l11-3 5-2 -10,3zM526,866l10-3 6-3 -11,3zM520,868l11-3 5-2 -10,3zM515,871l11-3 5-3 -11,3zM509,874l11-3 6-3 -11,3zM504,877l11-3 5-3 -11,3zM498,880l11-3 6-3 -11,3zM493,884l11-4 5-3 -11,3zM488,887l10-3 6-4 -11,4zM482,891l11-4 5-3 -10,3zM477,895l11-4 5-4 -11,4zM471,899l11-4 6-4 -11,4z"/><path fill="#14ec28" d="M466,903l11-4 5-4 -11,4zM460,907l11-3 6-5 -11,4zM455,912l11-4 5-4 -11,3zM450,916l11-4 5-4 -11,4zM444,921l11-4 6-5 -11,4zM439,926l11-4 5-5 -11,4zM434,931l11-4 5-5 -11,4zM428,936l11-4 6-5 -11,4zM423,941l11-4 5-5 -11,4zM418,946l11-4 5-5 -11,4zM412,952l11-4 6-6 -11,4zM407,957l11-4 5-5 -11,4zM402,963l11-4 5-6 -11,4zM396,969l11-4 6-6 -11,4z"/><path fill="#26f43c" d="M391,975l11-5 5-5 -11,4zM386,981l11-5 5-6 -11,5zM381,987l11-4 5-7 -11,5zM375,993l11-4 6-6 -11,4zM370,999l11-4 5-6 -11,4zM365,1006l11-5 5-6 -11,4zM360,1012l11-4 5-7 -11,5zM354,1019l12-4 5-7 -11,4zM349,1026l11-5 6-6 -12,4z"/><path fill="#52fa66" d="M344,1033l11-5 5-7 -11,5zM339,1040l11-5 5-7 -11,5zM334,1047l11-5 5-7 -11,5zM328,1054l12-5 5-7 -11,5zM323,1061l12-5 5-7 -12,5zM318,1068l11-5 6-7 -12,5zM313,1075l11-4 5-8 -11,5zM308,1083l11-5 5-7 -11,4zM303,1090l11-5 5-7 -11,5zM298,1098l11-5 5-8 -11,5zM293,1105l11-5 5-7 -11,5zM288,1113l11-5 5-8 -11,5zM283,1121l11-5 5-8 -11,5zM278,1128l11-5 5-7 -11,5zM273,1136l11-5 5-8 -11,5zM267,1144l12-5 5-8 -11,5z"/><path fill="#0ce01e" d="M591,846l11-2 5-1 -10,2zM586,847l10-3 6,0 -11,2zM580,848l11-3 5-1 -10,3zM575,849l10-2 6-2 -11,3zM569,851l11-3 5-1 -10,2zM564,852l10-3 6-1 -11,3zM558,854l11-3 5-2 -10,3zM553,856l10-3 6-2 -11,3zM547,858l11-3 5-2 -10,3zM542,860l11-3 5-2 -11,3zM536,863l11-3 6-3 -11,3zM531,865l11-3 5-2 -11,3zM526,868l10-3 6-3 -11,3zM520,871l11-3 5-3 -10,3zM515,874l10-3 6-3 -11,3zM509,877l11-3 5-3 -10,3zM504,880l11-3 5-3 -11,3zM498,884l11-4 6-3 -11,3zM493,887l11-3 5-4 -11,4zM488,891l10-3 6-4 -11,3zM482,895l11-3 5-4 -10,3zM477,899l11-3 5-4 -11,3zM471,904l11-4 6-4 -11,3z"/><path fill="#14ec28" d="M466,908l11-4 5-4 -11,4zM461,912l11-3 5-5 -11,4zM455,917l11-4 6-4 -11,3zM450,922l11-4 5-5 -11,4zM445,927l11-4 5-5 -11,4zM439,932l11-4 6-5 -11,4zM434,937l11-4 5-5 -11,4zM429,942l11-4 5-5 -11,4zM423,948l11-4 6-6 -11,4zM418,953l11-4 5-5 -11,4zM413,959l11-4 5-6 -11,4zM407,965l12-5 5-5 -11,4zM402,970l11-4 6-6 -12,5z"/><path fill="#26f43c" d="M397,976l11-4 5-6 -11,4zM392,983l11-5 5-6 -11,4zM386,989l12-4 5-7 -11,5zM381,995l11-4 6-6 -12,4zM376,1001l11-4 5-6 -11,4zM371,1008l11-4 5-7 -11,4zM366,1015l11-5 5-6 -11,4zM360,1021l12-4 5-7 -11,5zM355,1028l11-4 6-7 -12,4z"/><path fill="#52fa66" d="M350,1035l11-5 5-6 -11,4zM345,1042l11-5 5-7 -11,5zM340,1049l11-5 5-7 -11,5zM335,1056l11-4 5-8 -11,5zM329,1063l12-4 5-7 -11,4zM324,1071l12-5 5-7 -12,4zM319,1078l12-5 5-7 -12,5zM314,1085l11-4 6-8 -12,5zM309,1093l11-5 5-7 -11,4zM304,1100l11-4 5-8 -11,5zM299,1108l11-5 5-7 -11,4zM294,1116l11-5 5-8 -11,5zM289,1123l11-4 5-8 -11,5zM284,1131l11-5 5-7 -11,4zM279,1139l11-5 5-8 -11,5z"/><path fill="#0ce01e" d="M602,844l10-3 6,0 -11,2zM596,844l11-2 5-1 -10,3zM591,845l10-2 6-1 -11,2zM585,847l11-3 5-1 -10,2zM580,848l10-3 6-1 -11,3zM574,849l11-2 5-2 -10,3zM569,851l11-3 5-1 -11,2zM563,853l11-3 6-2 -11,3zM558,855l11-3 5-2 -11,3zM553,857l10-3 6-2 -11,3zM547,860l11-3 5-3 -10,3zM542,862l10-3 6-2 -11,3zM536,865l11-3 5-3 -10,3zM531,868l11-3 5-3 -11,3zM525,871l11-4 6-2 -11,3zM520,874l11-3 5-4 -11,4zM515,877l10-3 6-3 -11,3zM509,880l11-3 5-3 -10,3zM504,884l11-3 5-4 -11,3zM498,888l11-3 6-4 -11,3zM493,892l11-4 5-3 -11,3zM488,896l11-4 5-4 -11,4zM482,900l11-4 6-4 -11,4zM477,904l11-3 5-5 -11,4zM472,909l11-4 5-4 -11,3z"/><path fill="#14ec28" d="M466,913l11-3 6-5 -11,4zM461,918l11-4 5-4 -11,3zM456,923l11-4 5-5 -11,4zM450,928l11-4 6-5 -11,4zM445,933l11-4 5-5 -11,4zM440,938l11-3 5-6 -11,4zM434,944l11-4 6-5 -11,3zM429,949l11-4 5-5 -11,4zM424,955l11-4 5-6 -11,4zM419,960l11-3 5-6 -11,4zM413,966l11-4 6-5 -11,3zM408,972l11-4 5-6 -11,4z"/><path fill="#26f43c" d="M403,978l11-4 5-6 -11,4zM398,985l11-5 5-6 -11,4zM392,991l11-4 6-7 -11,5zM387,997l11-4 5-6 -11,4zM382,1004l11-5 5-6 -11,4zM377,1010l11-4 5-7 -11,5zM372,1017l11-4 5-7 -11,4zM366,1024l12-5 5-6 -11,4zM361,1030l11-4 6-7 -12,5z"/><path fill="#52fa66" d="M356,1037l11-4 5-7 -11,4zM351,1044l11-4 5-7 -11,4zM346,1052l11-5 5-7 -11,4zM341,1059l11-5 5-7 -11,5zM336,1066l11-5 5-7 -11,5zM331,1073l11-4 5-8 -11,5zM325,1081l12-5 5-7 -11,4zM320,1088l12-4 5-8 -12,5zM315,1096l12-5 5-7 -12,4zM310,1103l12-4 5-8 -12,5zM305,1111l12-5 5-7 -12,4zM300,1119l12-5 5-8 -12,5zM295,1126l12-4 5-8 -12,5zM290,1134l12-5 5-7 -12,4z"/><path fill="#0ce01e" d="M612,841l11-2 5-1 -10,3zM607,842l10-2 6-1 -11,2zM601,843l11-2 5-1 -10,2zM596,844l10-2 6-1 -11,2zM590,845l11-2 5-1 -10,2zM585,847l11-3 5-1 -11,2zM580,848l10-2 6-2 -11,3zM574,850l11-2 5-2 -10,2zM569,852l10-2 6-2 -11,2zM563,854l11-2 5-2 -10,2zM558,857l11-3 5-2 -11,2zM552,859l11-3 6-2 -11,3zM547,862l11-3 5-3 -11,3zM542,865l10-3 6-3 -11,3zM536,867l11-2 5-3 -10,3zM531,871l11-3 5-3 -11,2zM525,874l11-3 6-3 -11,3zM520,877l11-3 5-3 -11,3zM515,881l11-3 5-4 -11,3zM509,885l11-4 6-3 -11,3zM504,888l11-3 5-4 -11,4zM499,892l11-3 5-4 -11,3zM493,896l11-3 6-4 -11,3zM488,901l11-4 5-4 -11,3zM483,905l11-3 5-5 -11,4zM477,910l11-4 6-4 -11,3z"/><path fill="#14ec28" d="M472,914l11-3 5-5 -11,4zM467,919l11-3 5-5 -11,3zM461,924l11-3 6-5 -11,3zM456,929l11-3 5-5 -11,3zM451,935l11-4 5-5 -11,3zM445,940l12-4 5-5 -11,4zM440,945l11-3 6-6 -12,4zM435,951l11-4 5-5 -11,3zM430,957l11-4 5-6 -11,4zM424,962l12-4 5-5 -11,4zM419,968l11-4 6-6 -12,4zM414,974l11-4 5-6 -11,4zM409,980l11-4 5-6 -11,4z"/><path fill="#26f43c" d="M403,987l12-4 5-7 -11,4zM398,993l12-4 5-6 -12,4zM393,999l11-4 6-6 -12,4zM388,1006l11-4 5-7 -11,4zM383,1013l11-5 5-6 -11,4zM378,1019l11-4 5-7 -11,5zM372,1026l12-4 5-7 -11,4zM367,1033l12-4 5-7 -12,4z"/><path fill="#52fa66" d="M362,1040l12-4 5-7 -12,4zM357,1047l11-4 6-7 -12,4zM352,1054l11-4 5-7 -11,4zM347,1061l11-4 5-7 -11,4zM342,1069l11-5 5-7 -11,4zM337,1076l11-4 5-8 -11,5zM332,1084l11-5 5-7 -11,4zM327,1091l11-4 5-8 -11,5zM322,1099l11-5 5-7 -11,4zM317,1106l11-4 5-8 -11,5zM312,1114l11-5 5-7 -11,4zM307,1122l11-5 5-8 -11,5zM302,1129l11-4 5-8 -11,5z"/><path fill="#0ce01e" d="M623,839l10-2 6-1 -11,2zM617,840l11-3 5,0 -10,2zM612,841l10-3 6-1 -11,3zM606,842l11-3 5-1 -10,3zM601,843l11-2 5-2 -11,3zM596,844l10-2 6-1 -11,2zM590,846l11-3 5-1 -10,2zM585,848l11-3 5-2 -11,3zM579,850l11-3 6-2 -11,3zM574,852l11-3 5-2 -11,3zM569,854l10-3 6-2 -11,3zM563,856l11-2 5-3 -10,3zM558,859l11-3 5-2 -11,2zM552,862l11-3 6-3 -11,3zM547,865l11-3 5-3 -11,3zM542,868l11-3 5-3 -11,3zM536,871l11-3 6-3 -11,3zM531,874l11-3 5-3 -11,3zM526,878l11-3 5-4 -11,3zM520,881l11-3 6-3 -11,3zM515,885l11-3 5-4 -11,3zM510,889l11-3 5-4 -11,3zM504,893l11-3 6-4 -11,3zM499,897l11-3 5-4 -11,3zM494,902l11-3 5-5 -11,3zM488,906l11-3 6-4 -11,3zM483,911l11-3 5-5 -11,3zM478,916l11-4 5-4 -11,3z"/><path fill="#14ec28" d="M472,921l11-4 6-5 -11,4zM467,926l11-4 5-5 -11,4zM462,931l11-4 5-5 -11,4zM457,936l11-3 5-6 -11,4zM451,942l11-4 6-5 -11,3zM446,947l11-4 5-5 -11,4zM441,953l11-4 5-6 -11,4zM436,958l11-3 5-6 -11,4zM430,964l11-3 6-6 -11,3zM425,970l11-3 5-6 -11,3zM420,976l11-3 5-6 -11,3zM415,983l11-4 5-6 -11,3z"/><path fill="#26f43c" d="M410,989l11-4 5-6 -11,4zM404,995l12-4 5-6 -11,4zM399,1002l11-4 6-7 -12,4zM394,1008l11-4 5-6 -11,4zM389,1015l11-4 5-7 -11,4zM384,1022l11-4 5-7 -11,4zM379,1029l11-4 5-7 -11,4zM374,1036l11-4 5-7 -11,4z"/><path fill="#52fa66" d="M368,1043l12-4 5-7 -11,4zM363,1050l12-4 5-7 -12,4zM358,1057l12-4 5-7 -12,4zM353,1064l12-4 5-7 -12,4zM348,1072l11-5 6-7 -12,4zM343,1079l11-4 5-8 -11,5zM338,1087l11-5 5-7 -11,4zM333,1094l11-4 5-8 -11,5zM328,1102l11-5 5-7 -11,4zM323,1109l11-4 5-8 -11,5zM318,1117l11-4 5-8 -11,4zM313,1125l11-5 5-7 -11,4z"/><path fill="#0ce01e" d="M633,837l11-2 5-1 -10,2zM628,837l10-2 6,0 -11,2zM622,838l11-2 5-1 -10,2zM617,839l11-2 5-1 -11,2zM612,841l10-3 6-1 -11,2zM606,842l11-2 5-2 -10,3zM601,843l11-2 5-1 -11,2zM596,845l10-2 6-2 -11,2zM590,847l11-2 5-2 -10,2zM585,849l11-2 5-2 -11,2zM579,851l11-2 6-2 -11,2zM574,854l11-3 5-2 -11,2zM569,856l10-2 6-3 -11,3zM563,859l11-3 5-2 -10,2zM558,862l11-3 5-3 -11,3zM553,865l10-3 6-3 -11,3zM547,868l11-3 5-3 -10,3zM542,871l11-3 5-3 -11,3zM537,875l10-3 6-4 -11,3zM531,878l11-3 5-3 -10,3zM526,882l11-3 5-4 -11,3zM521,886l11-3 5-4 -11,3zM515,890l11-3 6-4 -11,3zM510,894l11-3 5-4 -11,3zM505,899l11-4 5-4 -11,3zM499,903l11-3 6-5 -11,4zM494,908l11-4 5-4 -11,3zM489,912l11-3 5-5 -11,4zM483,917l12-3 5-5 -11,3zM478,922l11-3 6-5 -12,3z"/><path fill="#14ec28" d="M473,927l11-3 5-5 -11,3zM468,933l11-4 5-5 -11,3zM462,938l12-4 5-5 -11,4zM457,943l11-3 6-6 -12,4zM452,949l11-4 5-5 -11,3zM447,955l11-4 5-6 -11,4zM441,961l12-4 5-6 -11,4zM436,967l12-4 5-6 -12,4zM431,973l11-4 6-6 -12,4zM426,979l11-4 5-6 -11,4zM421,985l11-4 5-6 -11,4z"/><path fill="#26f43c" d="M416,991l11-3 5-7 -11,4zM410,998l12-4 5-6 -11,3zM405,1004l12-3 5-7 -12,4zM400,1011l11-4 6-6 -12,3zM395,1018l11-4 5-7 -11,4zM390,1025l11-4 5-7 -11,4zM385,1032l11-4 5-7 -11,4zM380,1039l11-4 5-7 -11,4z"/><path fill="#52fa66" d="M375,1046l11-4 5-7 -11,4zM370,1053l11-4 5-7 -11,4zM365,1060l11-4 5-7 -11,4zM359,1067l12-4 5-7 -11,4zM354,1075l12-4 5-8 -12,4zM349,1082l12-4 5-7 -12,4zM344,1090l12-5 5-7 -12,4zM339,1097l12-4 5-8 -12,5zM334,1105l12-4 5-8 -12,4zM329,1113l12-5 5-7 -12,4zM324,1120l12-4 5-8 -12,5z"/><path fill="#0ce01e" d="M644,835l10-2 6,0 -11,1zM638,835l11-1 5-1 -10,2zM633,836l11-2 5,0 -11,1zM628,837l10-2 6-1 -11,2zM622,838l11-2 5-1 -10,2zM617,840l11-3 5-1 -11,2zM612,841l10-2 6-2 -11,3zM606,843l11-2 5-2 -10,2zM601,845l11-3 5-1 -11,2zM596,847l10-3 6-2 -11,3zM590,849l11-3 5-2 -10,3zM585,851l11-2 5-3 -11,3zM579,854l11-3 6-2 -11,2zM574,856l11-2 5-3 -11,3zM569,859l11-3 5-2 -11,2zM563,862l11-3 6-3 -11,3zM558,865l11-3 5-3 -11,3zM553,868l11-2 5-4 -11,3zM547,872l11-3 6-3 -11,2zM542,875l11-2 5-4 -11,3zM537,879l11-3 5-3 -11,2zM532,883l10-3 6-4 -11,3zM526,887l11-3 5-4 -10,3zM521,891l11-3 5-4 -11,3zM516,895l11-3 5-4 -11,3zM510,900l11-3 6-5 -11,3zM505,904l11-3 5-4 -11,3zM500,909l11-3 5-5 -11,3zM495,914l11-3 5-5 -11,3zM489,919l11-3 6-5 -11,3zM484,924l11-3 5-5 -11,3z"/><path fill="#14ec28" d="M479,929l11-3 5-5 -11,3zM474,934l11-3 5-5 -11,3zM468,940l12-3 5-6 -11,3zM463,945l11-3 6-5 -12,3zM458,951l11-3 5-6 -11,3zM453,957l11-4 5-5 -11,3zM448,963l11-4 5-6 -11,4zM442,969l12-4 5-6 -11,4zM437,975l11-4 6-6 -12,4zM432,981l11-3 5-7 -11,4zM427,988l11-4 5-6 -11,3z"/><path fill="#26f43c" d="M422,994l11-4 5-6 -11,4zM417,1001l11-4 5-7 -11,4zM411,1007l12-4 5-6 -11,4zM406,1014l12-4 5-7 -12,4zM401,1021l12-4 5-7 -12,4zM396,1028l12-4 5-7 -12,4zM391,1035l11-4 6-7 -12,4zM386,1042l11-4 5-7 -11,4z"/><path fill="#52fa66" d="M381,1049l11-4 5-7 -11,4zM376,1056l11-4 5-7 -11,4zM371,1063l11-4 5-7 -11,4zM366,1071l11-5 5-7 -11,4zM361,1078l11-4 5-8 -11,5zM356,1085l11-4 5-7 -11,4zM351,1093l11-4 5-8 -11,4zM346,1101l11-5 5-7 -11,4zM341,1108l11-4 5-8 -11,5zM336,1116l11-4 5-8 -11,4z"/><path fill="#0ce01e" d="M654,833l11-2 5,0 -10,2zM649,834l11-2 5-1 -11,2zM644,834l10-2 6,0 -11,2zM638,835l11-2 5-1 -10,2zM633,836l11-2 5-1 -11,2zM628,837l10-2 6-1 -11,2zM622,839l11-2 5-2 -10,2z"/><path fill="#00a406" d="M617,841l11-3 5-1 -11,2zM612,842l10-2 6-2 -11,3zM606,844l11-2 5-2 -10,2zM601,846l11-2 5-2 -11,2zM596,849l10-3 6-2 -11,2zM590,851l11-2 5-3 -10,3z"/><path fill="#0ce01e" d="M585,854l11-3 5-2 -11,2zM580,856l11-2 5-3 -11,3zM574,859l11-2 6-3 -11,2zM569,862l11-2 5-3 -11,2zM564,866l11-3 5-3 -11,2zM558,869l11-3 6-3 -11,3zM553,873l11-3 5-4 -11,3zM548,876l11-3 5-3 -11,3zM542,880l12-3 5-4 -11,3zM537,884l11-3 6-4 -12,3zM532,888l11-3 5-4 -11,3zM527,892l11-3 5-4 -11,3zM521,897l11-3 6-5 -11,3zM516,901l11-3 5-4 -11,3zM511,906l11-3 5-5 -11,3zM506,911l11-3 5-5 -11,3zM500,916l12-4 5-4 -11,3zM495,921l11-4 6-5 -12,4zM490,926l11-3 5-6 -11,4z"/><path fill="#14ec28" d="M485,931l11-3 5-5 -11,3zM480,937l11-4 5-5 -11,3zM474,942l12-3 5-6 -11,4zM469,948l11-4 6-5 -12,3zM464,953l11-3 5-6 -11,4zM459,959l11-3 5-6 -11,3zM454,965l11-3 5-6 -11,3zM448,971l12-3 5-6 -11,3zM443,978l12-4 5-6 -12,3zM438,984l11-4 6-6 -12,4zM433,990l11-3 5-7 -11,4z"/><path fill="#26f43c" d="M428,997l11-4 5-6 -11,3zM423,1003l11-3 5-7 -11,4zM418,1010l11-4 5-6 -11,3zM413,1017l11-4 5-7 -11,4zM408,1024l11-4 5-7 -11,4zM402,1031l12-4 5-7 -11,4zM397,1038l12-4 5-7 -12,4zM392,1045l12-4 5-7 -12,4z"/><path fill="#52fa66" d="M387,1052l12-4 5-7 -12,4zM382,1059l12-4 5-7 -12,4zM377,1066l12-3 5-8 -12,4zM372,1074l12-4 5-7 -12,3zM367,1081l12-4 5-7 -12,4zM362,1089l12-4 5-8 -12,4zM357,1096l12-4 5-7 -12,4zM352,1104l12-4 5-8 -12,4zM347,1112l12-4 5-8 -12,4z"/><path fill="#0ce01e" d="M665,831l10-1 6-1 -11,2zM660,832l10-2 5,0 -10,1zM654,832l11-1 5-1 -10,2z"/><path fill="#00a406" d="M649,833l11-2 5,0 -11,1zM644,834l10-2 6-1 -11,2zM638,835l11-1 5-2 -10,2zM633,837l11-2 5-1 -11,1zM628,838l10-2 6-1 -11,2zM622,840l11-2 5-2 -10,2zM617,842l11-2 5-2 -11,2zM612,844l11-2 5-2 -11,2zM606,846l11-2 6-2 -11,2zM601,849l11-3 5-2 -11,2zM596,851l11-2 5-3 -11,3zM591,854l10-2 6-3 -11,2zM585,857l11-3 5-2 -10,2zM580,860l11-3 5-3 -11,3z"/><path fill="#0ce01e" d="M575,863l11-2 5-4 -11,3zM569,866l11-2 6-3 -11,2zM564,870l11-3 5-3 -11,2zM559,873l11-2 5-4 -11,3zM554,877l11-2 5-4 -11,2zM548,881l11-3 6-3 -11,2zM543,885l11-3 5-4 -11,3zM538,889l11-2 5-5 -11,3zM532,894l12-3 5-4 -11,2zM527,898l11-3 6-4 -12,3zM522,903l11-3 5-5 -11,3zM517,908l11-3 5-5 -11,3zM512,912l11-2 5-5 -11,3zM506,917l11-3 6-4 -11,2zM501,923l11-3 5-6 -11,3zM496,928l11-3 5-5 -11,3zM491,933l11-3 5-5 -11,3z"/><path fill="#14ec28" d="M486,939l11-3 5-6 -11,3zM480,944l12-3 5-5 -11,3zM475,950l11-3 6-6 -12,3zM470,956l11-3 5-6 -11,3zM465,962l11-3 5-6 -11,3zM460,968l11-3 5-6 -11,3zM455,974l11-3 5-6 -11,3zM449,980l12-3 5-6 -11,3zM444,987l12-4 5-6 -12,3zM439,993l12-3 5-7 -12,4z"/><path fill="#26f43c" d="M434,1000l12-4 5-6 -12,3zM429,1006l11-3 6-7 -12,4zM424,1013l11-3 5-7 -11,3zM419,1020l11-4 5-6 -11,3zM414,1027l11-4 5-7 -11,4zM409,1034l11-4 5-7 -11,4zM404,1041l11-4 5-7 -11,4zM399,1048l11-4 5-7 -11,4z"/><path fill="#52fa66" d="M394,1055l11-3 5-8 -11,4zM389,1063l11-4 5-7 -11,3zM384,1070l11-4 5-7 -11,4zM379,1077l11-3 5-8 -11,4zM374,1085l11-4 5-7 -11,3zM369,1092l11-4 5-7 -11,4zM364,1100l11-4 5-8 -11,4zM359,1108l11-4 5-8 -11,4z"/><path fill="#0ce01e" d="M675,830l11-2 5,0 -10,1zM670,830l11-2 5,0 -11,2z"/><path fill="#00a406" d="M665,831l11-2 5-1 -11,2zM660,831l10-1 6-1 -11,2zM654,832l11-1 5-1 -10,1zM649,834l11-2 5-1 -11,1zM644,835l10-2 6-1 -11,2zM638,836l11-1 5-2 -10,2zM633,838l11-2 5-1 -11,1zM628,840l11-2 5-2 -11,2zM623,842l10-2 6-2 -11,2zM617,844l11-2 5-2 -10,2zM612,846l11-2 5-2 -11,2zM607,849l11-2 5-3 -11,2zM601,852l11-3 6-2 -11,2zM596,854l11-2 5-3 -11,3zM591,857l11-2 5-3 -11,2zM586,861l11-3 5-3 -11,2zM580,864l11-3 6-3 -11,3zM575,867l11-2 5-4 -11,3z"/><path fill="#0ce01e" d="M570,871l11-3 5-3 -11,2zM565,875l11-3 5-4 -11,3zM559,878l11-2 6-4 -11,3zM554,882l11-2 5-4 -11,2zM549,887l11-3 5-4 -11,2zM544,891l11-3 5-4 -11,3zM538,895l11-2 6-5 -11,3zM533,900l11-3 5-4 -11,2zM528,905l11-3 5-5 -11,3zM523,910l11-3 5-5 -11,3zM517,914l12-2 5-5 -11,3zM512,920l11-3 6-5 -12,2zM507,925l11-3 5-5 -11,3zM502,930l11-3 5-5 -11,3zM497,936l11-3 5-6 -11,3z"/><path fill="#14ec28" d="M492,941l11-3 5-5 -11,3zM486,947l12-3 5-6 -11,3zM481,953l12-3 5-6 -12,3zM476,959l11-4 6-5 -12,3zM471,965l11-4 5-6 -11,4zM466,971l11-4 5-6 -11,4zM461,977l11-3 5-7 -11,4zM456,983l11-3 5-6 -11,3zM451,990l11-4 5-6 -11,3zM446,996l11-3 5-7 -11,4z"/><path fill="#26f43c" d="M440,1003l12-4 5-6 -11,3zM435,1010l12-4 5-7 -12,4zM430,1016l12-3 5-7 -12,4zM425,1023l12-3 5-7 -12,3zM420,1030l12-3 5-7 -12,3zM415,1037l12-3 5-7 -12,3zM410,1044l12-3 5-7 -12,3zM405,1052l12-4 5-7 -12,3z"/><path fill="#52fa66" d="M400,1059l12-4 5-7 -12,4zM395,1066l12-4 5-7 -12,4zM390,1074l12-4 5-8 -12,4zM385,1081l12-4 5-7 -12,4zM380,1088l12-3 5-8 -12,4zM375,1096l12-4 5-7 -12,3zM370,1104l12-4 5-8 -12,4z"/><path fill="#00a406" d="M686,828l11-1 5,0 -11,1zM681,828l10-1 6,0 -11,1zM676,829l10-1 5-1 -10,1zM670,830l11-2 5,0 -10,1zM665,831l11-2 5-1 -11,2zM660,832l10-2 6-1 -11,2zM654,833l11-2 5-1 -10,2zM649,835l11-2 5-2 -11,2zM644,836l11-2 5-1 -11,2zM639,838l10-2 6-2 -11,2zM633,840l11-2 5-2 -10,2zM628,842l11-2 5-2 -11,2zM623,844l11-2 5-2 -11,2zM618,847l10-2 6-3 -11,2zM612,849l11-2 5-2 -10,2zM607,852l11-2 5-3 -11,2zM602,855l11-2 5-3 -11,2zM597,858l11-2 5-3 -11,2zM591,861l11-2 6-3 -11,2zM586,865l11-2 5-4 -11,2zM581,868l11-2 5-3 -11,2zM576,872l11-2 5-4 -11,2z"/><path fill="#0ce01e" d="M570,876l11-3 6-3 -11,2zM565,880l11-3 5-4 -11,3zM560,884l11-2 5-5 -11,3zM555,888l11-2 5-4 -11,2zM549,893l12-3 5-4 -11,2zM544,897l11-2 6-5 -12,3zM539,902l11-3 5-4 -11,2zM534,907l11-3 5-5 -11,3zM529,912l11-3 5-5 -11,3zM523,917l12-3 5-5 -11,3zM518,922l12-3 5-5 -12,3zM513,927l11-3 6-5 -12,3zM508,933l11-3 5-6 -11,3zM503,938l11-3 5-5 -11,3z"/><path fill="#14ec28" d="M498,944l11-3 5-6 -11,3zM493,950l11-3 5-6 -11,3zM487,955l12-3 5-5 -11,3zM482,961l12-3 5-6 -12,3zM477,967l12-3 5-6 -12,3zM472,974l12-3 5-7 -12,3zM467,980l11-3 6-6 -12,3zM462,986l11-3 5-6 -11,3zM457,993l11-3 5-7 -11,3zM452,999l11-3 5-6 -11,3z"/><path fill="#26f43c" d="M447,1006l11-3 5-7 -11,3zM442,1013l11-3 5-7 -11,3zM437,1020l11-4 5-6 -11,3zM432,1027l11-4 5-7 -11,4zM427,1034l11-4 5-7 -11,4zM422,1041l11-4 5-7 -11,4zM417,1048l11-4 5-7 -11,4zM412,1055l11-3 5-8 -11,4z"/><path fill="#52fa66" d="M407,1062l11-3 5-7 -11,3zM402,1070l11-4 5-7 -11,3zM397,1077l11-3 5-8 -11,4zM392,1085l11-4 5-7 -11,3zM387,1092l11-3 5-8 -11,4zM382,1100l11-4 5-7 -11,3z"/><path fill="#00a406" d="M697,827l10-2 5,0 -10,2zM691,827l11-1 5-1 -10,2zM686,828l11-2 5,0 -11,1zM681,828l11-1 5-1 -11,2zM676,829l10-1 6-1 -11,1zM670,830l11-1 5-1 -10,1zM665,831l11-1 5-1 -11,1zM660,833l11-2 5-1 -11,1zM655,834l10-1 6-2 -11,2zM649,836l11-2 5-1 -10,1zM644,838l11-2 5-2 -11,2zM639,840l11-2 5-2 -11,2zM634,842l11-1 5-3 -11,2zM628,845l11-2 6-2 -11,1zM623,847l11-2 5-2 -11,2zM618,850l11-2 5-3 -11,2zM613,853l11-2 5-3 -11,2zM608,856l10-2 6-3 -11,2zM602,859l11-2 5-3 -10,2zM597,863l11-3 5-3 -11,2zM592,866l11-2 5-4 -11,3zM587,870l11-3 5-3 -11,2zM581,873l11-2 6-4 -11,3zM576,877l11-2 5-4 -11,2z"/><path fill="#0ce01e" d="M571,882l11-3 5-4 -11,2zM566,886l11-3 5-4 -11,3zM561,890l11-2 5-5 -11,3zM555,895l12-3 5-4 -11,2zM550,899l11-2 6-5 -12,3zM545,904l11-3 5-4 -11,2zM540,909l11-3 5-5 -11,3zM535,914l11-3 5-5 -11,3zM530,919l11-3 5-5 -11,3zM524,924l12-2 5-6 -11,3zM519,930l12-3 5-5 -12,2zM514,935l11-3 6-5 -12,3zM509,941l11-3 5-6 -11,3z"/><path fill="#14ec28" d="M504,947l11-3 5-6 -11,3zM499,952l11-3 5-5 -11,3zM494,958l11-3 5-6 -11,3zM489,964l11-3 5-6 -11,3zM484,971l11-3 5-7 -11,3zM478,977l12-3 5-6 -11,3zM473,983l12-3 5-6 -12,3zM468,990l12-4 5-6 -12,3zM463,996l12-3 5-7 -12,4zM458,1003l12-3 5-7 -12,3z"/><path fill="#26f43c" d="M453,1010l12-4 5-6 -12,3zM448,1016l12-3 5-7 -12,4zM443,1023l12-3 5-7 -12,3zM438,1030l12-3 5-7 -12,3zM433,1037l12-3 5-7 -12,3zM428,1044l12-3 5-7 -12,3zM423,1052l12-4 5-7 -12,3zM418,1059l12-3 5-8 -12,4z"/><path fill="#52fa66" d="M413,1066l12-3 5-7 -12,3zM408,1074l12-4 5-7 -12,3zM403,1081l12-3 5-8 -12,4zM398,1089l12-4 5-7 -12,3zM393,1096l12-3 5-8 -12,4z"/><path fill="#00a406" d="M707,825l11-1 5,0 -11,1zM702,826l11-2 5,0 -11,1zM697,826l10-1 6-1 -11,2zM692,827l10-1 5-1 -10,1zM686,828l11-2 5,0 -10,1zM681,829l11-2 5-1 -11,2zM676,830l11-2 5-1 -11,2zM671,831l10-1 6-2 -11,2zM665,833l11-2 5-1 -10,1zM660,834l11-1 5-2 -11,2zM655,836l11-1 5-2 -11,1zM650,838l11-1 5-2 -11,1zM645,841l10-2 6-2 -11,1zM639,843l11-2 5-2 -10,2zM634,845l11-1 5-3 -11,2zM629,848l11-2 5-2 -11,1zM624,851l11-2 5-3 -11,2zM618,854l11-2 6-3 -11,2zM613,857l11-2 5-3 -11,2zM608,860l11-2 5-3 -11,2zM603,864l11-2 5-4 -11,2zM598,867l11-2 5-3 -11,2zM592,871l12-2 5-4 -11,2zM587,875l11-2 6-4 -12,2zM582,879l11-2 5-4 -11,2z"/><path fill="#0ce01e" d="M577,883l11-2 5-4 -11,2zM572,888l11-3 5-4 -11,2zM567,892l11-2 5-5 -11,3zM561,897l12-3 5-4 -11,2zM556,901l11-2 6-5 -12,3zM551,906l11-2 5-5 -11,2zM546,911l11-2 5-5 -11,2zM541,916l11-2 5-5 -11,2zM536,922l11-3 5-5 -11,2zM531,927l11-3 5-5 -11,3zM525,932l12-2 5-6 -11,3zM520,938l12-3 5-5 -12,2zM515,944l12-3 5-6 -12,3z"/><path fill="#14ec28" d="M510,949l11-2 6-6 -12,3zM505,955l11-2 5-6 -11,2zM500,961l11-2 5-6 -11,2zM495,968l11-3 5-6 -11,2zM490,974l11-3 5-6 -11,3zM485,980l11-3 5-6 -11,3zM480,986l11-2 5-7 -11,3zM475,993l11-3 5-6 -11,2zM470,1000l11-3 5-7 -11,3zM465,1006l11-3 5-6 -11,3z"/><path fill="#26f43c" d="M460,1013l11-3 5-7 -11,3zM455,1020l11-3 5-7 -11,3zM450,1027l11-3 5-7 -11,3zM445,1034l11-3 5-7 -11,3zM440,1041l11-3 5-7 -11,3zM435,1048l11-3 5-7 -11,3zM430,1056l11-4 5-7 -11,3zM425,1063l11-3 5-8 -11,4z"/><path fill="#52fa66" d="M420,1070l11-3 5-7 -11,3zM415,1078l12-4 4-7 -11,3zM410,1085l12-3 5-8 -12,4zM405,1093l12-4 5-7 -12,3z"/><path fill="#00a406" d="M718,824l10-1 6,0 -11,1zM713,824l10-1 5,0 -10,1zM707,825l11-1 5-1 -10,1zM702,826l11-2 5,0 -11,1zM697,826l11-1 5-1 -11,2zM692,827l11-1 5-1 -11,1zM687,828l10-1 6-1 -11,1zM681,830l11-2 5-1 -10,1zM676,831l11-1 5-2 -11,2zM671,833l11-2 5-1 -11,1zM666,835l11-2 5-2 -11,2zM661,837l11-2 5-2 -11,2zM655,839l11-2 6-2 -11,2zM650,841l11-2 5-2 -11,2zM645,844l11-2 5-3 -11,2zM640,846l11-2 5-2 -11,2zM635,849l11-2 5-3 -11,2zM629,852l11-2 6-3 -11,2zM624,855l11-2 5-3 -11,2zM619,858l11-2 5-3 -11,2zM614,862l11-2 5-4 -11,2zM609,865l11-2 5-3 -11,2zM604,869l11-2 5-4 -11,2zM598,873l12-2 5-4 -11,2zM593,877l11-2 6-4 -12,2zM588,881l11-2 5-4 -11,2zM583,885l11-2 5-4 -11,2z"/><path fill="#0ce01e" d="M578,890l11-3 5-4 -11,2zM573,894l11-2 5-5 -11,3zM567,899l12-2 5-5 -11,2zM562,904l12-3 5-4 -12,2zM557,909l11-3 6-5 -12,3zM552,914l11-3 5-5 -11,3zM547,919l11-3 5-5 -11,3zM542,924l11-2 5-6 -11,3zM537,930l11-3 5-5 -11,2zM532,935l11-2 5-6 -11,3zM527,941l11-3 5-5 -11,2zM521,947l12-3 5-6 -11,3z"/><path fill="#14ec28" d="M516,953l12-3 5-6 -12,3zM511,959l12-3 5-6 -12,3zM506,965l12-3 5-6 -12,3zM501,971l12-3 5-6 -12,3zM496,977l12-3 5-6 -12,3zM491,984l12-3 5-7 -12,3zM486,990l12-3 5-6 -12,3zM481,997l12-3 5-7 -12,3zM476,1003l12-3 5-6 -12,3zM471,1010l12-3 5-7 -12,3z"/><path fill="#26f43c" d="M466,1017l12-3 5-7 -12,3zM461,1024l12-3 5-7 -12,3zM456,1031l12-3 5-7 -12,3zM451,1038l12-3 5-7 -12,3zM446,1045l12-3 5-7 -12,3zM441,1052l12-3 5-7 -12,3zM436,1060l12-4 5-7 -12,3zM431,1067l12-3 5-8 -12,4z"/><path fill="#52fa66" d="M427,1074l11-3 5-7 -12,3zM422,1082l11-3 5-8 -11,3zM417,1089l11-3 5-7 -11,3z"/><path fill="#00a406" d="M728,823l11-1 5,0 -10,1zM723,823l11-1 5,0 -11,1zM718,824l11-1 5-1 -11,1zM713,824l11-1 5,0 -11,1zM708,825l10-1 6-1 -11,1zM703,826l10-1 5-1 -10,1zM697,827l11-1 5-1 -10,1zM692,828l11-1 5-1 -11,1zM687,830l11-2 5-1 -11,1zM682,831l11-1 5-2 -11,2zM677,833l11-1 5-2 -11,1zM672,835l10-1 6-2 -11,1zM666,837l11-1 5-2 -10,1zM661,839l11-1 5-2 -11,1zM656,842l11-2 5-2 -11,1zM651,844l11-1 5-3 -11,2zM646,847l11-1 5-3 -11,1zM640,850l12-2 5-2 -11,1zM635,853l11-2 6-3 -12,2zM630,856l11-1 5-4 -11,2zM625,860l11-2 5-3 -11,1zM620,863l11-2 5-3 -11,2zM615,867l11-2 5-4 -11,2zM610,871l11-2 5-4 -11,2zM604,875l12-2 5-4 -11,2zM599,879l11-2 6-4 -12,2zM594,883l11-2 5-4 -11,2zM589,887l11-2 5-4 -11,2z"/><path fill="#0ce01e" d="M584,892l11-2 5-5 -11,2zM579,897l11-3 5-4 -11,2zM574,901l11-2 5-5 -11,3zM568,906l12-2 5-5 -11,2zM563,911l12-2 5-5 -12,2zM558,916l12-2 5-5 -12,2zM553,922l11-3 6-5 -12,2zM548,927l11-2 5-6 -11,3zM543,933l11-3 5-5 -11,2zM538,938l11-2 5-6 -11,3zM533,944l11-2 5-6 -11,2zM528,950l11-3 5-5 -11,2z"/><path fill="#14ec28" d="M523,956l11-3 5-6 -11,3zM518,962l11-3 5-6 -11,3zM513,968l11-3 5-6 -11,3zM508,974l11-2 5-7 -11,3zM503,981l11-3 5-6 -11,2zM498,987l11-3 5-6 -11,3zM493,994l11-3 5-7 -11,3zM488,1000l11-2 5-7 -11,3zM483,1007l11-3 5-6 -11,2zM478,1014l11-3 5-7 -11,3z"/><path fill="#26f43c" d="M473,1021l11-3 5-7 -11,3zM468,1028l11-3 5-7 -11,3zM463,1035l11-3 5-7 -11,3zM458,1042l11-3 5-7 -11,3zM453,1049l11-3 5-7 -11,3zM448,1056l12-3 4-7 -11,3zM443,1064l12-3 5-8 -12,3zM438,1071l12-3 5-7 -12,3z"/><path fill="#52fa66" d="M433,1079l12-3 5-8 -12,3zM428,1086l12-3 5-7 -12,3z"/><path fill="#00a406" d="M739,822l11,0 5,0 -11,0zM734,822l11,0 5,0 -11,0zM729,823l10-1 6,0 -11,0zM724,823l10-1 5,0 -10,1zM718,824l11-1 5-1 -10,1zM713,825l11-1 5-1 -11,1zM708,826l11-1 5-1 -11,1zM703,827l11-1 5-1 -11,1zM698,828l11-1 5-1 -11,1zM693,830l11-1 5-2 -11,1zM688,832l10-2 6-1 -11,1zM682,834l11-2 5-2 -10,2zM677,836l11-2 5-2 -11,2zM672,838l11-1 5-3 -11,2zM667,840l11-1 5-2 -11,1zM662,843l11-2 5-2 -11,1zM657,846l11-2 5-3 -11,2zM652,848l11-1 5-3 -11,2zM646,851l11-1 6-3 -11,1zM641,855l11-2 5-3 -11,1zM636,858l11-2 5-3 -11,2zM631,861l11-1 5-4 -11,2zM626,865l11-2 5-3 -11,1zM621,869l11-2 5-4 -11,2zM616,873l11-2 5-4 -11,2zM610,877l12-2 5-4 -11,2zM605,881l11-2 6-4 -12,2zM600,885l11-2 5-4 -11,2zM595,890l11-2 5-5 -11,2z"/><path fill="#0ce01e" d="M590,894l11-2 5-4 -11,2zM585,899l11-2 5-5 -11,2zM580,904l11-2 5-5 -11,2zM575,909l11-2 5-5 -11,2zM570,914l11-2 5-5 -11,2zM564,919l12-2 5-5 -11,2zM559,925l12-3 5-5 -12,2zM554,930l12-2 5-6 -12,3zM549,936l12-3 5-5 -12,2zM544,942l12-3 5-6 -12,3zM539,947l12-2 5-6 -12,3zM534,953l12-2 5-6 -12,2z"/><path fill="#14ec28" d="M529,959l12-2 5-6 -12,2zM524,965l12-2 5-6 -12,2zM519,972l12-3 5-6 -12,2zM514,978l12-3 5-6 -12,3zM509,984l12-2 5-7 -12,3zM504,991l12-3 5-6 -12,2zM499,998l12-3 5-7 -12,3zM494,1004l12-2 5-7 -12,3zM489,1011l12-3 5-6 -12,2zM484,1018l12-3 5-7 -12,3z"/><path fill="#26f43c" d="M479,1025l12-3 5-7 -12,3zM474,1032l12-3 5-7 -12,3zM469,1039l12-3 5-7 -12,3zM464,1046l12-3 5-7 -12,3zM460,1053l11-2 5-8 -12,3zM455,1061l11-3 5-7 -11,2zM450,1068l11-3 5-7 -11,3zM445,1076l12-3 4-8 -11,3z"/><path fill="#52fa66" d="M440,1083l12-3 5-7 -12,3z"/><path fill="#00a406" d="M750,822l10-1 5,0 -10,1zM745,822l10-1 5,0 -10,1zM739,822l11-1 5,0 -10,1zM734,822l11,0 5-1 -11,1zM729,823l11-1 5,0 -11,0zM724,824l11-1 5-1 -11,1zM719,825l11-1 5-1 -11,1zM714,826l11-1 5-1 -11,1zM709,827l11-1 5-1 -11,1zM704,829l10-1 6-2 -11,1zM698,830l11-1 5-1 -10,1zM693,832l11-1 5-2 -11,1zM688,834l11-1 5-2 -11,1zM683,837l11-2 5-2 -11,1zM678,839l11-1 5-3 -11,2zM673,841l11-1 5-2 -11,1zM668,844l11-1 5-3 -11,1zM663,847l11-2 5-2 -11,1zM657,850l11-2 6-3 -11,2zM652,853l11-2 5-3 -11,2zM647,856l11-1 5-4 -11,2zM642,860l11-2 5-3 -11,1zM637,863l11-1 5-4 -11,2zM632,867l11-2 5-3 -11,1zM627,871l11-2 5-4 -11,2zM622,875l11-2 5-4 -11,2zM616,879l12-2 5-4 -11,2zM611,883l12-2 5-4 -12,2zM606,888l12-2 5-5 -12,2zM601,892l11-2 6-4 -12,2z"/><path fill="#0ce01e" d="M596,897l11-2 5-5 -11,2zM591,902l11-2 5-5 -11,2zM586,907l11-2 5-5 -11,2zM581,912l11-2 5-5 -11,2zM576,917l11-2 5-5 -11,2zM571,922l11-2 5-5 -11,2zM566,928l11-2 5-6 -11,2zM561,933l11-2 5-5 -11,2zM556,939l11-2 5-6 -11,2zM551,945l11-2 5-6 -11,2zM546,951l11-3 5-5 -11,2zM541,957l11-3 5-6 -11,3z"/><path fill="#14ec28" d="M536,963l11-2 5-7 -11,3zM531,969l11-2 5-6 -11,2zM526,975l11-2 5-6 -11,2zM521,982l11-3 5-6 -11,2zM516,988l11-2 5-7 -11,3zM511,995l11-3 5-6 -11,2zM506,1002l11-3 5-7 -11,3zM501,1008l11-2 5-7 -11,3zM496,1015l11-2 5-7 -11,2zM491,1022l11-3 5-6 -11,2z"/><path fill="#26f43c" d="M486,1029l12-3 4-7 -11,3zM481,1036l12-2 5-8 -12,3zM476,1043l12-2 5-7 -12,2zM471,1051l12-3 5-7 -12,2zM466,1058l12-3 5-7 -12,3zM461,1065l12-3 5-7 -12,3zM457,1073l11-3 5-8 -12,3zM452,1080l11-3 5-7 -11,3z"/><path fill="#00a406" d="M760,821l11-1 5,1 -11,0zM755,821l11-1 5,0 -11,1zM750,821l11-1 5,0 -11,1zM745,822l11-1 5-1 -11,1zM740,822l11-1 5,0 -11,1zM735,823l11-1 5-1 -11,1zM730,824l11-1 5-1 -11,1zM725,825l10-1 6-1 -11,1zM720,826l10-1 5-1 -10,1zM714,828l11-1 5-2 -10,1zM709,829l11-1 5-1 -11,1zM704,831l11-1 5-2 -11,1zM699,833l11-1 5-2 -11,1zM694,835l11-1 5-2 -11,1zM689,838l11-2 5-2 -11,1zM684,840l11-1 5-3 -11,2zM679,843l11-2 5-2 -11,1zM674,845l11-1 5-3 -11,2zM668,848l12-1 5-3 -11,1zM663,851l11-1 6-3 -12,1zM658,855l11-2 5-3 -11,1zM653,858l11-1 5-4 -11,2zM648,862l11-2 5-3 -11,1zM643,865l11-1 5-4 -11,2zM638,869l11-1 5-4 -11,1zM633,873l11-2 5-3 -11,1zM628,877l11-1 5-5 -11,2zM623,881l11-1 5-4 -11,1zM618,886l11-2 5-4 -11,1zM612,890l12-1 5-5 -11,2zM607,895l12-2 5-4 -12,1z"/><path fill="#0ce01e" d="M602,900l12-2 5-5 -12,2zM597,905l12-2 5-5 -12,2zM592,910l12-2 5-5 -12,2zM587,915l12-2 5-5 -12,2zM582,920l12-2 5-5 -12,2zM577,926l11-2 6-6 -12,2zM572,931l11-2 5-5 -11,2zM567,937l11-2 5-6 -11,2zM562,943l11-3 5-5 -11,2zM557,948l11-2 5-6 -11,3zM552,954l12-2 4-6 -11,2zM547,961l12-3 5-6 -12,2z"/><path fill="#14ec28" d="M542,967l12-3 5-6 -12,3zM537,973l12-2 5-7 -12,3zM532,979l12-2 5-6 -12,2zM527,986l12-3 5-6 -12,2zM522,992l12-2 5-7 -12,3zM517,999l12-2 5-7 -12,2zM512,1006l12-3 5-6 -12,2zM507,1013l12-3 5-7 -12,3zM502,1019l12-2 5-7 -12,3zM498,1026l11-2 5-7 -12,2z"/><path fill="#26f43c" d="M493,1034l11-3 5-7 -11,2zM488,1041l11-3 5-7 -11,3zM483,1048l12-3 4-7 -11,3zM478,1055l12-3 5-7 -12,3zM473,1062l12-2 5-8 -12,3zM468,1070l12-3 5-7 -12,2zM463,1077l12-2 5-8 -12,3z"/><path fill="#00a406" d="M771,820l10,0 5,0 -10,1zM766,820l10,0 5,0 -10,0zM761,820l10,0 5,0 -10,0zM756,821l10-1 5,0 -10,0zM751,821l10,0 5-1 -10,1zM746,822l10-1 5,0 -10,0zM741,823l10-1 5-1 -10,1zM735,824l11-1 5-1 -10,1zM730,825l11,0 5-2 -11,1zM725,827l11-1 5-1 -11,0zM720,828l11-1 5-1 -11,1zM715,830l11-1 5-2 -11,1zM710,832l11-1 5-2 -11,1zM705,834l11-1 5-2 -11,1zM700,836l11-1 5-2 -11,1zM695,839l11-1 5-3 -11,1zM690,841l11-1 5-2 -11,1zM685,844l11-1 5-3 -11,1zM680,847l11-1 5-3 -11,1zM674,850l12-1 5-3 -11,1zM669,853l11-1 6-3 -12,1zM664,857l11-2 5-3 -11,1zM659,860l11-1 5-4 -11,2zM654,864l11-2 5-3 -11,1zM649,868l11-2 5-4 -11,2zM644,871l11-1 5-4 -11,2zM639,876l11-2 5-4 -11,1zM634,880l11-2 5-4 -11,2zM629,884l11-2 5-4 -11,2zM624,889l11-2 5-5 -11,2zM619,893l11-1 5-5 -11,2zM614,898l11-2 5-4 -11,1z"/><path fill="#0ce01e" d="M609,903l11-2 5-5 -11,2zM604,908l11-2 5-5 -11,2zM599,913l11-2 5-5 -11,2zM594,918l11-2 5-5 -11,2zM588,924l12-2 5-6 -11,2zM583,929l12-2 5-5 -12,2zM578,935l12-2 5-6 -12,2zM573,940l12-2 5-5 -12,2zM568,946l12-2 5-6 -12,2zM564,952l11-2 5-6 -12,2zM559,958l11-2 5-6 -11,2zM554,964l11-2 5-6 -11,2z"/><path fill="#14ec28" d="M549,971l11-2 5-7 -11,2zM544,977l11-2 5-6 -11,2zM539,983l11-2 5-6 -11,2zM534,990l11-2 5-7 -11,2zM529,997l11-3 5-6 -11,2zM524,1003l12-2 4-7 -11,3zM519,1010l12-2 5-7 -12,2zM514,1017l12-2 5-7 -12,2zM509,1024l12-2 5-7 -12,2z"/><path fill="#26f43c" d="M504,1031l12-2 5-7 -12,2zM499,1038l12-2 5-7 -12,2zM495,1045l11-2 5-7 -12,2zM490,1052l11-2 5-7 -11,2zM485,1060l11-3 5-7 -11,2zM480,1067l12-2 4-8 -11,3zM475,1075l12-3 5-7 -12,2z"/><path fill="#00a406" d="M781,820l11,0 5,0 -11,0zM776,820l11,0 5,0 -11,0zM771,820l11,0 5,0 -11,0zM766,820l11,0 5,0 -11,0zM761,821l11-1 5,0 -11,0zM756,821l11,0 5-1 -11,1zM751,822l11,0 5-1 -11,0zM746,823l11,0 5-1 -11,0zM741,825l11-1 5-1 -11,0zM736,826l11-1 5-1 -11,1zM731,827l11,0 5-2 -11,1zM726,829l11-1 5-1 -11,0zM721,831l11-1 5-2 -11,1zM716,833l11-1 5-2 -11,1zM711,835l11-1 5-2 -11,1zM706,838l11-1 5-3 -11,1zM701,840l11-1 5-2 -11,1zM696,843l11-1 5-3 -11,1zM691,846l11-1 5-3 -11,1zM686,849l11-1 5-3 -11,1zM680,852l12-1 5-3 -11,1zM675,855l12-1 5-3 -12,1zM670,859l11-2 6-3 -12,1zM665,862l11-1 5-4 -11,2zM660,866l11-1 5-4 -11,1zM655,870l11-1 5-4 -11,1zM650,874l11-1 5-4 -11,1zM645,878l11-1 5-4 -11,1zM640,882l11-1 5-4 -11,1zM635,887l11-2 5-4 -11,1zM630,892l11-2 5-5 -11,2zM625,896l11-1 5-5 -11,2zM620,901l11-2 5-4 -11,1z"/><path fill="#0ce01e" d="M615,906l11-2 5-5 -11,2zM610,911l11-2 5-5 -11,2zM605,916l11-1 5-6 -11,2zM600,922l11-2 5-5 -11,1zM595,927l11-2 5-5 -11,2zM590,933l11-2 5-6 -11,2zM585,938l11-1 5-6 -11,2zM580,944l11-2 5-5 -11,1zM575,950l11-2 5-6 -11,2zM570,956l12-2 4-6 -11,2zM565,962l12-2 5-6 -12,2zM560,969l12-2 5-7 -12,2z"/><path fill="#14ec28" d="M555,975l12-2 5-6 -12,2zM550,981l12-2 5-6 -12,2zM545,988l12-2 5-7 -12,2zM540,994l12-2 5-6 -12,2zM536,1001l11-2 5-7 -12,2zM531,1008l11-2 5-7 -11,2zM526,1015l11-3 5-6 -11,2zM521,1022l11-3 5-7 -11,3zM516,1029l12-3 4-7 -11,3z"/><path fill="#26f43c" d="M511,1036l12-3 5-7 -12,3zM506,1043l12-3 5-7 -12,3zM501,1050l12-2 5-8 -12,3zM496,1057l12-2 5-7 -12,2zM492,1065l11-3 5-7 -12,2zM487,1072l12-2 4-8 -11,3z"/><path fill="#00a406" d="M792,820l11-1 5,1 -11,0zM787,820l11-1 5,0 -11,1zM782,820l11-1 5,0 -11,1zM777,820l11,0 5-1 -11,1zM772,820l11,0 5,0 -11,0zM767,821l11-1 5,0 -11,0zM762,822l11-1 5-1 -11,1zM757,823l11-1 5-1 -11,1zM752,824l11-1 5-1 -11,1zM747,825l11,0 5-2 -11,1zM742,827l11-1 5-1 -11,0zM737,828l11,0 5-2 -11,1zM732,830l11-1 5-1 -11,0zM727,832l11-1 5-2 -11,1zM722,834l11,0 5-3 -11,1zM717,837l11-1 5-2 -11,0zM712,839l11-1 5-2 -11,1zM707,842l11-1 5-3 -11,1zM702,845l11-1 5-3 -11,1zM697,848l11-1 5-3 -11,1zM692,851l11-1 5-3 -11,1zM687,854l11-1 5-3 -11,1zM681,857l12-1 5-3 -11,1zM676,861l12-1 5-4 -12,1zM671,865l12-2 5-3 -12,1zM666,869l12-2 5-4 -12,2zM661,873l12-2 5-4 -12,2zM656,877l12-2 5-4 -12,2zM651,881l12-1 5-5 -12,2zM646,885l12-1 5-4 -12,1zM641,890l12-1 5-5 -12,1zM636,895l12-2 5-4 -12,1zM631,899l12-1 5-5 -12,2zM626,904l12-1 5-5 -12,1z"/><path fill="#0ce01e" d="M621,909l12-1 5-5 -12,1zM616,915l12-2 5-5 -12,1zM611,920l12-2 5-5 -12,2zM606,925l12-1 5-6 -12,2zM601,931l12-2 5-5 -12,1zM596,937l12-2 5-6 -12,2zM591,942l12-1 5-6 -12,2zM586,948l12-2 5-5 -12,1zM582,954l11-2 5-6 -12,2zM577,960l11-2 5-6 -11,2zM572,967l11-2 5-7 -11,2z"/><path fill="#14ec28" d="M567,973l11-2 5-6 -11,2zM562,979l11-2 5-6 -11,2zM557,986l12-2 4-7 -11,2zM552,992l12-2 5-6 -12,2zM547,999l12-2 5-7 -12,2zM542,1006l12-2 5-7 -12,2zM537,1012l12-2 5-6 -12,2zM532,1019l12-2 5-7 -12,2zM528,1026l11-2 5-7 -12,2zM523,1033l11-2 5-7 -11,2z"/><path fill="#26f43c" d="M518,1040l12-2 4-7 -11,2zM513,1048l12-3 5-7 -12,2zM508,1055l12-2 5-8 -12,3zM503,1062l12-2 5-7 -12,2zM499,1070l11-3 5-7 -12,2z"/><path fill="#00a406" d="M803,819l10,0 5,1 -10,0zM798,819l10,0 5,0 -10,0zM793,819l10,0 5,0 -10,0zM788,820l11-1 4,0 -10,0zM783,820l11,0 5-1 -11,1zM778,820l11,0 5,0 -11,0zM773,821l11,0 5-1 -11,0zM768,822l11,0 5-1 -11,0zM763,823l11,0 5-1 -11,0zM758,825l11-1 5-1 -11,0zM753,826l11-1 5-1 -11,1zM748,828l11-1 5-2 -11,1zM743,829l11,0 5-2 -11,1zM738,831l11,0 5-2 -11,0zM733,834l11-1 5-2 -11,0zM728,836l11-1 5-2 -11,1zM723,838l11-1 5-2 -11,1zM718,841l11-1 5-3 -11,1zM713,844l11-1 5-3 -11,1zM708,847l11-1 5-3 -11,1zM703,850l11-1 5-3 -11,1zM698,853l11-1 5-3 -11,1zM693,856l11-1 5-3 -11,1zM688,860l11-1 5-4 -11,1zM683,863l11-1 5-3 -11,1zM678,867l11-1 5-4 -11,1zM673,871l11-1 5-4 -11,1zM668,875l11-1 5-4 -11,1zM663,880l11-2 5-4 -11,1zM658,884l11-1 5-5 -11,2zM653,889l11-2 5-4 -11,1zM648,893l11-1 5-5 -11,2zM643,898l11-1 5-5 -11,1zM638,903l11-2 5-4 -11,1zM633,908l11-2 5-5 -11,2z"/><path fill="#0ce01e" d="M628,913l11-1 5-6 -11,2zM623,918l11-1 5-5 -11,1zM618,924l11-2 5-5 -11,1zM613,929l11-1 5-6 -11,2zM608,935l11-2 5-5 -11,1zM603,941l11-2 5-6 -11,2zM598,946l12-1 4-6 -11,2zM593,952l12-1 5-6 -12,1zM588,958l12-1 5-6 -12,1zM583,965l12-2 5-6 -12,1zM578,971l12-2 5-6 -12,2z"/><path fill="#14ec28" d="M573,977l12-2 5-6 -12,2zM569,984l11-2 5-7 -12,2zM564,990l11-2 5-6 -11,2zM559,997l11-2 5-7 -11,2zM554,1004l12-2 4-7 -11,2zM549,1010l12-2 5-6 -12,2zM544,1017l12-2 5-7 -12,2zM539,1024l12-2 5-7 -12,2zM534,1031l12-2 5-7 -12,2z"/><path fill="#26f43c" d="M530,1038l11-2 5-7 -12,2zM525,1045l12-2 4-7 -11,2zM520,1053l12-2 5-8 -12,2zM515,1060l12-2 5-7 -12,2zM510,1067l12-2 5-7 -12,2z"/><path fill="#00a406" d="M813,819l11,0 5,1 -11,0zM808,819l11,0 5,0 -11,0zM803,819l11,0 5,0 -11,0zM799,819l10,0 5,0 -11,0zM794,820l10,0 5-1 -10,0zM789,820l10,0 5,0 -10,0zM784,821l10,0 5-1 -10,0zM779,822l10,0 5-1 -10,0zM774,823l11,0 4-1 -10,0zM769,824l11,0 5-1 -11,0zM764,825l11,0 5-1 -11,0zM759,827l11,0 5-2 -11,0zM754,829l11-1 5-1 -11,0zM749,831l11-1 5-2 -11,1zM744,833l11-1 5-2 -11,1zM739,835l11-1 5-2 -11,1zM734,837l11,0 5-3 -11,1zM729,840l11-1 5-2 -11,0zM724,843l11-1 5-3 -11,1zM719,846l11-1 5-3 -11,1zM714,849l11-1 5-3 -11,1zM709,852l11-1 5-3 -11,1zM704,855l11-1 5-3 -11,1zM699,859l11-1 5-4 -11,1zM694,862l11-1 5-3 -11,1zM689,866l11-1 5-4 -11,1zM684,870l11-1 5-4 -11,1zM679,874l11-1 5-4 -11,1zM674,878l11-1 5-4 -11,1zM669,883l11-1 5-5 -11,1zM664,887l11-1 5-4 -11,1zM659,892l11-1 5-5 -11,1zM654,897l11-2 5-4 -11,1zM649,901l11-1 5-5 -11,2zM644,906l11-1 5-5 -11,1zM639,912l12-2 4-5 -11,1z"/><path fill="#0ce01e" d="M634,917l12-2 5-5 -12,2zM629,922l12-1 5-6 -12,2zM624,928l12-2 5-5 -12,1zM619,933l12-1 5-6 -12,2zM614,939l12-2 5-5 -12,1zM610,945l11-2 5-6 -12,2zM605,951l11-2 5-6 -11,2zM600,957l11-2 5-6 -11,2zM595,963l11-2 5-6 -11,2zM590,969l11-2 5-6 -11,2zM585,975l12-1 4-7 -11,2z"/><path fill="#14ec28" d="M580,982l12-2 5-6 -12,1zM575,988l12-1 5-7 -12,2zM570,995l12-2 5-6 -12,1zM566,1002l11-2 5-7 -12,2zM561,1008l11-1 5-7 -11,2zM556,1015l12-2 4-6 -11,1zM551,1022l12-2 5-7 -12,2zM546,1029l12-2 5-7 -12,2zM541,1036l12-2 5-7 -12,2z"/><path fill="#26f43c" d="M537,1043l11-1 5-8 -12,2zM532,1051l11-2 5-7 -11,1zM527,1058l12-2 4-7 -11,2zM522,1065l12-2 5-7 -12,2z"/><path fill="#00a406" d="M824,819l11,1 4,0 -10,0zM819,819l11,0 5,1 -11-1zM814,819l11,0 5,0 -11,0zM809,819l11,0 5,0 -11,0zM804,820l11,0 5-1 -11,0zM799,820l11,0 5,0 -11,0zM794,821l11,0 5-1 -11,0zM789,822l11-1 5,0 -11,0zM785,823l10-1 5-1 -11,1zM780,824l10,0 5-2 -10,1zM775,825l11,0 4-1 -10,0zM770,827l11-1 5-1 -11,0zM765,828l11,0 5-2 -11,1z"/><path fill="#008a02" d="M760,830l11,0 5-2 -11,0zM755,832l11,0 5-2 -11,0z"/><path fill="#00a406" d="M750,834l11,0 5-2 -11,0zM745,837l11-1 5-2 -11,0zM740,839l11,0 5-3 -11,1zM735,842l11-1 5-2 -11,0zM730,845l11-1 5-3 -11,1zM725,848l11-1 5-3 -11,1zM720,851l11-1 5-3 -11,1zM715,854l11,0 5-4 -11,1zM710,858l11-1 5-3 -11,0zM705,861l11,0 5-4 -11,1zM700,865l11-1 5-3 -11,0zM695,869l11-1 5-4 -11,1zM690,873l11-1 5-4 -11,1zM685,877l11-1 5-4 -11,1zM680,882l12-1 4-5 -11,1zM675,886l12-1 5-4 -12,1zM670,891l12-1 5-5 -12,1zM665,895l12-1 5-4 -12,1zM660,900l12-1 5-5 -12,1zM655,905l12-1 5-5 -12,1zM651,910l11-1 5-5 -12,1zM646,915l11-1 5-5 -11,1z"/><path fill="#0ce01e" d="M641,921l11-1 5-6 -11,1zM636,926l11-1 5-5 -11,1zM631,932l11-2 5-5 -11,1zM626,937l11-1 5-6 -11,2zM621,943l12-1 4-6 -11,1zM616,949l12-1 5-6 -12,1zM611,955l12-1 5-6 -12,1zM606,961l12-1 5-6 -12,1zM601,967l12-1 5-6 -12,1zM597,974l11-2 5-6 -12,1z"/><path fill="#14ec28" d="M592,980l11-1 5-7 -11,2zM587,987l12-2 4-6 -11,1zM582,993l12-1 5-7 -12,2zM577,1000l12-2 5-6 -12,1zM572,1007l12-2 5-7 -12,2zM568,1013l11-1 5-7 -12,2zM563,1020l11-1 5-7 -11,1zM558,1027l12-1 4-7 -11,1zM553,1034l12-1 5-7 -12,1zM548,1042l12-2 5-7 -12,1z"/><path fill="#26f43c" d="M543,1049l12-2 5-7 -12,2zM539,1056l11-2 5-7 -12,2zM534,1063l12-2 4-7 -11,2z"/><path fill="#00a406" d="M835,820l10,0 5,1 -11-1zM830,819l10,1 5,0 -10,0zM825,819l11,0 4,1 -10-1zM820,819l11,0 5,0 -11,0zM815,820l11,0 5-1 -11,0zM810,820l11,0 5,0 -11,0zM805,821l11,0 5-1 -11,0zM800,821l11,0 5,0 -11,0zM795,822l11,0 5-1 -11,0zM790,824l11-1 5-1 -11,0zM786,825l10,0 5-2 -11,1z"/><path fill="#008a02" d="M781,826l11,0 4-1 -10,0zM776,828l11,0 5-2 -11,0zM771,830l11,0 5-2 -11,0zM766,832l11,0 5-2 -11,0zM761,834l11,0 5-2 -11,0zM756,836l11,0 5-2 -11,0zM751,839l11-1 5-2 -11,0zM746,841l11,0 5-3 -11,1z"/><path fill="#00a406" d="M741,844l11,0 5-3 -11,0zM736,847l11,0 5-3 -11,0zM731,850l11,0 5-3 -11,0zM726,854l11-1 5-3 -11,0zM721,857l11-1 5-3 -11,1zM716,861l11-1 5-4 -11,1zM711,864l12,0 4-4 -11,1zM706,868l12-1 5-3 -12,0zM701,872l12-1 5-4 -12,1zM696,876l12-1 5-4 -12,1zM692,881l11-1 5-5 -12,1zM687,885l11-1 5-4 -11,1zM682,890l11-1 5-5 -11,1zM677,894l11-1 5-4 -11,1zM672,899l11-1 5-5 -11,1zM667,904l11-1 5-5 -11,1zM662,909l11-1 5-5 -11,1zM657,914l12-1 4-5 -11,1z"/><path fill="#0ce01e" d="M652,920l12-2 5-5 -12,1zM647,925l12-1 5-6 -12,2zM642,930l12-1 5-5 -12,1zM637,936l12-1 5-6 -12,1zM633,942l11-1 5-6 -12,1zM628,948l11-2 5-5 -11,1zM623,954l11-2 5-6 -11,2zM618,960l12-2 4-6 -11,2zM613,966l12-1 5-7 -12,2zM608,972l12-1 5-6 -12,1zM603,979l12-2 5-6 -12,1z"/><path fill="#14ec28" d="M599,985l11-1 5-7 -12,2zM594,992l11-2 5-6 -11,1zM589,998l12-1 4-7 -11,2zM584,1005l12-2 5-6 -12,1zM579,1012l12-2 5-7 -12,2zM574,1019l12-2 5-7 -12,2zM570,1026l11-2 5-7 -12,2zM565,1033l12-2 4-7 -11,2zM560,1040l12-2 5-7 -12,2z"/><path fill="#26f43c" d="M555,1047l12-2 5-7 -12,2zM550,1054l12-1 5-8 -12,2zM546,1061l12-1 4-7 -12,1z"/><path fill="#00a406" d="M845,820l11,0 5,1 -11,0zM840,820l11,0 5,0 -11,0zM836,819l10,1 5,0 -11,0zM831,819l10,1 5,0 -10-1zM826,820l11,0 4,0 -10-1zM821,820l11,0 5,0 -11,0zM816,821l11,0 5-1 -11,0zM811,821l11,1 5-1 -11,0zM806,822l11,0 5,0 -11-1zM801,823l11,0 5-1 -11,0z"/><path fill="#008a02" d="M796,825l11,0 5-2 -11,0zM792,826l10,0 5-1 -11,0zM787,828l11,0 4-2 -10,0zM782,830l11-1 5-1 -11,0zM777,832l11-1 5-2 -11,1zM772,834l11-1 5-2 -11,1zM767,836l11,0 5-3 -11,1zM762,838l11,0 5-2 -11,0zM757,841l11,0 5-3 -11,0zM752,844l11-1 5-2 -11,0z"/><path fill="#00a406" d="M747,847l11-1 5-3 -11,1zM742,850l11-1 5-3 -11,1zM737,853l12-1 4-3 -11,1zM732,856l12,0 5-4 -12,1zM727,860l12-1 5-3 -12,0zM723,864l11-1 5-4 -12,1zM718,867l11,0 5-4 -11,1zM713,871l11,0 5-4 -11,0zM708,875l11,0 5-4 -11,0zM703,880l11-1 5-4 -11,0zM698,884l11-1 5-4 -11,1zM693,889l11-1 5-5 -11,1zM688,893l12-1 4-4 -11,1zM683,898l12-1 5-5 -12,1zM678,903l12-1 5-5 -12,1zM673,908l12-1 5-5 -12,1zM669,913l11-1 5-5 -12,1zM664,918l11-1 5-5 -11,1z"/><path fill="#0ce01e" d="M659,924l11-1 5-6 -11,1zM654,929l11-1 5-5 -11,1zM649,935l12-1 4-6 -11,1zM644,941l12-2 5-5 -12,1zM639,946l12-1 5-6 -12,2zM634,952l12-1 5-6 -12,1zM630,958l11-1 5-6 -12,1zM625,965l11-2 5-6 -11,1zM620,971l12-1 4-7 -11,2zM615,977l12-1 5-6 -12,1zM610,984l12-2 5-6 -12,1z"/><path fill="#14ec28" d="M605,990l12-1 5-7 -12,2zM601,997l11-2 5-6 -12,1zM596,1003l11-1 5-7 -11,2zM591,1010l12-1 4-7 -11,1zM586,1017l12-1 5-7 -12,1zM581,1024l12-1 5-7 -12,1zM577,1031l11-1 5-7 -12,1zM572,1038l12-1 4-7 -11,1zM567,1045l12-1 5-7 -12,1z"/><path fill="#26f43c" d="M562,1053l12-2 5-7 -12,1zM558,1060l11-2 5-7 -12,2z"/><path fill="#00a406" d="M856,820l10,1 5,1 -10-1zM851,820l11,1 4,0 -10-1zM846,820l11,0 5,1 -11-1zM841,820l11,0 5,0 -11,0zM837,820l10,0 5,0 -11,0zM832,820l10,1 5-1 -10,0zM827,821l11,0 4,0 -10-1zM822,822l11,0 5-1 -11,0zM817,822l11,1 5-1 -11,0z"/><path fill="#008a02" d="M812,823l11,1 5-1 -11-1zM807,825l11,0 5-1 -11-1zM802,826l11,0 5-1 -11,0zM798,828l10,0 5-2 -11,0zM793,829l11,0 4-1 -10,0zM788,831l11,0 5-2 -11,0zM783,833l11,0 5-2 -11,0zM778,836l11,0 5-3 -11,0zM773,838l11,0 5-2 -11,0zM768,841l11-1 5-2 -11,0zM763,843l11,0 5-3 -11,1zM758,846l11,0 5-3 -11,0zM753,849l12,0 4-3 -11,0z"/><path fill="#00a406" d="M749,852l11,0 5-3 -12,0zM744,856l11-1 5-3 -11,0zM739,859l11,0 5-4 -11,1zM734,863l11-1 5-3 -11,0zM729,867l11-1 5-4 -11,1zM724,871l11-1 5-4 -11,1zM719,875l11-1 5-4 -11,1zM714,879l12-1 4-4 -11,1zM709,883l12,0 5-5 -12,1zM704,888l12-1 5-4 -12,0zM700,892l11,0 5-5 -12,1zM695,897l11-1 5-4 -11,0zM690,902l11-1 5-5 -11,1zM685,907l11-1 5-5 -11,1zM680,912l11-1 5-5 -11,1zM675,917l12-1 4-5 -11,1zM670,923l12-1 5-6 -12,1z"/><path fill="#0ce01e" d="M665,928l12-1 5-5 -12,1zM661,934l11-1 5-6 -12,1zM656,939l11,0 5-6 -11,1zM651,945l11-1 5-5 -11,0zM646,951l12-1 4-6 -11,1zM641,957l12-1 5-6 -12,1zM636,963l12-1 5-6 -12,1zM632,970l11-2 5-6 -12,1zM627,976l11-1 5-7 -11,2zM622,982l12-1 4-6 -11,1z"/><path fill="#14ec28" d="M617,989l12-1 5-7 -12,1zM612,995l12-1 5-6 -12,1zM607,1002l12-1 5-7 -12,1zM603,1009l11-1 5-7 -12,1zM598,1016l12-2 4-6 -11,1zM593,1023l12-2 5-7 -12,2zM588,1030l12-2 5-7 -12,2zM584,1037l11-2 5-7 -12,2zM579,1044l12-2 4-7 -11,2z"/><path fill="#26f43c" d="M574,1051l12-1 5-8 -12,2zM569,1058l12-1 5-7 -12,1z"/><path fill="#00a406" d="M866,821l11,1 5,0 -11,0zM862,821l10,0 5,1 -11-1zM857,820l11,1 4,0 -10,0zM852,820l11,1 5,0 -11-1zM847,820l11,1 5,0 -11-1zM842,821l11,0 5,0 -11-1zM838,821l10,0 5,0 -11,0zM833,822l11,0 4-1 -10,0z"/><path fill="#008a02" d="M828,823l11,0 5-1 -11,0zM823,824l11,0 5-1 -11,0zM818,825l11,0 5-1 -11,0zM813,826l11,0 5-1 -11,0zM808,828l11,0 5-2 -11,0zM804,829l11,0 4-1 -11,0zM799,831l11,0 5-2 -11,0zM794,833l11,0 5-2 -11,0zM789,836l11-1 5-2 -11,0zM784,838l11,0 5-3 -11,1zM779,840l11,0 5-2 -11,0zM774,843l11,0 5-3 -11,0zM769,846l12,0 4-3 -11,0zM765,849l11,0 5-3 -12,0zM760,852l11,0 5-3 -11,0z"/><path fill="#00a406" d="M755,855l11,0 5-3 -11,0zM750,859l11,0 5-4 -11,0zM745,862l11,0 5-3 -11,0zM740,866l11,0 5-4 -11,0zM735,870l12,0 4-4 -11,0zM730,874l12,0 5-4 -12,0zM726,878l11,0 5-4 -12,0zM721,883l11-1 5-4 -11,0zM716,887l11,0 5-5 -11,1zM711,892l11-1 5-4 -11,0zM706,896l11,0 5-5 -11,1zM701,901l12,0 4-5 -11,0zM696,906l12,0 5-5 -12,0zM691,911l12,0 5-5 -12,0zM687,916l11,0 5-5 -12,0zM682,922l11-1 5-5 -11,0z"/><path fill="#0ce01e" d="M677,927l11-1 5-5 -11,1zM672,933l12-1 4-6 -11,1zM667,939l12-1 5-6 -12,1zM662,944l12-1 5-5 -12,1zM658,950l11-1 5-6 -12,1zM653,956l11-1 5-6 -11,1zM648,962l12-1 4-6 -11,1zM643,968l12-1 5-6 -12,1zM638,975l12-1 5-7 -12,1zM634,981l11-1 5-6 -12,1zM629,988l11-1 5-7 -11,1z"/><path fill="#14ec28" d="M624,994l12-1 4-6 -11,1zM619,1001l12-1 5-7 -12,1zM614,1008l12-2 5-6 -12,1zM610,1014l11-1 5-7 -12,2zM605,1021l12-1 4-7 -11,1zM600,1028l12-1 5-7 -12,1zM595,1035l12-1 5-7 -12,1zM591,1042l11-1 5-7 -12,1zM586,1050l12-2 4-7 -11,1z"/><path fill="#26f43c" d="M581,1057l12-1 5-8 -12,2z"/><path fill="#00a406" d="M877,822l11,0 4,1 -10-1zM872,821l11,1 5,0 -11,0zM868,821l10,1 5,0 -11-1zM863,821l10,0 5,1 -10-1zM858,821l11,0 4,0 -10,0zM853,821l11,1 5-1 -11,0zM848,821l11,1 5,0 -11-1zM844,822l10,1 5-1 -11-1z"/><path fill="#008a02" d="M839,823l11,0 4,0 -10-1zM834,824l11,0 5-1 -11,0zM829,825l11,0 5-1 -11,0zM824,826l11,1 5-2 -11,0zM819,828l11,0 5-1 -11-1zM815,829l11,1 4-2 -11,0zM810,831l11,1 5-2 -11-1zM805,833l11,1 5-2 -11-1zM800,835l11,1 5-2 -11-1zM795,838l11,0 5-2 -11-1zM790,840l11,0 5-2 -11,0zM785,843l12,0 4-3 -11,0zM781,846l11,0 5-3 -12,0zM776,849l11,0 5-3 -11,0zM771,852l11,0 5-3 -11,0zM766,855l11,0 5-3 -11,0z"/><path fill="#00a406" d="M761,859l11-1 5-3 -11,0zM756,862l12,0 4-4 -11,1zM751,866l12,0 5-4 -12,0zM747,870l11-1 5-3 -12,0zM742,874l11-1 5-4 -11,1zM737,878l11-1 5-4 -11,1zM732,882l11,0 5-5 -11,1zM727,887l12-1 4-4 -11,0zM722,891l12,0 5-5 -12,1zM717,896l12-1 5-4 -12,0zM713,901l11-1 5-5 -12,1zM708,906l11-1 5-5 -11,1zM703,911l11-1 5-5 -11,1zM698,916l12-1 4-5 -11,1zM693,921l12-1 5-5 -12,1zM688,926l12,0 5-6 -12,1z"/><path fill="#0ce01e" d="M684,932l11-1 5-5 -12,0zM679,938l11-1 5-6 -11,1zM674,943l12,0 4-6 -11,1zM669,949l12,0 5-6 -12,0zM664,955l12-1 5-5 -12,0zM660,961l11-1 5-6 -12,1zM655,967l11,0 5-7 -11,1zM650,974l12-1 4-6 -11,0zM645,980l12-1 5-6 -12,1zM640,987l12-1 5-7 -12,1z"/><path fill="#14ec28" d="M636,993l11-1 5-6 -12,1zM631,1000l12-1 4-7 -11,1zM626,1006l12-1 5-6 -12,1zM621,1013l12-1 5-7 -12,1zM617,1020l11-1 5-7 -12,1zM612,1027l12-1 4-7 -11,1zM607,1034l12-1 5-7 -12,1zM602,1041l12-1 5-7 -12,1zM598,1048l12-1 4-7 -12,1z"/><path fill="#26f43c" d="M593,1056l12-2 5-7 -12,1z"/><path fill="#00a406" d="M888,822l10,1 5,1 -11-1zM883,822l11,1 4,0 -10-1zM878,822l11,0 5,1 -11-1zM873,821l11,1 5,0 -11,0zM869,821l10,1 5,0 -11-1zM864,822l11,0 4,0 -10-1zM859,822l11,1 5-1 -11,0zM854,823l11,0 5,0 -11-1z"/><path fill="#008a02" d="M850,823l10,1 5-1 -11,0zM845,824l11,1 4-1 -10-1zM840,825l11,1 5-1 -11-1zM835,827l11,0 5-1 -11-1zM830,828l11,1 5-2 -11,0zM826,830l11,0 4-1 -11-1zM821,832l11,0 5-2 -11,0zM816,834l11,0 5-2 -11,0zM811,836l11,0 5-2 -11,0zM806,838l11,0 5-2 -11,0zM801,840l12,1 4-3 -11,0zM797,843l11,0 5-2 -12-1zM792,846l11,0 5-3 -11,0zM787,849l11,0 5-3 -11,0zM782,852l11,0 5-3 -11,0zM777,855l11,0 5-3 -11,0z"/><path fill="#00a406" d="M772,858l12,0 4-3 -11,0zM768,862l11,0 5-4 -12,0zM763,866l11-1 5-3 -11,0zM758,869l11,0 5-4 -11,1zM753,873l11,0 5-4 -11,0zM748,877l12,0 4-4 -11,0zM743,882l12-1 5-4 -12,0zM739,886l11,0 5-5 -12,1zM734,891l11-1 5-4 -11,0zM729,895l11,0 5-5 -11,1zM724,900l12,0 4-5 -11,0zM719,905l12,0 5-5 -12,0zM714,910l12,0 5-5 -12,0zM710,915l11,0 5-5 -12,0zM705,920l11,0 5-5 -11,0zM700,926l12-1 4-5 -11,0z"/><path fill="#0ce01e" d="M695,931l12,0 5-6 -12,1zM690,937l12-1 5-5 -12,0zM686,943l11-1 5-6 -12,1zM681,949l11-1 5-6 -11,1zM676,954l12,0 4-6 -11,1zM671,960l12,0 5-6 -12,0zM666,967l12-1 5-6 -12,0zM662,973l11-1 5-6 -12,1zM657,979l12-1 4-6 -11,1zM652,986l12-1 5-7 -12,1zM647,992l12-1 5-6 -12,1z"/><path fill="#14ec28" d="M643,999l11-1 5-7 -12,1zM638,1005l12,0 4-7 -11,1zM633,1012l12-1 5-6 -12,0zM628,1019l12-1 5-7 -12,1zM624,1026l12-1 4-7 -12,1zM619,1033l12-1 5-7 -12,1zM614,1040l12-1 5-7 -12,1zM610,1047l11-1 5-7 -12,1zM605,1054l12,0 4-8 -11,1z"/><path fill="#00a406" d="M898,823l11,1 5,1 -11-1zM894,823l10,1 5,0 -11-1zM889,822l11,1 4,1 -10-1zM884,822l11,1 5,0 -11-1zM879,822l11,1 5,0 -11-1zM875,822l10,1 5,0 -11-1zM870,823l11,0 4,0 -10-1zM865,823l11,1 5-1 -11,0z"/><path fill="#008a02" d="M860,824l11,1 5-1 -11-1zM856,825l11,0 4,0 -11-1zM851,826l11,0 5-1 -11,0zM846,827l11,1 5-2 -11,0zM841,829l11,0 5-1 -11-1zM837,830l10,1 5-2 -11,0zM832,832l11,1 4-2 -10-1zM827,834l11,1 5-2 -11-1zM822,836l11,1 5-2 -11-1zM817,838l11,1 5-2 -11-1zM813,841l11,0 4-2 -11-1zM808,843l11,0 5-2 -11,0zM803,846l11,0 5-3 -11,0zM798,849l11,0 5-3 -11,0zM793,852l11,0 5-3 -11,0zM788,855l12,0 4-3 -11,0zM784,858l11,0 5-3 -12,0z"/><path fill="#00a406" d="M779,862l11,0 5-4 -11,0zM774,865l11,0 5-3 -11,0zM769,869l12,0 4-4 -11,0zM764,873l12,0 5-4 -12,0zM760,877l11,0 5-4 -12,0zM755,881l11,0 5-4 -11,0zM750,886l11,0 5-5 -11,0zM745,890l12,0 4-4 -11,0zM740,895l12,0 5-5 -12,0zM736,900l11-1 5-4 -12,0zM731,905l11-1 5-5 -11,1zM726,910l11-1 5-5 -11,1zM721,915l12-1 4-5 -11,1zM716,920l12,0 5-6 -12,1zM712,925l11,0 5-5 -12,0zM707,931l11-1 5-5 -11,0z"/><path fill="#0ce01e" d="M702,936l12,0 4-6 -11,1zM697,942l12,0 5-6 -12,0zM692,948l12-1 5-5 -12,0zM688,954l11-1 5-6 -12,1zM683,960l12-1 4-6 -11,1zM678,966l12-1 5-6 -12,1zM673,972l12,0 5-7 -12,1zM669,978l11,0 5-6 -12,0zM664,985l12-1 4-6 -11,0zM659,991l12,0 5-7 -12,1z"/><path fill="#14ec28" d="M654,998l12-1 5-6 -12,0zM650,1005l11-1 5-7 -12,1zM645,1011l12,0 4-7 -11,1zM640,1018l12-1 5-6 -12,0zM636,1025l11-1 5-7 -12,1zM631,1032l12-1 4-7 -11,1zM626,1039l12-1 5-7 -12,1zM621,1046l12,0 5-8 -12,1zM617,1054l12-1 4-7 -12,0z"/><path fill="#00a406" d="M909,824l10,2 5,0 -10-1zM904,824l11,1 4,1 -10-2zM900,823l10,1 5,1 -11-1zM895,823l11,1 4,0 -10-1zM890,823l11,1 5,0 -11-1zM885,823l11,1 5,0 -11-1zM881,823l10,1 5,0 -11-1zM876,824l11,1 4-1 -10-1z"/><path fill="#008a02" d="M871,825l11,0 5,0 -11-1zM867,825l10,1 5-1 -11,0zM862,826l11,1 4-1 -10-1zM857,828l11,0 5-1 -11-1zM852,829l11,1 5-2 -11,0zM847,831l11,1 5-2 -11-1zM843,833l11,1 4-2 -11-1zM838,835l11,1 5-2 -11-1zM833,837l11,1 5-2 -11-1zM828,839l11,1 5-2 -11-1zM824,841l11,1 4-2 -11-1zM819,843l11,1 5-2 -11-1zM814,846l11,0 5-2 -11-1zM809,849l11,0 5-3 -11,0zM804,852l12,0 4-3 -11,0zM800,855l11,0 5-3 -12,0zM795,858l11,1 5-4 -11,0zM790,862l11,0 5-3 -11-1z"/><path fill="#00a406" d="M785,865l12,1 4-4 -11,0zM781,869l11,0 5-3 -12-1zM776,873l11,0 5-4 -11,0zM771,877l11,0 5-4 -11,0zM766,881l12,0 4-4 -11,0zM761,886l12,0 5-5 -12,0zM757,890l11,0 5-4 -12,0zM752,895l11,0 5-5 -11,0zM747,899l11,0 5-4 -11,0zM742,904l12,0 4-5 -11,0zM737,909l12,0 5-5 -12,0zM733,914l11,0 5-5 -12,0zM728,920l11-1 5-5 -11,0zM723,925l12,0 4-6 -11,1zM718,930l12,0 5-5 -12,0z"/><path fill="#0ce01e" d="M714,936l11,0 5-6 -12,0zM709,942l11-1 5-5 -11,0zM704,947l12,0 4-6 -11,1zM699,953l12,0 5-6 -12,0zM695,959l11,0 5-6 -12,0zM690,965l11,0 5-6 -11,0zM685,972l12-1 4-6 -11,0zM680,978l12-1 5-6 -12,1zM676,984l11,0 5-7 -12,1zM671,991l12-1 4-6 -11,0z"/><path fill="#14ec28" d="M666,997l12,0 5-7 -12,1zM661,1004l12-1 5-6 -12,0zM657,1011l12-1 4-7 -12,1zM652,1017l12,0 5-7 -12,1zM647,1024l12,0 5-7 -12,0zM643,1031l12,0 4-7 -12,0zM638,1038l12,0 5-7 -12,0zM633,1046l12-1 5-7 -12,0zM629,1053l12-1 4-7 -12,1z"/><path fill="#00a406" d="M919,826l11,1 5,1 -11-2zM915,825l10,1 5,1 -11-1zM910,824l11,2 4,0 -10-1zM906,824l10,1 5,1 -11-2zM901,824l11,1 4,0 -10-1zM896,824l11,1 5,0 -11-1zM891,824l11,1 5,0 -11-1zM887,825l11,1 4-1 -11-1z"/><path fill="#008a02" d="M882,825l11,1 5,0 -11-1zM877,826l11,1 5-1 -11-1zM873,827l11,1 4-1 -11-1zM868,828l11,1 5-1 -11-1zM863,830l11,1 5-2 -11-1zM858,832l11,1 5-2 -11-1zM854,834l11,1 4-2 -11-1zM849,836l11,1 5-2 -11-1zM844,838l11,1 5-2 -11-1zM839,840l12,1 4-2 -11-1zM835,842l11,1 5-2 -12-1zM830,844l11,1 5-2 -11-1zM825,846l11,1 5-2 -11-1zM820,849l12,1 4-3 -11-1zM816,852l11,1 5-3 -12-1zM811,855l11,1 5-3 -11-1zM806,859l11,0 5-3 -11-1zM801,862l12,0 4-3 -11,0z"/><path fill="#00a406" d="M797,866l11,0 5-4 -12,0zM792,869l11,1 5-4 -11,0zM787,873l11,0 5-3 -11-1zM782,877l12,0 4-4 -11,0zM778,881l11,0 5-4 -12,0zM773,886l11,0 5-5 -11,0zM768,890l11,0 5-4 -11,0zM763,895l12,0 4-5 -11,0zM758,899l12,0 5-4 -12,0zM754,904l11,0 5-5 -12,0zM749,909l11,0 5-5 -11,0zM744,914l12,0 4-5 -11,0zM739,919l12,0 5-5 -12,0zM735,925l11,0 5-6 -12,0zM730,930l11,0 5-5 -11,0z"/><path fill="#0ce01e" d="M725,936l12-1 4-5 -11,0zM720,941l12,0 5-6 -12,1zM716,947l11,0 5-6 -12,0zM711,953l12,0 4-6 -11,0zM706,959l12,0 5-6 -12,0zM701,965l12,0 5-6 -12,0zM697,971l11,0 5-6 -12,0zM692,977l12,0 4-6 -11,0zM687,984l12-1 5-6 -12,0zM683,990l11,0 5-7 -12,1zM678,997l12-1 4-6 -11,0z"/><path fill="#14ec28" d="M673,1003l12,0 5-7 -12,1zM669,1010l11,0 5-7 -12,0zM664,1017l12-1 4-6 -11,0zM659,1024l12-1 5-7 -12,1zM655,1031l11-1 5-7 -12,1zM650,1038l12-1 4-7 -11,1zM645,1045l12-1 5-7 -12,1zM641,1052l11-1 5-7 -12,1z"/><path fill="#00a406" d="M930,827l11,1 4,1 -10-1zM925,826l11,2 5,0 -11-1zM921,826l10,1 5,1 -11-2zM916,825l11,2 4,0 -10-1zM912,825l10,1 5,1 -11-2zM907,825l11,1 4,0 -10-1zM902,825l11,2 5-1 -11-1zM898,826l10,1 5,0 -11-2z"/><path fill="#008a02" d="M893,826l11,1 4,0 -10-1zM888,827l11,1 5-1 -11-1zM884,828l10,1 5-1 -11-1zM879,829l11,1 4-1 -10-1zM874,831l11,1 5-2 -11-1zM869,833l11,1 5-2 -11-1zM865,835l11,1 4-2 -11-1zM860,837l11,1 5-2 -11-1zM855,839l11,1 5-2 -11-1zM851,841l11,1 4-2 -11-1zM846,843l11,1 5-2 -11-1zM841,845l11,1 5-2 -11-1zM836,847l11,1 5-2 -11-1zM832,850l11,0 4-2 -11-1zM827,853l11,0 5-3 -11,0zM822,856l11,0 5-3 -11,0zM817,859l12,0 4-3 -11,0zM813,862l11,1 5-4 -12,0z"/><path fill="#00a406" d="M808,866l11,0 5-3 -11-1zM803,870l11,0 5-4 -11,0zM798,873l12,1 4-4 -11,0zM794,877l11,1 5-4 -12-1zM789,881l11,1 5-4 -11-1zM784,886l12,0 4-4 -11-1zM779,890l12,0 5-4 -12,0zM775,895l11,0 5-5 -12,0zM770,899l11,0 5-4 -11,0zM765,904l12,0 4-5 -11,0zM760,909l12,0 5-5 -12,0zM756,914l11,0 5-5 -12,0zM751,919l11,0 5-5 -11,0zM746,925l12,0 4-6 -11,0zM741,930l12,0 5-5 -12,0zM737,935l11,0 5-5 -12,0z"/><path fill="#0ce01e" d="M732,941l12,0 4-6 -11,0zM727,947l12,0 5-6 -12,0zM723,953l11,0 5-6 -12,0zM718,959l12-1 4-5 -11,0zM713,965l12-1 5-6 -12,1zM708,971l12,0 5-7 -12,1zM704,977l11,0 5-6 -12,0zM699,983l12,0 4-6 -11,0zM694,990l12,0 5-7 -12,0zM690,996l11,0 5-6 -12,0z"/><path fill="#14ec28" d="M685,1003l12,0 4-7 -11,0zM680,1010l12-1 5-6 -12,0zM676,1016l11,0 5-7 -12,1zM671,1023l12,0 4-7 -11,0zM666,1030l12,0 5-7 -12,0zM662,1037l12,0 4-7 -12,0zM657,1044l12,0 5-7 -12,0zM652,1051l12,0 5-7 -12,0z"/><path fill="#00a406" d="M941,828l10,2 5,1 -11-2zM936,828l11,1 4,1 -10-2zM931,827l11,1 5,1 -11-1zM927,827l11,1 4,0 -11-1zM922,826l11,2 5,0 -11-1zM918,826l10,2 5,0 -11-2zM913,827l11,1 4,0 -10-2zM908,827l11,1 5,0 -11-1z"/><path fill="#008a02" d="M904,827l11,2 4-1 -11-1zM899,828l11,1 5,0 -11-2zM894,829l11,1 5-1 -11-1zM890,830l11,1 4-1 -11-1zM885,832l11,1 5-2 -11-1zM880,834l11,1 5-2 -11-1zM876,836l11,1 4-2 -11-1zM871,838l11,1 5-2 -11-1zM866,840l11,1 5-2 -11-1zM862,842l11,1 4-2 -11-1zM857,844l11,1 5-2 -11-1zM852,846l11,1 5-2 -11-1zM847,848l12,1 4-2 -11-1zM843,850l11,1 5-2 -12-1zM838,853l11,1 5-3 -11-1zM833,856l12,1 4-3 -11-1zM829,859l11,1 5-3 -12-1zM824,863l11,0 5-3 -11-1zM819,866l11,1 5-4 -11,0z"/><path fill="#00a406" d="M814,870l12,0 4-3 -11-1zM810,874l11,0 5-4 -12,0zM805,878l11,0 5-4 -11,0zM800,882l12,0 4-4 -11,0zM796,886l11,0 5-4 -12,0zM791,890l11,1 5-5 -11,0zM786,895l12,0 4-4 -11-1zM781,899l12,1 5-5 -12,0zM777,904l11,1 5-5 -12-1zM772,909l11,0 5-4 -11-1zM767,914l12,0 4-5 -11,0zM762,919l12,0 5-5 -12,0zM758,925l11,0 5-6 -12,0zM753,930l12,0 4-5 -11,0zM748,935l12,0 5-5 -12,0z"/><path fill="#0ce01e" d="M744,941l11,0 5-6 -12,0zM739,947l12,0 4-6 -11,0zM734,953l12,0 5-6 -12,0zM730,958l11,0 5-5 -12,0zM725,964l12,0 4-6 -11,0zM720,971l12,0 5-7 -12,0zM715,977l12,0 5-6 -12,0zM711,983l12,0 4-6 -12,0zM706,990l12-1 5-6 -12,0zM701,996l12,0 5-7 -12,1z"/><path fill="#14ec28" d="M697,1003l12,0 4-7 -12,0zM692,1009l12,0 5-6 -12,0zM687,1016l12,0 5-7 -12,0zM683,1023l12,0 4-7 -12,0zM678,1030l12,0 5-7 -12,0zM674,1037l11,0 5-7 -12,0zM669,1044l12,0 4-7 -11,0zM664,1051l12,0 5-7 -12,0z"/><path fill="#00a406" d="M951,830l11,2 4,1 -10-2zM947,829l10,2 5,1 -11-2zM942,828l11,2 4,1 -10-2zM938,828l10,2 5,0 -11-2zM933,828l11,1 4,1 -10-2zM928,828l11,1 5,0 -11-1zM924,828l11,1 4,0 -11-1zM919,828l11,2 5-1 -11-1zM915,829l10,1 5,0 -11-2z"/><path fill="#008a02" d="M910,829l11,2 4-1 -10-1zM905,830l11,1 5,0 -11-2zM901,831l11,1 4-1 -11-1zM896,833l11,1 5-2 -11-1zM891,835l11,0 5-1 -11-1zM887,837l11,0 4-2 -11,0zM882,839l11,1 5-3 -11,0zM877,841l11,1 5-2 -11-1zM873,843l11,1 4-2 -11-1zM868,845l11,1 5-2 -11-1zM863,847l11,1 5-2 -11-1zM859,849l11,1 4-2 -11-1zM854,851l11,1 5-2 -11-1zM849,854l11,1 5-3 -11-1zM845,857l11,1 4-3 -11-1zM840,860l11,1 5-3 -11-1zM835,863l11,1 5-3 -11-1zM830,867l12,0 4-3 -11-1z"/><path fill="#00a406" d="M826,870l11,1 5-4 -12,0zM821,874l11,1 5-4 -11-1zM816,878l12,1 4-4 -11-1zM812,882l11,1 5-4 -12-1zM807,886l11,1 5-4 -11-1zM802,891l12,0 4-4 -11-1zM798,895l11,1 5-5 -12,0zM793,900l11,0 5-4 -11-1zM788,905l12,0 4-5 -11,0zM783,909l12,1 5-5 -12,0zM779,914l11,1 5-5 -12-1zM774,919l12,1 4-5 -11-1zM769,925l12,0 5-5 -12-1zM765,930l11,0 5-5 -12,0zM760,935l12,1 4-6 -11,0z"/><path fill="#0ce01e" d="M755,941l12,0 5-5 -12-1zM751,947l11,0 5-6 -12,0zM746,953l12,0 4-6 -11,0zM741,958l12,1 5-6 -12,0zM737,964l11,1 5-6 -12-1zM732,971l12,0 4-6 -11-1zM727,977l12,0 5-6 -12,0zM723,983l11,0 5-6 -12,0zM718,989l12,1 4-7 -11,0zM713,996l12,0 5-6 -12-1zM709,1003l11,0 5-7 -12,0z"/><path fill="#14ec28" d="M704,1009l12,0 4-6 -11,0zM699,1016l12,0 5-7 -12,0zM695,1023l12,0 4-7 -12,0zM690,1030l12,0 5-7 -12,0zM685,1037l12,0 5-7 -12,0zM681,1044l12,0 4-7 -12,0zM676,1051l12,0 5-7 -12,0z"/><path fill="#00a406" d="M962,832l10,1 5,1 -11-1zM957,831l11,1 4,1 -10-1zM953,830l10,2 5,0 -11-1zM948,830l11,1 4,1 -10-2zM944,829l10,2 5,0 -11-1zM939,829l11,2 4,0 -10-2zM935,829l10,2 5,0 -11-2zM930,830l11,1 4,0 -10-2zM925,830l11,1 5,0 -11-1z"/><path fill="#008a02" d="M921,831l11,1 4-1 -11-1zM916,831l11,2 5-1 -11-1zM912,832l10,2 5-1 -11-2zM907,834l11,1 4-1 -10-2zM902,835l11,1 5-1 -11-1zM898,837l11,1 4-2 -11-1zM893,840l11,0 5-2 -11-1zM888,842l11,0 5-2 -11,0zM884,844l11,1 4-3 -11,0zM879,846l11,1 5-2 -11-1zM874,848l12,1 4-2 -11-1zM870,850l11,1 5-2 -12-1zM865,852l11,1 5-2 -11-1zM860,855l12,1 4-3 -11-1zM856,858l11,0 5-2 -12-1zM851,861l11,1 5-4 -11,0zM846,864l12,1 4-3 -11-1zM842,867l11,1 5-3 -12-1z"/><path fill="#00a406" d="M837,871l11,1 5-4 -11-1zM832,875l12,1 4-4 -11-1zM828,879l11,0 5-3 -12-1zM823,883l11,0 5-4 -11,0zM818,887l12,1 4-5 -11,0zM814,891l11,1 5-4 -12-1zM809,896l11,0 5-4 -11-1zM804,900l12,1 4-5 -11,0zM800,905l11,0 5-4 -12-1zM795,910l11,0 5-5 -11,0zM790,915l12,0 4-5 -11,0zM786,920l11,0 5-5 -12,0zM781,925l11,0 5-5 -11,0zM776,930l12,1 4-6 -11,0zM772,936l11,0 5-5 -12-1zM767,941l11,1 5-6 -11,0z"/><path fill="#0ce01e" d="M762,947l12,0 4-5 -11-1zM758,953l11,0 5-6 -12,0zM753,959l12,0 4-6 -11,0zM748,965l12,0 5-6 -12,0zM744,971l11,0 5-6 -12,0zM739,977l12,0 4-6 -11,0zM734,983l12,0 5-6 -12,0zM730,990l11,0 5-7 -12,0zM725,996l12,0 4-6 -11,0zM720,1003l12,0 5-7 -12,0z"/><path fill="#14ec28" d="M716,1009l12,0 4-6 -12,0zM711,1016l12,0 5-7 -12,0zM707,1023l11,0 5-7 -12,0zM702,1030l12,0 4-7 -11,0zM697,1037l12,0 5-7 -12,0zM693,1044l12,0 4-7 -12,0zM688,1051l12,0 5-7 -12,0z"/><path fill="#00a406" d="M972,833l11,2 4,1 -10-2zM968,832l10,2 5,1 -11-2zM963,832l11,2 4,0 -10-2zM959,831l10,2 5,1 -11-2zM954,831l11,2 4,0 -10-2zM950,831l11,1 4,1 -11-2zM945,831l11,1 5,0 -11-1zM941,831l10,2 5-1 -11-1zM936,831l11,2 4,0 -10-2z"/><path fill="#008a02" d="M932,832l10,2 5-1 -11-2zM927,833l11,1 4,0 -10-2zM922,834l11,1 5-1 -11-1zM918,835l11,1 4-1 -11-1zM913,836l11,2 5-2 -11-1zM909,838l11,1 4-1 -11-2zM904,840l11,1 5-2 -11-1zM899,842l11,1 5-2 -11-1zM895,845l11,0 4-2 -11-1zM890,847l11,0 5-2 -11,0zM886,849l11,1 4-3 -11,0zM881,851l11,1 5-2 -11-1zM876,853l11,1 5-2 -11-1zM872,856l11,1 4-3 -11-1zM867,858l11,2 5-3 -11-1zM862,862l12,1 4-3 -11-2zM858,865l11,1 5-3 -12-1zM853,868l11,1 5-3 -11-1z"/><path fill="#00a406" d="M848,872l12,1 4-4 -11-1zM844,876l11,0 5-3 -12-1zM839,879l11,1 5-4 -11,0zM834,883l12,1 4-4 -11-1zM830,888l11,0 5-4 -12-1zM825,892l11,1 5-5 -11,0zM820,896l12,1 4-4 -11-1zM816,901l11,0 5-4 -12-1zM811,905l12,1 4-5 -11,0zM806,910l12,1 5-5 -12-1zM802,915l11,1 5-5 -12-1zM797,920l12,1 4-5 -11-1zM792,925l12,1 5-5 -12-1zM788,931l11,0 5-5 -12-1zM783,936l12,1 4-6 -11,0zM778,942l12,0 5-5 -12-1z"/><path fill="#0ce01e" d="M774,947l11,1 5-6 -12,0zM769,953l12,0 4-5 -11-1zM765,959l11,0 5-6 -12,0zM760,965l12,0 4-6 -11,0zM755,971l12,0 5-6 -12,0zM751,977l11,0 5-6 -12,0zM746,983l12,1 4-7 -11,0zM741,990l12,0 5-6 -12-1zM737,996l12,0 4-6 -12,0zM732,1003l12,0 5-7 -12,0z"/><path fill="#14ec28" d="M728,1009l11,1 5-7 -12,0zM723,1016l12,0 4-6 -11-1zM718,1023l12,0 5-7 -12,0zM714,1030l12,0 4-7 -12,0zM709,1037l12,0 5-7 -12,0zM705,1044l12,0 4-7 -12,0zM700,1051l12,0 5-7 -12,0z"/><path fill="#00a406" d="M983,835l10,2 5,1 -11-2zM978,834l11,2 4,1 -10-2zM974,834l11,2 4,0 -11-2zM969,833l11,2 5,1 -11-2zM965,833l11,2 4,0 -11-2zM961,832l10,2 5,1 -11-2zM956,832l11,2 4,0 -10-2zM951,833l11,1 5,0 -11-2zM947,833l11,2 4-1 -11-1zM942,834l11,1 5,0 -11-2z"/><path fill="#008a02" d="M938,834l11,2 4-1 -11-1zM933,835l11,2 5-1 -11-2zM929,836l11,2 4-1 -11-2zM924,838l11,1 5-1 -11-2zM920,839l11,2 4-2 -11-1zM915,841l11,1 5-1 -11-2zM910,843l11,1 5-2 -11-1zM906,845l11,1 4-2 -11-1zM901,847l11,1 5-2 -11-1zM897,850l11,0 4-2 -11-1zM892,852l11,0 5-2 -11,0zM887,854l12,1 4-3 -11,0zM883,857l11,1 5-3 -12-1zM878,860l11,1 5-3 -11-1zM874,863l11,1 4-3 -11-1zM869,866l11,1 5-3 -11-1zM864,869l12,1 4-3 -11-1z"/><path fill="#00a406" d="M860,873l11,1 5-4 -12-1zM855,876l11,1 5-3 -11-1zM850,880l12,1 4-4 -11-1zM846,884l11,1 5-4 -12-1zM841,888l11,1 5-4 -11-1zM836,893l12,0 4-4 -11-1zM832,897l11,1 5-5 -12,0zM827,901l12,1 4-4 -11-1zM823,906l11,1 5-5 -12-1zM818,911l11,1 5-5 -11-1zM813,916l12,1 4-5 -11-1zM809,921l11,1 5-5 -12-1zM804,926l12,1 4-5 -11-1zM799,931l12,1 5-5 -12-1zM795,937l11,0 5-5 -12-1zM790,942l12,1 4-6 -11,0z"/><path fill="#0ce01e" d="M785,948l12,0 5-5 -12-1zM781,953l11,1 5-6 -12,0zM776,959l12,1 4-6 -11-1zM772,965l11,1 5-6 -12-1zM767,971l12,1 4-6 -11-1zM762,977l12,1 5-6 -12-1zM758,984l12,0 4-6 -12-1zM753,990l12,0 5-6 -12,0zM749,996l11,1 5-7 -12,0zM744,1003l12,0 4-6 -11-1z"/><path fill="#14ec28" d="M739,1010l12,0 5-7 -12,0zM735,1016l12,1 4-7 -12,0zM730,1023l12,0 5-6 -12-1zM726,1030l12,0 4-7 -12,0zM721,1037l12,0 5-7 -12,0zM717,1044l11,0 5-7 -12,0zM712,1051l12,0 4-7 -11,0z"/><path fill="#00a406" d="M993,837l11,2 4,2 -10-3zM989,836l11,2 4,1 -11-2zM985,836l10,2 5,0 -11-2zM980,835l11,2 4,1 -10-2zM976,835l10,1 5,1 -11-2zM971,834l11,2 4,0 -10-1zM967,834l10,2 5,0 -11-2zM962,834l11,2 4,0 -10-2zM958,835l11,2 4-1 -11-2zM953,835l11,2 5,0 -11-2zM949,836l11,2 4-1 -11-2z"/><path fill="#008a02" d="M944,837l11,2 5-1 -11-2zM940,838l11,2 4-1 -11-2zM935,839l11,2 5-1 -11-2zM931,841l11,1 4-1 -11-2zM926,842l11,2 5-2 -11-1zM921,844l11,1 5-1 -11-2zM917,846l11,1 4-2 -11-1zM912,848l11,1 5-2 -11-1zM908,850l11,1 4-2 -11-1zM903,852l11,2 5-3 -11-1zM899,855l11,1 4-2 -11-2zM894,858l11,1 5-3 -11-1zM889,861l12,1 4-3 -11-1zM885,864l11,1 5-3 -12-1zM880,867l11,1 5-3 -11-1zM876,870l11,1 4-3 -11-1z"/><path fill="#00a406" d="M871,874l11,1 5-4 -11-1zM866,877l12,2 4-4 -11-1zM862,881l11,1 5-3 -12-2zM857,885l11,1 5-4 -11-1zM852,889l12,1 4-4 -11-1zM848,893l11,1 5-4 -12-1zM843,898l12,1 4-5 -11-1zM839,902l11,1 5-4 -12-1zM834,907l11,1 5-5 -11-1zM829,912l12,1 4-5 -11-1zM825,917l11,0 5-4 -12-1zM820,922l12,0 4-5 -11,0zM816,927l11,0 5-5 -12,0zM811,932l11,1 5-6 -11,0zM806,937l12,1 4-5 -11-1zM802,943l11,1 5-6 -12-1z"/><path fill="#0ce01e" d="M797,948l12,1 4-5 -11-1zM792,954l12,1 5-6 -12-1zM788,960l12,1 4-6 -12-1zM783,966l12,0 5-5 -12-1zM779,972l11,0 5-6 -12,0zM774,978l12,1 4-7 -11,0zM770,984l11,1 5-6 -12-1zM765,990l12,1 4-6 -11-1zM760,997l12,0 5-6 -12-1zM756,1003l12,1 4-7 -12,0z"/><path fill="#14ec28" d="M751,1010l12,1 5-7 -12-1zM747,1017l11,0 5-6 -12-1zM742,1023l12,1 4-7 -11,0zM738,1030l11,1 5-7 -12-1zM733,1037l12,1 4-7 -11-1zM728,1044l12,1 5-7 -12-1zM724,1051l12,1 4-7 -12-1z"/><path fill="#00a406" d="M1004,839l10,3 5,1 -11-2zM1000,838l10,3 4,1 -10-3zM995,838l11,2 4,1 -10-3zM991,837l10,2 5,1 -11-2zM986,836l11,3 4,0 -10-2zM982,836l11,2 4,1 -11-3zM977,836l11,2 5,0 -11-2zM973,836l11,2 4,0 -11-2zM969,837l10,2 5-1 -11-2zM964,837l11,2 4,0 -10-2zM960,838l10,2 5-1 -11-2z"/><path fill="#008a02" d="M955,839l11,1 4,0 -10-2zM951,840l10,1 5-1 -11-1zM946,841l11,1 4-1 -10-1zM942,842l10,2 5-2 -11-1zM937,844l11,1 4-1 -10-2zM932,845l11,2 5-2 -11-1zM928,847l11,2 4-2 -11-2zM923,849l11,2 5-2 -11-2zM919,851l11,2 4-2 -11-2zM914,854l11,1 5-2 -11-2zM910,856l11,2 4-3 -11-1zM905,859l11,2 5-3 -11-2zM901,862l11,1 4-2 -11-2zM896,865l11,1 5-3 -11-1zM891,868l12,1 4-3 -11-1zM887,871l11,2 5-4 -12-1z"/><path fill="#00a406" d="M882,875l12,1 4-3 -11-2zM878,879l11,1 5-4 -12-1zM873,882l11,2 5-4 -11-1zM868,886l12,1 4-3 -11-2zM864,890l11,1 5-4 -12-1zM859,894l12,2 4-5 -11-1zM855,899l11,1 5-4 -12-2zM850,903l12,1 4-4 -11-1zM845,908l12,1 5-5 -12-1zM841,913l11,1 5-5 -12-1zM836,917l12,1 4-4 -11-1zM832,922l11,1 5-5 -12-1zM827,927l12,1 4-5 -11-1zM822,933l12,1 5-6 -12-1zM818,938l11,1 5-5 -12-1zM813,944l12,0 4-5 -11-1z"/><path fill="#0ce01e" d="M809,949l11,1 5-6 -12,0zM804,955l12,1 4-6 -11-1zM800,961l11,0 5-5 -12-1zM795,966l12,1 4-6 -11,0zM790,972l12,1 5-6 -12-1zM786,979l12,0 4-6 -12-1zM781,985l12,1 5-7 -12,0zM777,991l11,1 5-6 -12-1zM772,997l12,1 4-6 -11-1zM768,1004l11,1 5-7 -12-1zM763,1011l12,0 4-6 -11-1z"/><path fill="#14ec28" d="M758,1017l12,1 5-7 -12,0zM754,1024l12,1 4-7 -12-1zM749,1031l12,0 5-6 -12-1zM745,1038l12,0 4-7 -12,0zM740,1045l12,0 5-7 -12,0zM736,1052l12,0 4-7 -12,0z"/><path fill="#00a406" d="M1014,842l11,2 4,1 -10-2zM1010,841l11,2 4,1 -11-2zM1006,840l10,2 5,1 -11-2zM1001,839l11,2 4,1 -10-2zM997,839l11,2 4,0 -11-2zM993,838l10,3 5,0 -11-2zM988,838l11,2 4,1 -10-3zM984,838l10,2 5,0 -11-2zM979,839l11,2 4-1 -10-2zM975,839l11,2 4,0 -11-2zM970,840l11,2 5-1 -11-2zM966,840l11,2 4,0 -11-2z"/><path fill="#008a02" d="M961,841l11,2 5-1 -11-2zM957,842l11,2 4-1 -11-2zM952,844l11,2 5-2 -11-2zM948,845l11,2 4-1 -11-2zM943,847l11,2 5-2 -11-2zM939,849l11,2 4-2 -11-2zM934,851l11,2 5-2 -11-2zM930,853l11,2 4-2 -11-2zM925,855l11,2 5-2 -11-2zM921,858l11,1 4-2 -11-2zM916,861l11,1 5-3 -11-1zM912,863l11,2 4-3 -11-1zM907,866l11,2 5-3 -11-2zM903,869l11,2 4-3 -11-2z"/><path fill="#00a406" d="M898,873l11,1 5-3 -11-2zM894,876l11,2 4-4 -11-1zM889,880l11,1 5-3 -11-2zM884,884l12,1 4-4 -11-1zM880,887l11,2 5-4 -12-1zM875,891l12,2 4-4 -11-2zM871,896l11,1 5-4 -12-2zM866,900l12,1 4-4 -11-1zM862,904l11,2 5-5 -12-1zM857,909l11,1 5-4 -11-2zM852,914l12,1 4-5 -11-1zM848,918l11,2 5-5 -12-1zM843,923l12,2 4-5 -11-2zM839,928l11,2 5-5 -12-2zM834,934l12,1 4-5 -11-2zM829,939l12,1 5-5 -12-1zM825,944l12,1 4-5 -12-1z"/><path fill="#0ce01e" d="M820,950l12,1 5-6 -12-1zM816,956l11,1 5-6 -12-1zM811,961l12,1 4-5 -11-1zM807,967l11,1 5-6 -12-1zM802,973l12,1 4-6 -11-1zM798,979l11,1 5-6 -12-1zM793,986l12,0 4-6 -11-1zM788,992l12,1 5-7 -12,0zM784,998l12,1 4-6 -12-1zM779,1005l12,0 5-6 -12-1zM775,1011l12,1 4-7 -12,0z"/><path fill="#14ec28" d="M770,1018l12,1 5-7 -12-1zM766,1025l12,0 4-6 -12-1zM761,1031l12,1 5-7 -12,0zM757,1038l12,1 4-7 -12-1zM752,1045l12,1 5-7 -12-1zM748,1052l12,1 4-7 -12-1z"/><path fill="#00a406" d="M1025,844l10,3 5,1 -11-3zM1021,843l10,3 4,1 -10-3zM1016,842l11,3 4,1 -10-3zM1012,841l11,3 4,1 -11-3zM1008,841l10,2 5,1 -11-3zM1003,841l11,2 4,0 -10-2zM999,840l11,3 4,0 -11-2zM994,840l11,3 5,0 -11-3zM990,841l11,2 4,0 -11-3zM986,841l10,2 5,0 -11-2zM981,842l11,2 4-1 -10-2zM977,842l11,2 4,0 -11-2zM972,843l11,2 5-1 -11-2z"/><path fill="#008a02" d="M968,844l11,2 4-1 -11-2zM963,846l11,2 5-2 -11-2zM959,847l11,2 4-1 -11-2zM954,849l11,2 5-2 -11-2zM950,851l11,1 4-1 -11-2zM945,853l12,1 4-2 -11-1zM941,855l11,2 5-3 -12-1zM936,857l12,2 4-2 -11-2zM932,859l11,2 5-2 -12-2zM927,862l12,2 4-3 -11-2zM923,865l11,2 5-3 -12-2zM918,868l12,2 4-3 -11-2zM914,871l11,2 5-3 -12-2z"/><path fill="#00a406" d="M909,874l12,2 4-3 -11-2zM905,878l11,1 5-3 -12-2zM900,881l12,2 4-4 -11-1zM896,885l11,1 5-3 -12-2zM891,889l11,1 5-4 -11-1zM887,893l11,1 4-4 -11-1zM882,897l11,1 5-4 -11-1zM878,901l11,2 4-5 -11-1zM873,906l11,1 5-4 -11-2zM868,910l12,1 4-4 -11-1zM864,915l11,1 5-5 -12-1zM859,920l12,1 4-5 -11-1zM855,925l11,1 5-5 -12-1zM850,930l12,1 4-5 -11-1zM846,935l11,1 5-5 -12-1zM841,940l12,1 4-5 -11-1zM837,945l11,2 5-6 -12-1z"/><path fill="#0ce01e" d="M832,951l12,1 4-5 -11-2zM827,957l12,1 5-6 -12-1zM823,962l12,1 4-5 -12-1zM818,968l12,1 5-6 -12-1zM814,974l12,1 4-6 -12-1zM809,980l12,1 5-6 -12-1zM805,986l11,1 5-6 -12-1zM800,993l12,1 4-7 -11-1zM796,999l11,1 5-6 -12-1zM791,1005l12,1 4-6 -11-1zM787,1012l11,1 5-7 -12-1z"/><path fill="#14ec28" d="M782,1019l12,1 4-7 -11-1zM778,1025l11,1 5-6 -12-1zM773,1032l12,1 4-7 -11-1zM769,1039l11,1 5-7 -12-1zM764,1046l12,1 4-7 -11-1zM760,1053l12,1 4-7 -12-1z"/><path fill="#00a406" d="M1035,847l11,2 4,2 -10-3zM1031,846l11,2 4,1 -11-2zM1027,845l10,2 5,1 -11-2zM1023,844l10,2 4,1 -10-2zM1018,843l11,3 4,0 -10-2zM1014,843l11,2 4,1 -11-3zM1010,843l10,2 5,0 -11-2zM1005,843l11,2 4,0 -10-2zM1001,843l11,2 4,0 -11-2zM996,843l11,2 5,0 -11-2zM992,844l11,2 4-1 -11-2zM988,844l10,3 5-1 -11-2zM983,845l11,3 4-1 -10-3zM979,846l11,3 4-1 -11-3zM974,848l11,2 5-1 -11-3z"/><path fill="#008a02" d="M970,849l11,2 4-1 -11-2zM965,851l11,2 5-2 -11-2zM961,852l11,2 4-1 -11-2zM957,854l11,2 4-2 -11-2zM952,857l11,1 5-2 -11-2zM948,859l11,2 4-3 -11-1zM943,861l11,2 5-2 -11-2zM939,864l11,2 4-3 -11-2zM934,867l11,1 5-2 -11-2zM930,870l11,1 4-3 -11-1z"/><path fill="#00a406" d="M925,873l11,1 5-3 -11-1zM921,876l11,2 4-4 -11-1zM916,879l11,2 5-3 -11-2zM912,883l11,1 4-3 -11-2zM907,886l11,2 5-4 -11-1zM902,890l12,2 4-4 -11-2zM898,894l11,2 5-4 -12-2zM893,898l12,2 4-4 -11-2zM889,903l11,1 5-4 -12-2zM884,907l12,1 4-4 -11-1zM880,911l11,2 5-5 -12-1zM875,916l12,2 4-5 -11-2zM871,921l11,1 5-4 -12-2zM866,926l12,1 4-5 -11-1zM862,931l11,1 5-5 -12-1zM857,936l12,1 4-5 -11-1zM853,941l11,2 5-6 -12-1zM848,947l12,1 4-5 -11-2z"/><path fill="#0ce01e" d="M844,952l11,1 5-5 -12-1zM839,958l12,1 4-6 -11-1zM835,963l11,2 5-6 -12-1zM830,969l12,2 4-6 -11-2zM826,975l11,1 5-5 -12-2zM821,981l12,1 4-6 -11-1zM816,987l12,2 5-7 -12-1zM812,994l12,1 4-6 -12-2zM807,1000l12,1 5-6 -12-1zM803,1006l12,2 4-7 -12-1zM798,1013l12,1 5-6 -12-2z"/><path fill="#14ec28" d="M794,1020l12,1 4-7 -12-1zM789,1026l12,1 5-6 -12-1zM785,1033l12,1 4-7 -12-1zM780,1040l12,1 5-7 -12-1zM776,1047l12,1 4-7 -12-1zM772,1054l11,1 5-7 -12-1z"/><path fill="#00a406" d="M1046,849l10,3 5,2 -11-3zM1042,848l10,3 4,1 -10-3zM1037,847l11,3 4,1 -10-3zM1033,846l11,3 4,1 -11-3zM1029,846l10,2 5,1 -11-3zM1025,845l10,3 4,0 -10-2zM1020,845l11,3 4,0 -10-3zM1016,845l11,2 4,1 -11-3zM1012,845l10,3 5-1 -11-2zM1007,845l11,3 4,0 -10-3zM1003,846l11,2 4,0 -11-3zM998,847l11,2 5-1 -11-2zM994,848l11,2 4-1 -11-2zM990,849l11,2 4-1 -11-2zM985,850l11,2 5-1 -11-2zM981,851l11,2 4-1 -11-2z"/><path fill="#008a02" d="M976,853l11,2 5-2 -11-2zM972,854l11,3 4-2 -11-2zM968,856l11,2 4-1 -11-3zM963,858l11,3 5-3 -11-2zM959,861l11,2 4-2 -11-3zM954,863l11,2 5-2 -11-2zM950,866l11,2 4-3 -11-2z"/><path fill="#00a406" d="M945,868l11,2 5-2 -11-2zM941,871l11,2 4-3 -11-2zM936,874l12,2 4-3 -11-2zM932,878l11,1 5-3 -12-2zM927,881l12,2 4-4 -11-1zM923,884l11,2 5-3 -12-2zM918,888l12,2 4-4 -11-2zM914,892l11,2 5-4 -12-2zM909,896l12,1 4-3 -11-2zM905,900l11,2 5-5 -12-1zM900,904l12,2 4-4 -11-2zM896,908l11,2 5-4 -12-2zM891,913l12,2 4-5 -11-2zM887,918l11,1 5-4 -12-2zM882,922l12,2 4-5 -11-1zM878,927l11,2 5-5 -12-2zM873,932l12,2 4-5 -11-2zM869,937l11,2 5-5 -12-2zM864,943l12,1 4-5 -11-2zM860,948l11,1 5-5 -12-1z"/><path fill="#0ce01e" d="M855,953l12,2 4-6 -11-1zM851,959l11,1 5-5 -12-2zM846,965l12,1 4-6 -11-1zM842,971l11,1 5-6 -12-1zM837,976l12,2 4-6 -11-1zM833,982l11,2 5-6 -12-2zM828,989l12,1 4-6 -11-2zM824,995l11,1 5-6 -12-1zM819,1001l12,1 4-6 -11-1zM815,1008l12,1 4-7 -12-1zM810,1014l12,1 5-6 -12-1z"/><path fill="#14ec28" d="M806,1021l12,1 4-7 -12-1zM801,1027l12,2 5-7 -12-1zM797,1034l12,1 4-6 -12-2zM792,1041l12,1 5-7 -12-1zM788,1048l12,1 4-7 -12-1zM783,1055l12,1 5-7 -12-1z"/><path fill="#00a406" d="M1056,852l11,3 4,1 -10-2zM1052,851l11,3 4,1 -11-3zM1048,850l11,3 4,1 -11-3zM1044,849l10,3 5,1 -11-3zM1039,848l11,3 4,1 -10-3zM1035,848l11,3 4,0 -11-3zM1031,848l11,2 4,1 -11-3zM1027,847l10,3 5,0 -11-2zM1022,848l11,2 4,0 -10-3zM1018,848l11,2 4,0 -11-2zM1014,848l10,3 5-1 -11-2zM1009,849l11,2 4,0 -10-3zM1005,850l11,2 4-1 -11-2zM1001,851l10,2 5-1 -11-2zM996,852l11,2 4-1 -10-2zM992,853l11,3 4-2 -11-2zM987,855l11,2 5-1 -11-3zM983,857l11,2 4-2 -11-2zM979,858l11,3 4-2 -11-2zM974,861l11,2 5-2 -11-3zM970,863l11,2 4-2 -11-2zM965,865l11,2 5-2 -11-2zM961,868l11,2 4-3 -11-2zM956,870l12,2 4-2 -11-2zM952,873l11,2 5-3 -12-2zM948,876l11,2 4-3 -11-2zM943,879l11,2 5-3 -11-2zM939,883l11,2 4-4 -11-2zM934,886l11,2 5-3 -11-2zM930,890l11,2 4-4 -11-2zM925,894l11,1 5-3 -11-2zM921,897l11,2 4-4 -11-1zM916,902l12,1 4-4 -11-2zM912,906l11,2 5-5 -12-1zM907,910l12,2 4-4 -11-2zM903,915l11,1 5-4 -12-2zM898,919l12,2 4-5 -11-1zM894,924l11,2 5-5 -12-2zM889,929l12,1 4-4 -11-2zM885,934l11,1 5-5 -12-1zM880,939l12,1 4-5 -11-1zM876,944l11,2 5-6 -12-1zM871,949l12,2 4-5 -11-2z"/><path fill="#0ce01e" d="M867,955l11,1 5-5 -12-2zM862,960l12,2 4-6 -11-1zM858,966l12,2 4-6 -12-2zM853,972l12,1 5-5 -12-2zM849,978l12,1 4-6 -12-1zM844,984l12,1 5-6 -12-1zM840,990l12,1 4-6 -12-1zM835,996l12,2 5-7 -12-1zM831,1002l12,2 4-6 -12-2zM827,1009l11,1 5-6 -12-2zM822,1015l12,2 4-7 -11-1z"/><path fill="#14ec28" d="M818,1022l11,1 5-6 -12-2zM813,1029l12,1 4-7 -11-1zM809,1035l12,2 4-7 -12-1zM804,1042l12,1 5-6 -12-2zM800,1049l12,1 4-7 -12-1zM795,1056l12,1 5-7 -12-1z"/><path fill="#0ce01e" d="M1067,855l10,3 4,2 -10-4z"/><path fill="#00a406" d="M1063,854l10,3 4,1 -10-3zM1059,853l10,3 4,1 -10-3zM1054,852l11,3 4,1 -10-3zM1050,851l11,3 4,1 -11-3zM1046,851l10,2 5,1 -11-3zM1042,850l10,3 4,0 -10-2zM1037,850l11,3 4,0 -10-3zM1033,850l11,3 4,0 -11-3zM1029,850l10,3 5,0 -11-3zM1024,851l11,2 4,0 -10-3zM1020,851l11,3 4-1 -11-2zM1016,852l11,3 4-1 -11-3zM1011,853l11,3 5-1 -11-3zM1007,854l11,3 4-1 -11-3zM1003,856l11,2 4-1 -11-3zM998,857l11,3 5-2 -11-2zM994,859l11,2 4-1 -11-3zM990,861l11,2 4-2 -11-2zM985,863l11,2 5-2 -11-2zM981,865l11,2 4-2 -11-2zM976,867l11,3 5-3 -11-2zM972,870l11,2 4-2 -11-3zM968,872l11,3 4-3 -11-2zM963,875l11,2 5-2 -11-3zM959,878l11,2 4-3 -11-2zM954,881l11,2 5-3 -11-2zM950,885l11,2 4-4 -11-2zM945,888l12,2 4-3 -11-2zM941,892l11,2 5-4 -12-2zM936,895l12,2 4-3 -11-2zM932,899l11,2 5-4 -12-2zM928,903l11,2 4-4 -11-2zM923,908l12,1 4-4 -11-2zM919,912l11,2 5-5 -12-1zM914,916l12,2 4-4 -11-2zM910,921l11,2 5-5 -12-2zM905,926l12,1 4-4 -11-2zM901,930l11,2 5-5 -12-1zM896,935l12,2 4-5 -11-2zM892,940l11,2 5-5 -12-2zM887,946l12,1 4-5 -11-2zM883,951l12,2 4-6 -12-1z"/><path fill="#0ce01e" d="M878,956l12,2 5-5 -12-2zM874,962l12,2 4-6 -12-2zM870,968l11,1 5-5 -12-2zM865,973l12,2 4-6 -11-1zM861,979l11,2 5-6 -12-2zM856,985l12,2 4-6 -11-2zM852,991l11,2 5-6 -12-2zM847,998l12,1 4-6 -11-2zM843,1004l12,1 4-6 -12-1zM838,1010l12,2 5-7 -12-1zM834,1017l12,1 4-6 -12-2z"/><path fill="#14ec28" d="M829,1023l12,2 5-7 -12-1zM825,1030l12,1 4-6 -12-2zM821,1037l11,1 5-7 -12-1zM816,1043l12,2 4-7 -11-1zM812,1050l12,2 4-7 -12-2zM807,1057l12,2 5-7 -12-2z"/><path fill="#0ce01e" d="M1077,858l11,3 4,2 -11-3z"/><path fill="#00a406" d="M1073,857l11,3 4,1 -11-3zM1069,856l11,3 4,1 -11-3zM1065,855l10,3 5,1 -11-3zM1061,854l10,3 4,1 -10-3zM1056,853l11,3 4,1 -10-3zM1052,853l11,3 4,0 -11-3zM1048,853l11,3 4,0 -11-3zM1044,853l10,3 5,0 -11-3zM1039,853l11,3 4,0 -10-3zM1035,853l11,3 4,0 -11-3zM1031,854l11,3 4-1 -11-3zM1027,855l10,3 5-1 -11-3zM1022,856l11,2 4,0 -10-3zM1018,857l11,3 4-2 -11-2zM1014,858l11,3 4-1 -11-3zM1009,860l11,2 5-1 -11-3zM1005,861l11,3 4-2 -11-2zM1001,863l11,3 4-2 -11-3zM996,865l11,3 5-2 -11-3zM992,867l11,3 4-2 -11-3zM987,870l12,2 4-2 -11-3zM983,872l11,2 5-2 -12-2zM979,875l11,2 4-3 -11-2zM974,877l11,3 5-3 -11-2zM970,880l11,3 4-3 -11-3zM965,883l12,3 4-3 -11-3zM961,887l11,2 5-3 -12-3zM957,890l11,2 4-3 -11-2zM952,894l12,2 4-4 -11-2zM948,897l11,3 5-4 -12-2zM943,901l12,2 4-3 -11-3zM939,905l11,2 5-4 -12-2zM935,909l11,3 4-5 -11-2zM930,914l11,2 5-4 -11-3zM926,918l11,2 4-4 -11-2zM921,923l12,2 4-5 -11-2zM917,927l11,2 5-4 -12-2zM912,932l12,2 4-5 -11-2zM908,937l11,2 5-5 -12-2zM903,942l12,2 4-5 -11-2zM899,947l12,2 4-5 -12-2z"/><path fill="#0ce01e" d="M895,953l11,2 5-6 -12-2zM890,958l12,2 4-5 -11-2zM886,964l11,1 5-5 -12-2zM881,969l12,2 4-6 -11-1zM877,975l11,2 5-6 -12-2zM872,981l12,2 4-6 -11-2zM868,987l12,2 4-6 -12-2zM863,993l12,2 5-6 -12-2zM859,999l12,2 4-6 -12-2zM855,1005l11,2 5-6 -12-2zM850,1012l12,1 4-6 -11-2zM846,1018l11,2 5-7 -12-1z"/><path fill="#14ec28" d="M841,1025l12,1 4-6 -11-2zM837,1031l12,2 4-7 -12-1zM832,1038l12,2 5-7 -12-2zM828,1045l12,2 4-7 -12-2zM824,1052l11,1 5-6 -12-2zM819,1059l12,1 4-7 -11-1z"/><path fill="#0ce01e" d="M1088,861l10,3 4,2 -10-3zM1084,860l10,3 4,1 -10-3z"/><path fill="#00a406" d="M1080,859l10,3 4,1 -10-3zM1075,858l11,3 4,1 -10-3zM1071,857l11,3 4,1 -11-3zM1067,856l11,3 4,1 -11-3zM1063,856l10,3 5,0 -11-3zM1059,856l10,3 4,0 -10-3zM1054,856l11,3 4,0 -10-3zM1050,856l11,3 4,0 -11-3zM1046,856l11,3 4,0 -11-3zM1042,857l10,3 5-1 -11-3zM1037,858l11,2 4,0 -10-3zM1033,858l11,3 4-1 -11-2zM1029,860l11,2 4-1 -11-3zM1025,861l10,2 5-1 -11-2zM1020,862l11,3 4-2 -10-2zM1016,864l11,2 4-1 -11-3zM1012,866l11,2 4-2 -11-2zM1007,868l11,2 5-2 -11-2zM1003,870l11,2 4-2 -11-2zM999,872l11,2 4-2 -11-2zM994,874l11,3 5-3 -11-2zM990,877l11,2 4-2 -11-3zM985,880l12,2 4-3 -11-2zM981,883l11,2 5-3 -12-2zM977,886l11,2 4-3 -11-2zM972,889l12,2 4-3 -11-2zM968,892l11,3 5-4 -12-2zM964,896l11,2 4-3 -11-3zM959,900l11,2 5-4 -11-2zM955,903l11,3 4-4 -11-2zM950,907l12,3 4-4 -11-3zM946,912l11,2 5-4 -12-3zM941,916l12,2 4-4 -11-2zM937,920l11,2 5-4 -12-2zM933,925l11,2 4-5 -11-2zM928,929l12,2 4-4 -11-2zM924,934l11,2 5-5 -12-2zM919,939l12,2 4-5 -11-2zM915,944l11,2 5-5 -12-2zM911,949l11,2 4-5 -11-2z"/><path fill="#0ce01e" d="M906,955l12,2 4-6 -11-2zM902,960l11,2 5-5 -12-2zM897,965l12,2 4-5 -11-2zM893,971l11,2 5-6 -12-2zM888,977l12,2 4-6 -11-2zM884,983l12,2 4-6 -12-2zM880,989l11,2 5-6 -12-2zM875,995l12,2 4-6 -11-2zM871,1001l11,2 5-6 -12-2zM866,1007l12,2 4-6 -11-2zM862,1013l12,2 4-6 -12-2z"/><path fill="#14ec28" d="M857,1020l12,2 5-7 -12-2zM853,1026l12,2 4-6 -12-2zM849,1033l12,2 4-7 -12-2zM844,1040l12,2 5-7 -12-2zM840,1047l12,1 4-6 -12-2zM835,1053l12,2 5-7 -12-1zM831,1060l12,2 4-7 -12-2z"/><path fill="#0ce01e" d="M1098,864l11,4 4,2 -11-4zM1094,863l11,3 4,2 -11-4zM1090,862l11,3 4,1 -11-3z"/><path fill="#00a406" d="M1086,861l10,3 5,1 -11-3zM1082,860l10,3 4,1 -10-3zM1078,859l10,4 4,0 -10-3zM1073,859l11,3 4,1 -10-4zM1069,859l11,3 4,0 -11-3zM1065,859l11,3 4,0 -11-3zM1061,859l11,3 4,0 -11-3zM1057,859l10,3 5,0 -11-3zM1052,860l11,3 4-1 -10-3zM1048,860l11,3 4,0 -11-3zM1044,861l11,3 4-1 -11-3zM1040,862l11,3 4-1 -11-3zM1035,863l11,3 5-1 -11-3zM1031,865l11,3 4-2 -11-3zM1027,866l11,3 4-1 -11-3zM1023,868l11,3 4-2 -11-3zM1018,870l11,3 5-2 -11-3zM1014,872l11,3 4-2 -11-3zM1010,874l11,3 4-2 -11-3zM1005,877l11,2 5-2 -11-3zM1001,879l11,3 4-3 -11-2zM997,882l11,3 4-3 -11-3zM992,885l11,3 5-3 -11-3zM988,888l11,3 4-3 -11-3zM984,891l11,3 4-3 -11-3zM979,895l11,2 5-3 -11-3zM975,898l11,3 4-4 -11-2zM970,902l12,2 4-3 -11-3zM966,906l11,2 5-4 -12-2zM962,910l11,2 4-4 -11-2zM957,914l12,2 4-4 -11-2zM953,918l11,2 5-4 -12-2zM948,922l12,3 4-5 -11-2zM944,927l12,2 4-4 -12-3zM940,931l11,3 5-5 -12-2zM935,936l12,2 4-4 -11-3zM931,941l11,2 5-5 -12-2zM926,946l12,2 4-5 -11-2zM922,951l12,2 4-5 -12-2z"/><path fill="#0ce01e" d="M918,957l11,2 5-6 -12-2zM913,962l12,2 4-5 -11-2zM909,967l11,3 5-6 -12-2zM904,973l12,2 4-5 -11-3zM900,979l12,2 4-6 -12-2zM896,985l11,2 5-6 -12-2zM891,991l12,2 4-6 -11-2zM887,997l12,2 4-6 -12-2zM882,1003l12,2 5-6 -12-2zM878,1009l12,2 4-6 -12-2zM874,1015l11,2 5-6 -12-2z"/><path fill="#14ec28" d="M869,1022l12,2 4-7 -11-2zM865,1028l12,2 4-6 -12-2zM861,1035l11,2 5-7 -12-2zM856,1042l12,2 4-7 -11-2zM852,1048l12,2 4-6 -12-2zM847,1055l12,2 5-7 -12-2zM843,1062l12,2 4-7 -12-2z"/><path fill="#0ce01e" d="M1109,868l10,3 4,2 -10-3zM1105,866l10,4 4,1 -10-3zM1101,865l10,4 4,1 -10-4zM1096,864l11,4 4,1 -10-4z"/><path fill="#00a406" d="M1092,863l11,4 4,1 -11-4zM1088,863l11,3 4,1 -11-4zM1084,862l11,3 4,1 -11-3zM1080,862l11,3 4,0 -11-3zM1076,862l10,3 5,0 -11-3zM1072,862l10,3 4,0 -10-3zM1067,862l11,3 4,0 -10-3zM1063,863l11,3 4-1 -11-3zM1059,863l11,3 4,0 -11-3zM1055,864l11,3 4-1 -11-3zM1051,865l10,3 5-1 -11-3zM1046,866l11,3 4-1 -10-3zM1042,868l11,3 4-2 -11-3zM1038,869l11,3 4-1 -11-3zM1034,871l11,3 4-2 -11-3zM1029,873l11,3 5-2 -11-3zM1025,875l11,3 4-2 -11-3zM1021,877l11,3 4-2 -11-3zM1016,879l11,3 5-2 -11-3zM1012,882l11,3 4-3 -11-3zM1008,885l11,2 4-2 -11-3zM1003,888l12,2 4-3 -11-2zM999,891l11,2 5-3 -12-2zM995,894l11,2 4-3 -11-2zM990,897l12,3 4-4 -11-2zM986,901l11,2 5-3 -12-3zM982,904l11,3 4-4 -11-2zM977,908l12,3 4-4 -11-3zM973,912l11,2 5-3 -12-3zM969,916l11,2 4-4 -11-2zM964,920l12,3 4-5 -11-2zM960,925l11,2 5-4 -12-3zM956,929l11,2 4-4 -11-2zM951,934l12,2 4-5 -11-2zM947,938l11,3 5-5 -12-2zM942,943l12,3 4-5 -11-3zM938,948l12,3 4-5 -12-3z"/><path fill="#0ce01e" d="M934,953l11,3 5-5 -12-3zM929,959l12,2 4-5 -11-3zM925,964l11,2 5-5 -12-2zM920,970l12,2 4-6 -11-2zM916,975l12,2 4-5 -12-2zM912,981l11,2 5-6 -12-2zM907,987l12,2 4-6 -11-2zM903,993l12,2 4-6 -12-2zM899,999l11,2 5-6 -12-2zM894,1005l12,2 4-6 -11-2zM890,1011l12,2 4-6 -12-2zM885,1017l12,2 5-6 -12-2z"/><path fill="#14ec28" d="M881,1024l12,2 4-7 -12-2zM877,1030l11,2 5-6 -12-2zM872,1037l12,2 4-7 -11-2zM868,1044l12,2 4-7 -12-2zM864,1050l11,2 5-6 -12-2zM859,1057l12,2 4-7 -11-2zM855,1064l12,2 4-7 -12-2z"/><path fill="#0ce01e" d="M1119,871l10,4 4,2 -10-4zM1115,870l10,4 4,1 -10-4zM1111,869l10,3 4,2 -10-4zM1107,868l10,3 4,1 -10-3z"/><path fill="#00a406" d="M1103,867l10,3 4,1 -10-3zM1099,866l10,3 4,1 -10-3zM1095,865l10,4 4,0 -10-3zM1091,865l10,4 4,0 -10-4zM1086,865l11,3 4,1 -10-4zM1082,865l11,3 4,0 -11-3zM1078,865l11,4 4-1 -11-3zM1074,866l11,3 4,0 -11-4zM1070,866l11,4 4-1 -11-3zM1066,867l10,3 5,0 -11-4zM1061,868l11,3 4-1 -10-3zM1057,869l11,3 4-1 -11-3zM1053,871l11,3 4-2 -11-3zM1049,872l11,3 4-1 -11-3zM1045,874l10,3 5-2 -11-3zM1040,876l11,3 4-2 -10-3zM1036,878l11,3 4-2 -11-3zM1032,880l11,3 4-2 -11-3zM1027,882l12,3 4-2 -11-3zM1023,885l11,3 5-3 -12-3zM1019,887l11,3 4-2 -11-3zM1015,890l11,3 4-3 -11-3zM1010,893l11,3 5-3 -11-3zM1006,896l11,3 4-3 -11-3zM1002,900l11,2 4-3 -11-3zM997,903l12,3 4-4 -11-2zM993,907l11,2 5-3 -12-3zM989,911l11,2 4-4 -11-2zM984,914l12,3 4-4 -11-2zM980,918l11,3 5-4 -12-3zM976,923l11,2 4-4 -11-3zM971,927l12,3 4-5 -11-2zM967,931l11,3 5-4 -12-3zM963,936l11,3 4-5 -11-3zM958,941l12,2 4-4 -11-3zM954,946l11,2 5-5 -12-2zM950,951l11,2 4-5 -11-2z"/><path fill="#0ce01e" d="M945,956l12,2 4-5 -11-2zM941,961l11,2 5-5 -12-2zM936,966l12,3 4-6 -11-2zM932,972l12,2 4-5 -12-3zM928,977l11,3 5-6 -12-2zM923,983l12,2 4-5 -11-3zM919,989l12,2 4-6 -12-2zM915,995l11,2 5-6 -12-2zM910,1001l12,2 4-6 -11-2zM906,1007l12,2 4-6 -12-2zM902,1013l11,2 5-6 -12-2zM897,1019l12,3 4-7 -11-2z"/><path fill="#14ec28" d="M893,1026l12,2 4-6 -12-3zM888,1032l12,3 5-7 -12-2zM884,1039l12,2 4-6 -12-3zM880,1046l12,2 4-7 -12-2zM875,1052l12,3 5-7 -12-2zM871,1059l12,2 4-6 -12-3zM867,1066l12,2 4-7 -12-2z"/></g>
<g opacity="0.999"><circle cx="89.7" cy="277.3" r="1.7" fill="#000"/>
<circle cx="86.5" cy="234.1" r="1.7" fill="#000"/>
<text x="79.8" y="244.3" font-size="10.6" text-anchor="end" >30</text>
<circle cx="83.2" cy="188" r="1.7" fill="#000"/>
<text x="76.5" y="198.2" font-size="10.6" text-anchor="end" >47.5</text>
<circle cx="79.8" cy="141.9" r="1.7" fill="#000"/>
<text x="73.1" y="152.1" font-size="10.6" text-anchor="end" >65</text>
<circle cx="76.4" cy="95.7" r="1.7" fill="#000"/>
<text x="69.7" y="105.9" font-size="10.6" text-anchor="end" >82.5</text>
<circle cx="73" cy="49.6" r="1.7" fill="#000"/>
<text x="66.3" y="59.8" font-size="10.6" text-anchor="end" >100</text>
<circle cx="89.7" cy="277.3" r="1.7" fill="#000"/>
<text x="82.9" y="287.4" font-size="10.6" text-anchor="end" >4</text>
<circle cx="165.9" cy="292.7" r="1.7" fill="#000"/>
<text x="159.1" y="302.8" font-size="10.6" text-anchor="end" >6</text>
<circle cx="242" cy="308" r="1.7" fill="#000"/>
<text x="235.2" y="318.1" font-size="10.6" text-anchor="end" >8</text>
<circle cx="318.2" cy="323.3" r="1.7" fill="#000"/>
<text x="311.4" y="333.4" font-size="10.6" text-anchor="end" >10</text>
<circle cx="394.3" cy="338.7" r="1.7" fill="#000"/>
<text x="387.5" y="348.8" font-size="10.6" text-anchor="end" >12</text>
<circle cx="394.3" cy="338.7" r="1.7" fill="#000"/>
<text x="401.5" y="348.9" font-size="10.6" text-anchor="start" >100</text>
<circle cx="438.4" cy="316.2" r="1.7" fill="#000"/>
<text x="445.6" y="326.4" font-size="10.6" text-anchor="start" >325</text>
<circle cx="482.5" cy="293.6" r="1.7" fill="#000"/>
<text x="489.7" y="303.8" font-size="10.6" text-anchor="start" >550</text>
<circle cx="526.6" cy="271.1" r="1.7" fill="#000"/>
<text x="533.8" y="281.3" font-size="10.6" text-anchor="start" >775</text>
<circle cx="570.7" cy="248.6" r="1.7" fill="#000"/>
<text x="577.9" y="258.8" font-size="10.6" text-anchor="start" >1000</text>
<text x="153.6" y="353.1" font-size="19" text-anchor="start" >pH</text>
<text x="532.9" y="325.2" font-size="18.9" text-anchor="start" >ZIF-67 (mg/L)</text>
<text transform="translate(17.3,219.8) rotate(-90)" font-size="19.6">Removal (%)</text>
<circle cx="94.6" cy="672.4" r="1.7" fill="#000"/>
<circle cx="91.5" cy="628.4" r="1.7" fill="#000"/>
<text x="84.8" y="638.6" font-size="10.6" text-anchor="end" >30</text>
<circle cx="88.1" cy="581.4" r="1.7" fill="#000"/>
<text x="81.4" y="591.6" font-size="10.6" text-anchor="end" >47.5</text>
<circle cx="84.7" cy="534.4" r="1.7" fill="#000"/>
<text x="78" y="544.6" font-size="10.6" text-anchor="end" >65</text>
<circle cx="81.4" cy="487.4" r="1.7" fill="#000"/>
<text x="74.7" y="497.6" font-size="10.6" text-anchor="end" >82.5</text>
<circle cx="78" cy="440.4" r="1.7" fill="#000"/>
<text x="71.3" y="450.6" font-size="10.6" text-anchor="end" >100</text>
<circle cx="94.6" cy="672.4" r="1.7" fill="#000"/>
<text x="87.8" y="682.5" font-size="10.6" text-anchor="end" >100</text>
<circle cx="179.5" cy="683.9" r="1.7" fill="#000"/>
<text x="172.7" y="694" font-size="10.6" text-anchor="end" >325</text>
<circle cx="264.4" cy="695.3" r="1.7" fill="#000"/>
<text x="257.6" y="705.4" font-size="10.6" text-anchor="end" >550</text>
<circle cx="349.3" cy="706.8" r="1.7" fill="#000"/>
<text x="342.5" y="716.9" font-size="10.6" text-anchor="end" >775</text>
<circle cx="434.2" cy="718.3" r="1.7" fill="#000"/>
<text x="427.4" y="728.4" font-size="10.6" text-anchor="end" >1000</text>
<circle cx="434.2" cy="718.3" r="1.7" fill="#000"/>
<text x="441.4" y="728.5" font-size="10.6" text-anchor="start" >10</text>
<circle cx="464.2" cy="694.4" r="1.7" fill="#000"/>
<text x="471.4" y="704.6" font-size="10.6" text-anchor="start" >32.5</text>
<circle cx="494.3" cy="670.5" r="1.7" fill="#000"/>
<text x="501.5" y="680.8" font-size="10.6" text-anchor="start" >55</text>
<circle cx="524.3" cy="646.7" r="1.7" fill="#000"/>
<text x="531.5" y="656.9" font-size="10.6" text-anchor="start" >77.5</text>
<circle cx="554.4" cy="622.8" r="1.7" fill="#000"/>
<text x="561.6" y="633" font-size="10.6" text-anchor="start" >100</text>
<text x="149.7" y="743.8" font-size="18.9" text-anchor="start" >ZIF-67 (mg/L)</text>
<text x="561.3" y="696.5" font-size="18.6" text-anchor="start" >Time (min)</text>
<text transform="translate(21.7,611.5) rotate(-90)" font-size="19.6">Removal (%)</text></g>
</svg></body></html>
